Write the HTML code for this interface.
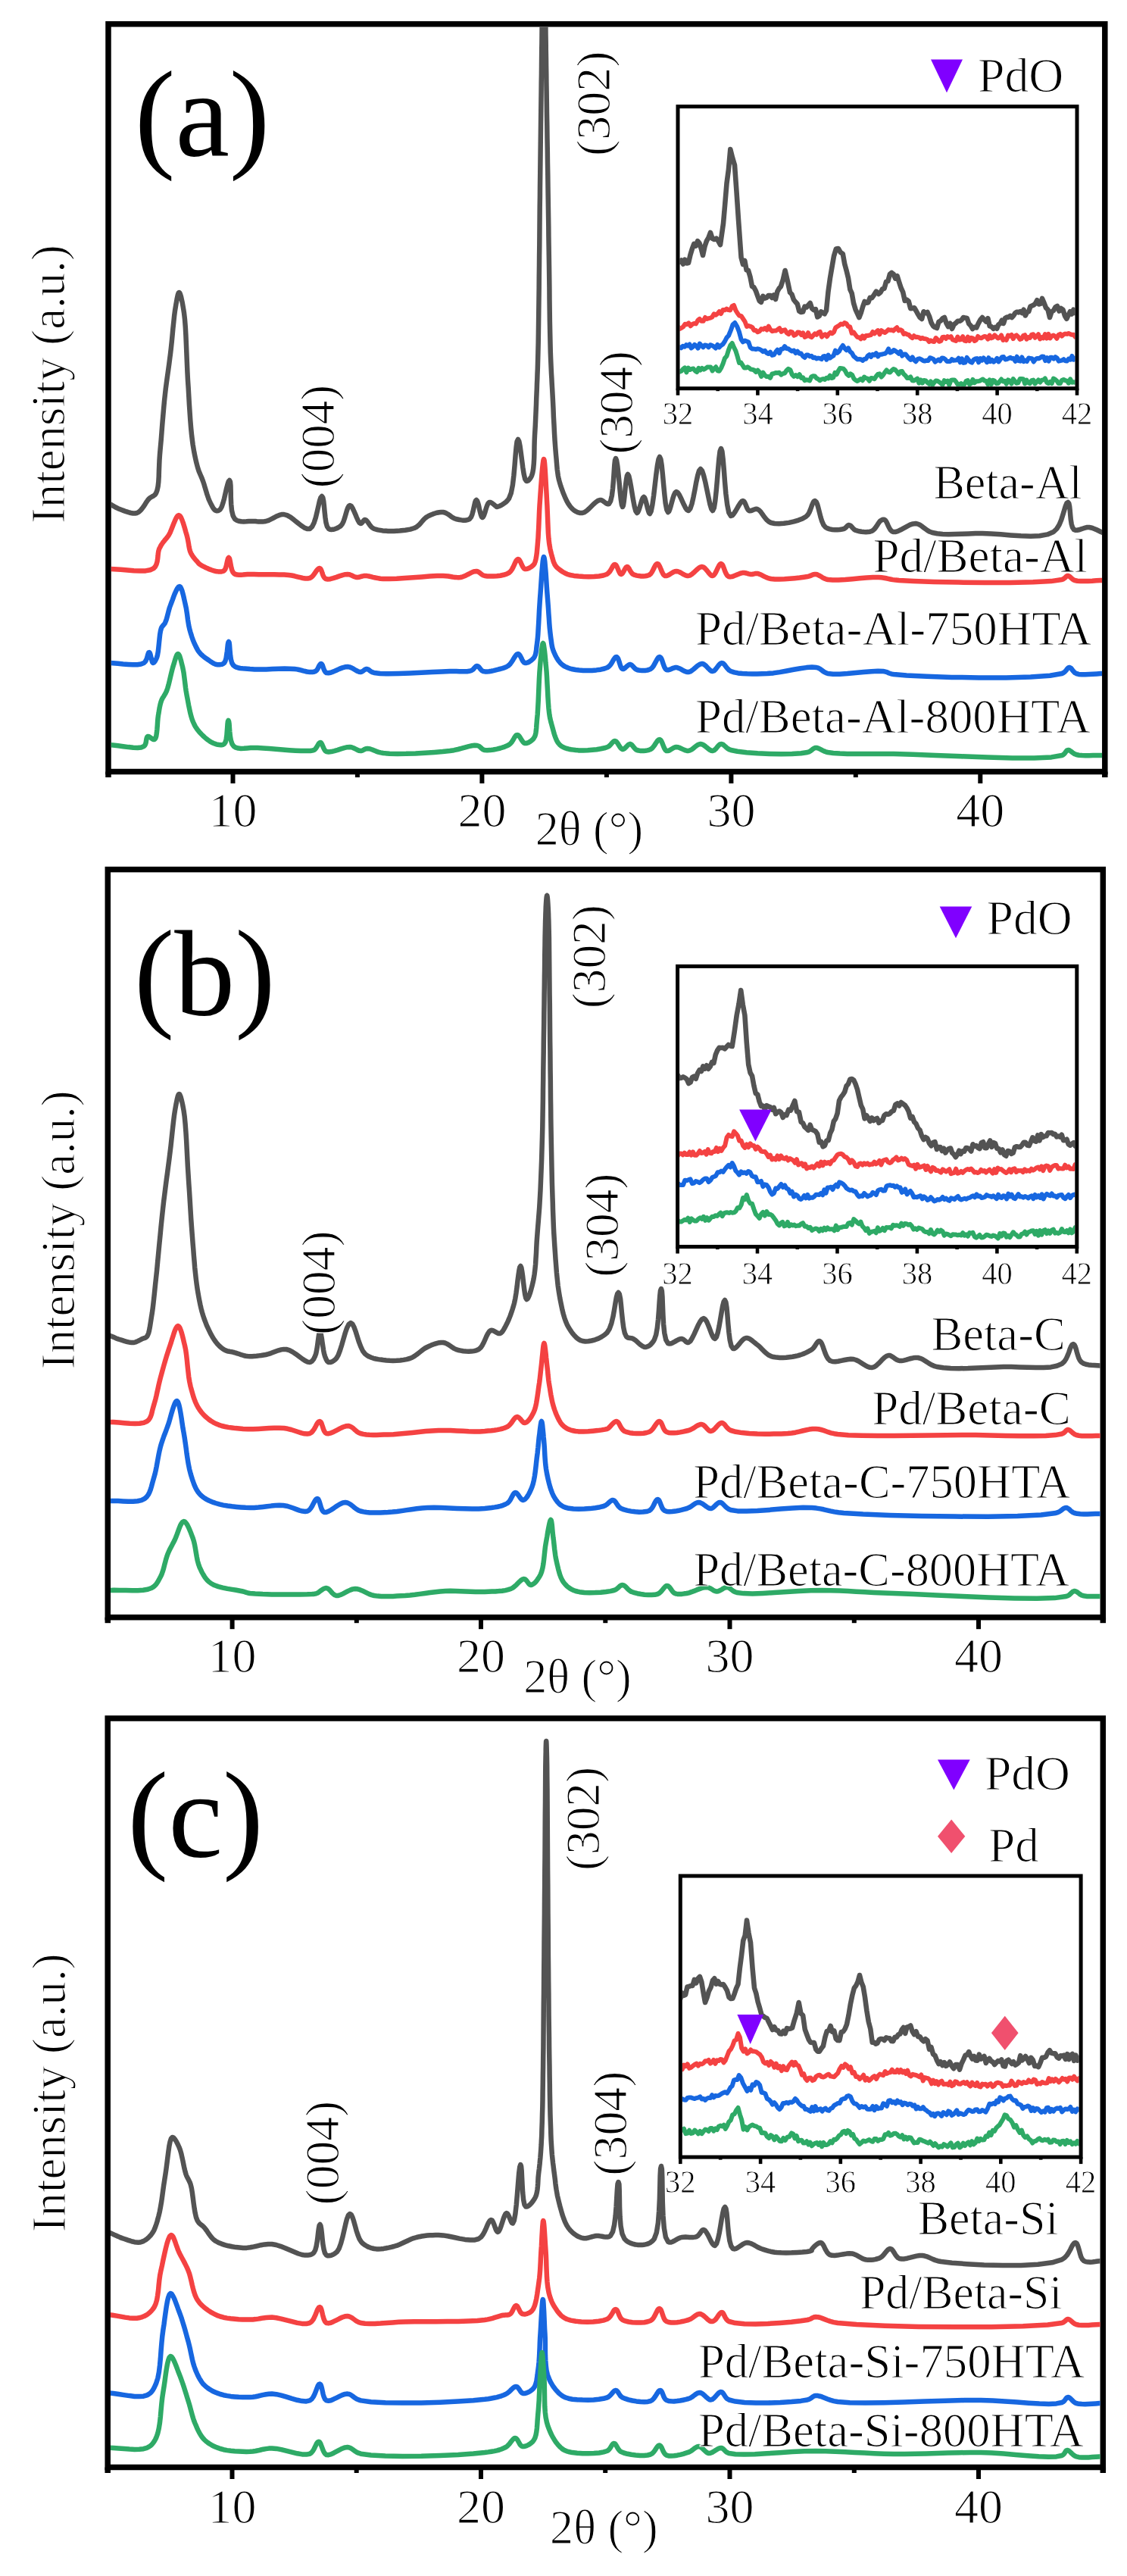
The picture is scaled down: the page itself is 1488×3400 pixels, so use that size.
<!DOCTYPE html>
<html><head><meta charset="utf-8"><style>
html,body{margin:0;padding:0;background:#fff;}
svg{display:block;}
text{font-family:"Liberation Serif",serif;}
.t{stroke:#fff;stroke-width:1.2px;}
.t2{stroke:#fff;stroke-width:0.8px;}
</style></head><body>
<svg width="1488" height="3400" viewBox="0 0 1488 3400" font-family="'Liberation Serif', serif" fill="#000">
<defs><filter id="nolcd" x="0" y="0" width="1" height="1"><feOffset dx="0" dy="0"/></filter></defs>
<rect width="1488" height="3400" fill="#fff"/>
<rect x="143" y="31.75" width="1315.8" height="986.75" fill="none" stroke="#000" stroke-width="7.5"/>
<rect x="304.5" y="1018.5" width="6" height="15.5" fill="#000"/>
<rect x="633.4" y="1018.5" width="6" height="15.5" fill="#000"/>
<rect x="962.4" y="1018.5" width="6" height="15.5" fill="#000"/>
<rect x="1291.3" y="1018.5" width="6" height="15.5" fill="#000"/>
<rect x="468.9" y="1018.5" width="6" height="7.5" fill="#000"/>
<rect x="797.9" y="1018.5" width="6" height="7.5" fill="#000"/>
<rect x="1126.8" y="1018.5" width="6" height="7.5" fill="#000"/>
<rect x="139.25" y="1018.5" width="7.5" height="7.5" fill="#000"/>
<rect x="1455.05" y="1018.5" width="7.5" height="7.5" fill="#000"/>
<text x="307.5" y="1091" font-size="64" text-anchor="middle" class="t">10</text>
<text x="636.4" y="1091" font-size="64" text-anchor="middle" class="t">20</text>
<text x="965.4" y="1091" font-size="64" text-anchor="middle" class="t">30</text>
<text x="1294.3" y="1091" font-size="64" text-anchor="middle" class="t">40</text>
<text x="706.7" y="1115.3" font-size="64" text-anchor="start" textLength="142.5" lengthAdjust="spacingAndGlyphs" class="t">2θ (°)</text>
<text x="85.2" y="691.1" font-size="64" transform="rotate(-90 85.2 691.1)" textLength="367.9" lengthAdjust="spacingAndGlyphs" class="t">Intensity (a.u.)</text>
<clipPath id="ca"><rect x="146.75" y="35.5" width="1308.3" height="979.25"/></clipPath>
<text x="177.8" y="205" font-size="161" text-anchor="start">(a)</text>
<path d="M143.0,664.0 L144.8,665.0 L146.7,666.1 L148.4,667.2 L150.2,668.2 L152.1,669.3 L154.0,670.2 L155.9,671.2 L158.0,672.0 L160.6,673.0 L163.5,674.1 L166.5,675.2 L169.6,676.2 L172.7,677.0 L175.6,677.5 L178.4,677.5 L181.0,677.0 L183.4,675.7 L185.6,673.7 L187.7,671.2 L189.7,668.4 L191.6,665.4 L193.4,662.6 L195.2,660.0 L197.0,658.0 L198.2,657.0 L199.5,656.2 L200.7,655.5 L201.9,654.9 L203.0,654.2 L204.1,653.4 L205.1,652.4 L206.0,651.0 L207.5,647.1 L208.6,642.0 L209.3,636.0 L209.7,629.3 L209.9,622.1 L210.2,614.7 L210.5,607.3 L211.0,600.0 L211.8,590.7 L212.7,580.9 L213.5,570.6 L214.3,560.1 L215.2,549.6 L216.1,539.3 L217.0,529.3 L218.0,520.0 L218.8,512.9 L219.7,506.1 L220.6,499.5 L221.5,493.1 L222.4,486.7 L223.3,480.3 L224.1,473.8 L225.0,467.0 L225.9,459.1 L226.8,450.7 L227.6,442.1 L228.4,433.4 L229.3,425.0 L230.1,417.2 L231.0,410.1 L232.0,404.0 L232.5,401.0 L233.1,397.9 L233.6,394.8 L234.2,392.0 L234.7,389.6 L235.3,387.7 L235.9,386.4 L236.5,386.0 L237.3,386.7 L238.1,388.6 L239.0,391.5 L239.8,395.1 L240.7,399.3 L241.5,403.8 L242.3,408.5 L243.0,413.0 L244.0,421.7 L244.8,431.7 L245.4,442.8 L245.9,454.5 L246.4,466.7 L246.9,478.9 L247.4,490.7 L248.0,502.0 L248.7,512.4 L249.3,523.1 L249.9,533.8 L250.6,544.3 L251.3,554.6 L252.1,564.4 L253.0,573.6 L254.0,582.0 L254.7,587.2 L255.5,592.1 L256.3,596.7 L257.2,601.2 L258.1,605.4 L259.0,609.4 L260.0,613.3 L261.0,617.0 L261.8,619.5 L262.6,621.9 L263.5,624.1 L264.4,626.2 L265.3,628.3 L266.2,630.4 L267.1,632.6 L268.0,635.0 L269.1,638.2 L270.1,641.6 L271.2,645.2 L272.3,648.9 L273.4,652.5 L274.6,656.0 L275.7,659.2 L277.0,662.0 L277.9,663.9 L278.9,665.8 L279.8,667.7 L280.8,669.5 L281.8,671.1 L282.9,672.4 L283.9,673.4 L285.0,674.0 L285.7,674.2 L286.5,674.2 L287.2,674.2 L288.0,674.0 L288.8,673.6 L289.5,673.2 L290.3,672.7 L291.0,672.0 L292.7,669.0 L294.4,664.0 L296.1,657.8 L297.6,651.1 L299.1,644.6 L300.5,639.2 L301.8,635.4 L303.0,634.0 L304.0,636.0 L304.5,641.0 L304.7,648.2 L304.8,656.7 L305.2,665.5 L306.0,673.8 L307.6,680.6 L310.0,685.0 L312.4,686.7 L315.2,687.7 L318.4,688.2 L321.8,688.4 L325.3,688.3 L328.7,688.1 L332.0,688.0 L335.0,688.0 L337.1,688.1 L339.2,688.3 L341.1,688.4 L343.1,688.5 L345.0,688.6 L346.9,688.5 L348.9,688.3 L351.0,688.0 L353.8,687.2 L356.6,685.9 L359.6,684.4 L362.5,682.8 L365.6,681.2 L368.7,679.9 L371.8,679.1 L375.0,679.0 L379.1,680.2 L383.6,682.7 L388.2,686.2 L392.8,689.9 L397.4,693.5 L401.7,696.4 L405.6,698.1 L409.0,698.0 L412.1,695.2 L414.7,689.8 L416.9,682.9 L418.8,675.1 L420.5,667.6 L422.0,661.1 L423.5,656.6 L425.0,655.0 L426.3,656.8 L427.2,661.3 L427.9,667.7 L428.6,675.1 L429.4,682.7 L430.4,689.6 L431.9,695.0 L434.0,698.0 L435.7,698.7 L437.6,698.9 L439.7,698.8 L441.9,698.3 L444.1,697.5 L446.2,696.5 L448.2,695.3 L450.0,694.0 L452.0,691.5 L453.7,687.8 L455.2,683.4 L456.5,678.8 L457.8,674.4 L459.1,670.6 L460.5,668.0 L462.0,667.0 L463.7,667.9 L465.4,670.5 L467.2,674.3 L469.1,678.6 L470.9,683.0 L472.7,686.9 L474.4,689.8 L476.0,691.0 L476.8,690.9 L477.5,690.4 L478.2,689.6 L479.0,688.6 L479.7,687.6 L480.4,686.8 L481.2,686.2 L482.0,686.0 L483.2,686.5 L484.4,687.6 L485.7,689.2 L487.0,691.1 L488.4,693.2 L490.0,695.1 L491.9,696.8 L494.0,698.0 L498.9,699.4 L505.2,700.4 L512.3,700.9 L520.0,700.9 L527.7,700.6 L535.1,699.8 L541.7,698.6 L547.0,697.0 L549.8,695.6 L552.1,693.8 L554.2,691.8 L556.1,689.6 L557.9,687.5 L559.8,685.4 L561.8,683.5 L564.0,682.0 L566.4,680.7 L569.0,679.5 L571.7,678.4 L574.4,677.5 L577.2,676.7 L579.9,676.2 L582.5,675.9 L585.0,676.0 L587.2,676.5 L589.4,677.5 L591.5,678.7 L593.6,680.2 L595.6,681.7 L597.7,683.1 L599.8,684.2 L602.0,685.0 L604.2,685.5 L606.6,686.0 L609.1,686.4 L611.5,686.7 L613.9,686.7 L616.1,686.5 L618.2,685.9 L620.0,685.0 L621.8,682.8 L623.3,679.5 L624.4,675.4 L625.4,671.1 L626.3,666.9 L627.1,663.4 L628.0,660.9 L629.0,660.0 L630.0,661.0 L631.0,663.6 L632.0,667.2 L632.9,671.5 L633.9,675.7 L634.9,679.4 L635.9,682.0 L637.0,683.0 L638.0,682.2 L639.0,680.1 L640.1,677.0 L641.1,673.5 L642.2,669.9 L643.4,666.7 L644.6,664.2 L646.0,663.0 L647.1,662.9 L648.3,663.3 L649.6,664.0 L650.9,665.0 L652.2,666.0 L653.3,666.9 L654.3,667.7 L655.0,668.3 L655.2,668.4 L655.3,668.5 L655.4,668.7 L655.5,668.8 L655.6,668.9 L655.7,668.9 L655.8,669.0 L656.0,669.0 L657.1,668.8 L658.8,668.2 L660.9,667.3 L663.2,666.0 L665.6,664.4 L668.0,662.6 L670.2,660.4 L672.0,658.0 L674.8,650.8 L676.9,640.1 L678.4,627.4 L679.6,613.9 L680.6,601.1 L681.6,590.3 L682.6,582.8 L684.0,580.0 L685.3,582.3 L686.5,588.3 L687.7,597.0 L689.0,606.9 L690.3,616.9 L691.7,625.8 L693.2,632.2 L695.0,635.0 L695.8,635.0 L696.7,634.7 L697.7,634.1 L698.6,633.2 L699.5,632.1 L700.4,630.8 L701.3,629.5 L702.0,628.0 L703.3,623.8 L704.2,618.4 L704.8,611.9 L705.2,604.8 L705.4,597.2 L705.5,589.5 L705.7,582.0 L706.0,575.0 L706.4,568.2 L706.8,561.3 L707.1,554.5 L707.4,547.6 L707.7,540.7 L708.0,533.8 L708.2,526.9 L708.5,520.0 L708.8,513.3 L709.0,506.7 L709.3,500.3 L709.5,493.8 L709.8,487.1 L710.0,480.2 L710.2,472.8 L710.4,465.0 L710.7,452.6 L710.9,439.1 L711.1,424.7 L711.3,409.7 L711.5,394.5 L711.7,379.3 L711.8,364.4 L712.0,350.0 L712.1,336.9 L712.3,324.1 L712.4,311.4 L712.5,298.8 L712.6,286.2 L712.7,273.4 L712.9,260.4 L713.0,247.0 L713.2,231.6 L713.4,215.6 L713.6,199.2 L713.8,182.7 L714.0,166.3 L714.2,150.3 L714.4,134.7 L714.6,120.0 L714.7,108.6 L714.9,97.7 L715.0,87.1 L715.1,76.7 L715.2,66.5 L715.4,56.2 L715.5,45.7 L715.6,35.0 L715.7,23.2 L715.8,11.1 L715.9,-1.2 L716.0,-13.5 L716.1,-25.7 L716.2,-37.7 L716.3,-49.1 L716.5,-60.0 L716.7,-69.0 L716.8,-78.8 L717.0,-88.8 L717.2,-98.4 L717.4,-106.9 L717.6,-113.8 L717.8,-118.3 L718.0,-120.0 L718.2,-118.3 L718.4,-113.8 L718.6,-106.9 L718.8,-98.4 L719.0,-88.8 L719.2,-78.8 L719.3,-69.0 L719.5,-60.0 L719.7,-49.1 L719.8,-37.7 L719.9,-25.7 L720.0,-13.5 L720.1,-1.2 L720.2,11.1 L720.3,23.2 L720.4,35.0 L720.5,45.7 L720.7,56.2 L720.8,66.5 L721.0,76.7 L721.1,87.1 L721.3,97.7 L721.4,108.6 L721.6,120.0 L721.8,134.7 L722.0,150.3 L722.3,166.3 L722.5,182.7 L722.8,199.2 L723.0,215.6 L723.3,231.6 L723.5,247.0 L723.7,260.4 L723.9,273.4 L724.1,286.2 L724.3,298.8 L724.4,311.4 L724.6,324.1 L724.8,336.9 L725.0,350.0 L725.2,364.4 L725.4,379.3 L725.5,394.5 L725.7,409.7 L725.9,424.7 L726.2,439.1 L726.5,452.6 L726.8,465.0 L727.1,472.8 L727.4,479.9 L727.7,486.6 L728.0,493.1 L728.4,499.5 L728.7,506.0 L729.1,512.8 L729.5,520.0 L730.0,529.5 L730.5,539.7 L730.9,550.3 L731.5,561.0 L732.0,571.6 L732.6,581.8 L733.3,591.4 L734.0,600.0 L734.5,605.3 L734.9,610.3 L735.3,615.1 L735.7,619.6 L736.3,624.0 L736.9,628.3 L737.8,632.6 L739.0,637.0 L740.4,641.6 L742.1,646.4 L743.9,651.3 L745.9,656.1 L748.0,660.6 L750.2,664.7 L752.6,668.2 L755.0,671.0 L756.6,672.4 L758.2,673.7 L759.9,674.8 L761.7,675.7 L763.4,676.4 L765.3,676.9 L767.1,677.1 L769.0,677.0 L771.7,676.1 L774.6,674.1 L777.6,671.5 L780.6,668.5 L783.6,665.5 L786.6,662.9 L789.4,660.9 L792.0,660.0 L793.7,660.1 L795.3,660.8 L796.9,661.8 L798.5,663.0 L800.0,664.1 L801.4,664.9 L802.8,665.3 L804.0,665.0 L806.2,661.3 L807.9,654.0 L809.1,644.3 L810.0,633.5 L810.7,623.0 L811.3,613.8 L812.0,607.4 L813.0,605.0 L814.1,607.8 L815.3,615.0 L816.4,625.2 L817.6,637.0 L818.7,648.7 L819.8,659.0 L820.9,666.2 L822.0,669.0 L822.9,667.2 L823.7,662.3 L824.5,655.4 L825.3,647.5 L826.1,639.7 L827.0,632.8 L827.9,627.9 L829.0,626.0 L830.3,628.1 L831.6,633.9 L833.1,642.0 L834.6,651.3 L836.2,660.7 L837.8,668.9 L839.4,674.7 L841.0,677.0 L842.1,676.2 L843.2,673.8 L844.4,670.4 L845.5,666.6 L846.7,662.7 L847.8,659.3 L848.9,656.9 L850.0,656.0 L851.1,657.0 L852.1,659.5 L853.1,663.1 L854.1,667.1 L855.1,671.2 L856.1,674.7 L857.0,677.1 L858.0,678.0 L859.7,674.7 L861.4,666.1 L863.1,654.1 L864.7,640.3 L866.3,626.6 L867.9,614.6 L869.5,606.2 L871.0,603.0 L872.4,606.1 L873.7,614.3 L874.9,626.0 L876.1,639.3 L877.4,652.7 L878.7,664.3 L880.3,672.7 L882.0,676.0 L883.2,675.0 L884.4,672.0 L885.7,667.7 L887.0,662.8 L888.4,657.8 L889.8,653.4 L891.4,650.3 L893.0,649.0 L894.8,650.0 L896.7,652.8 L898.8,656.9 L900.9,661.6 L903.1,666.3 L905.1,670.3 L907.1,673.1 L909.0,674.0 L911.3,671.4 L913.5,665.0 L915.5,656.2 L917.5,646.1 L919.3,636.2 L921.2,627.5 L923.0,621.3 L925.0,619.0 L927.0,621.4 L929.1,627.6 L931.3,636.5 L933.4,646.6 L935.5,656.7 L937.4,665.5 L939.3,671.7 L941.0,674.0 L942.8,670.4 L944.3,661.0 L945.7,647.9 L947.0,632.9 L948.2,617.9 L949.4,604.8 L950.6,595.5 L952.0,592.0 L953.4,595.7 L954.6,605.6 L955.8,619.6 L957.0,635.7 L958.4,651.9 L960.2,666.2 L962.3,676.5 L965.0,681.0 L966.7,680.5 L968.7,678.3 L970.8,675.1 L973.0,671.3 L975.2,667.5 L977.3,664.2 L979.3,661.8 L981.0,661.0 L982.1,661.6 L983.1,662.9 L984.0,664.8 L984.9,667.0 L985.8,669.2 L986.7,671.3 L987.8,673.0 L989.0,674.0 L990.2,674.3 L991.5,674.1 L992.8,673.6 L994.2,673.1 L995.7,672.5 L997.1,672.0 L998.6,671.8 L1000.0,672.0 L1002.1,673.2 L1004.1,675.2 L1006.0,677.8 L1008.0,680.7 L1010.2,683.6 L1012.5,686.3 L1015.1,688.5 L1018.0,690.0 L1022.8,691.0 L1028.6,691.2 L1034.9,690.8 L1041.6,689.9 L1048.2,688.4 L1054.3,686.6 L1059.7,684.4 L1064.0,682.0 L1066.4,679.7 L1068.3,676.6 L1069.8,673.1 L1071.1,669.6 L1072.3,666.2 L1073.5,663.5 L1074.7,661.6 L1076.0,661.0 L1077.7,662.4 L1079.2,665.8 L1080.5,670.7 L1082.0,676.5 L1083.5,682.5 L1085.3,688.2 L1087.4,692.9 L1090.0,696.0 L1092.6,697.4 L1095.6,698.4 L1098.8,699.0 L1102.3,699.3 L1105.6,699.2 L1108.8,699.0 L1111.7,698.5 L1114.0,698.0 L1115.1,697.5 L1116.1,696.8 L1117.0,696.0 L1117.8,695.1 L1118.6,694.3 L1119.3,693.6 L1120.1,693.2 L1121.0,693.0 L1122.0,693.3 L1123.1,693.9 L1124.1,694.9 L1125.1,696.0 L1126.2,697.2 L1127.3,698.3 L1128.6,699.3 L1130.0,700.0 L1132.2,700.7 L1134.7,701.3 L1137.5,701.8 L1140.4,702.1 L1143.3,702.3 L1146.1,702.1 L1148.7,701.7 L1151.0,701.0 L1152.9,699.8 L1154.6,698.1 L1156.2,696.1 L1157.7,693.9 L1159.1,691.7 L1160.4,689.7 L1161.7,688.1 L1163.0,687.0 L1163.7,686.6 L1164.3,686.3 L1164.9,686.0 L1165.5,685.8 L1166.1,685.7 L1166.7,685.7 L1167.4,685.8 L1168.0,686.0 L1169.2,687.0 L1170.4,688.8 L1171.5,691.2 L1172.7,693.9 L1174.0,696.5 L1175.4,699.0 L1177.1,700.9 L1179.0,702.0 L1181.9,702.1 L1185.4,701.1 L1189.2,699.3 L1193.2,697.1 L1197.4,694.8 L1201.5,692.7 L1205.4,691.4 L1209.0,691.0 L1211.9,691.6 L1214.5,692.8 L1216.9,694.4 L1219.4,696.3 L1221.9,698.2 L1224.6,700.1 L1227.6,701.8 L1231.0,703.0 L1237.4,704.2 L1244.6,704.9 L1252.5,705.2 L1260.9,705.1 L1269.8,704.8 L1278.8,704.5 L1287.9,704.1 L1297.0,704.0 L1308.5,704.4 L1321.2,705.3 L1334.5,706.4 L1347.9,707.3 L1360.8,707.7 L1372.6,707.2 L1382.9,705.4 L1391.0,702.0 L1395.2,698.0 L1398.6,692.5 L1401.3,686.0 L1403.4,679.3 L1405.3,673.0 L1406.9,667.8 L1408.4,664.2 L1410.0,663.0 L1411.3,664.5 L1412.1,668.2 L1412.7,673.5 L1413.2,679.6 L1413.8,685.8 L1414.7,691.6 L1416.0,696.2 L1418.0,699.0 L1419.9,699.8 L1422.2,699.8 L1424.6,699.3 L1427.3,698.4 L1430.0,697.5 L1432.8,696.6 L1435.4,696.0 L1438.0,696.0 L1440.5,696.5 L1443.0,697.2 L1445.5,698.2 L1448.0,699.3 L1450.5,700.5 L1453.0,701.7 L1455.5,702.9 L1458.0,704.0" fill="none" stroke="#535353" stroke-width="6.5" stroke-linejoin="round" stroke-linecap="round" clip-path="url(#ca)"/>
<path d="M143.0,751.0 L150.9,751.2 L159.4,751.8 L168.1,752.6 L176.7,753.3 L184.9,753.6 L192.2,753.4 L198.3,752.3 L203.0,750.0 L205.1,747.7 L206.5,744.8 L207.5,741.4 L208.1,737.8 L208.5,734.2 L208.8,730.7 L209.3,727.6 L210.0,725.0 L210.5,723.8 L211.1,722.7 L211.6,721.7 L212.1,720.7 L212.6,719.8 L213.2,718.9 L213.8,718.0 L214.5,717.0 L215.4,715.7 L216.4,714.5 L217.4,713.2 L218.5,711.9 L219.6,710.6 L220.8,709.2 L221.9,707.7 L223.0,706.0 L224.6,703.0 L226.2,699.1 L227.9,694.8 L229.6,690.4 L231.3,686.4 L232.9,683.1 L234.5,680.8 L236.0,680.0 L237.5,680.8 L238.9,682.9 L240.3,686.0 L241.7,689.8 L243.0,694.0 L244.3,698.3 L245.4,702.4 L246.5,706.0 L247.3,709.1 L248.0,712.3 L248.6,715.5 L249.1,718.6 L249.6,721.7 L250.2,724.7 L251.0,727.5 L252.0,730.0 L253.0,731.8 L254.1,733.6 L255.3,735.3 L256.5,736.9 L257.8,738.4 L259.0,739.7 L260.1,740.9 L261.0,742.0 L261.4,742.5 L261.8,742.9 L262.1,743.3 L262.3,743.6 L262.7,743.9 L263.0,744.3 L263.5,744.6 L264.0,745.0 L265.7,746.1 L268.0,747.3 L270.7,748.7 L273.7,750.1 L276.7,751.4 L279.7,752.5 L282.5,753.4 L285.0,754.0 L286.6,754.2 L288.1,754.4 L289.6,754.5 L291.0,754.5 L292.4,754.4 L293.7,754.1 L294.9,753.7 L296.0,753.0 L297.2,751.5 L298.1,749.2 L298.9,746.4 L299.5,743.5 L300.1,740.7 L300.7,738.3 L301.3,736.6 L302.0,736.0 L302.8,736.8 L303.4,738.8 L304.0,741.7 L304.6,745.1 L305.3,748.8 L306.2,752.2 L307.4,755.1 L309.0,757.0 L310.9,758.0 L313.1,758.6 L315.4,758.8 L318.1,758.7 L320.8,758.5 L323.8,758.2 L326.8,758.0 L330.0,758.0 L335.4,758.1 L341.5,758.2 L348.2,758.2 L355.1,758.2 L362.0,758.3 L368.8,758.4 L375.2,758.6 L381.0,759.0 L385.0,759.5 L388.9,760.3 L392.7,761.3 L396.4,762.2 L399.8,763.0 L403.1,763.5 L406.2,763.5 L409.0,763.0 L411.1,761.9 L413.0,760.1 L414.7,757.9 L416.3,755.6 L417.8,753.4 L419.3,751.6 L420.7,750.3 L422.0,750.0 L423.1,750.6 L424.0,752.1 L424.8,754.1 L425.5,756.4 L426.3,758.8 L427.3,761.0 L428.5,762.8 L430.0,764.0 L432.7,764.5 L436.1,764.2 L439.9,763.2 L444.0,761.9 L448.1,760.4 L452.2,759.1 L455.8,758.2 L459.0,758.0 L460.8,758.2 L462.4,758.7 L463.9,759.3 L465.4,760.0 L466.8,760.7 L468.2,761.3 L469.6,761.8 L471.0,762.0 L472.4,762.0 L473.7,761.8 L475.0,761.5 L476.3,761.1 L477.6,760.7 L479.0,760.4 L480.4,760.1 L482.0,760.0 L484.5,760.1 L487.0,760.5 L489.7,761.1 L492.5,761.8 L495.6,762.5 L498.8,763.1 L502.3,763.7 L506.0,764.0 L514.0,764.1 L523.6,763.8 L534.3,763.1 L545.6,762.3 L556.8,761.4 L567.5,760.6 L577.1,760.1 L585.0,760.0 L588.5,760.2 L591.8,760.5 L594.7,761.0 L597.5,761.5 L600.1,761.9 L602.7,762.1 L605.3,762.2 L608.0,762.0 L610.8,761.3 L613.5,760.3 L616.3,758.9 L619.1,757.5 L621.7,756.1 L624.3,754.9 L626.7,754.2 L629.0,754.0 L630.5,754.3 L631.9,754.9 L633.1,755.8 L634.3,756.8 L635.5,757.8 L636.9,758.7 L638.3,759.5 L640.0,760.0 L643.3,760.4 L647.2,760.6 L651.5,760.6 L656.1,760.3 L660.6,759.7 L664.9,758.8 L668.8,757.6 L672.0,756.0 L674.1,754.1 L675.9,751.6 L677.5,748.6 L678.9,745.6 L680.2,742.7 L681.4,740.3 L682.7,738.6 L684.0,738.0 L685.2,738.5 L686.2,739.9 L687.3,741.8 L688.3,744.1 L689.4,746.4 L690.5,748.5 L691.7,750.2 L693.0,751.0 L694.3,751.1 L695.7,750.9 L697.3,750.4 L698.8,749.7 L700.3,748.8 L701.7,747.9 L703.0,746.9 L704.0,746.0 L704.6,745.4 L705.1,744.7 L705.5,744.1 L705.8,743.4 L706.1,742.7 L706.4,741.9 L706.7,741.0 L707.0,740.0 L707.5,737.9 L708.0,735.4 L708.4,732.7 L708.8,729.7 L709.1,726.5 L709.4,723.1 L709.7,719.6 L710.0,716.0 L710.5,710.1 L710.8,703.6 L711.2,696.7 L711.5,689.4 L711.8,682.0 L712.1,674.5 L712.5,667.1 L713.0,660.0 L713.5,652.5 L714.1,643.9 L714.8,634.9 L715.4,626.2 L716.1,618.3 L716.8,611.9 L717.4,607.6 L718.0,606.0 L718.6,607.6 L719.1,611.9 L719.6,618.3 L720.1,626.2 L720.6,634.9 L721.1,643.9 L721.6,652.5 L722.0,660.0 L722.4,667.2 L722.7,674.6 L723.0,682.2 L723.3,689.8 L723.6,697.1 L723.9,704.1 L724.4,710.4 L725.0,716.0 L725.4,718.9 L725.9,721.6 L726.3,724.1 L726.8,726.5 L727.3,728.7 L727.9,730.9 L728.4,733.0 L729.0,735.0 L729.4,736.6 L729.9,738.1 L730.3,739.6 L730.7,741.0 L731.2,742.3 L731.8,743.6 L732.3,744.9 L733.0,746.0 L733.6,746.9 L734.2,747.7 L734.9,748.5 L735.6,749.2 L736.4,749.9 L737.2,750.6 L738.1,751.3 L739.0,752.0 L740.4,753.0 L741.8,754.0 L743.3,755.0 L745.0,755.9 L746.7,756.8 L748.7,757.7 L750.7,758.4 L753.0,759.0 L757.8,759.9 L763.8,760.5 L770.4,761.0 L777.4,761.2 L784.4,761.0 L790.9,760.5 L796.6,759.5 L801.0,758.0 L803.0,756.6 L804.7,754.8 L806.2,752.6 L807.5,750.4 L808.6,748.3 L809.7,746.5 L810.8,745.4 L812.0,745.0 L813.1,745.6 L814.1,747.1 L815.1,749.2 L816.1,751.5 L817.0,753.9 L818.0,755.9 L819.0,757.4 L820.0,758.0 L821.0,757.6 L822.0,756.5 L823.0,754.9 L824.0,753.1 L825.0,751.2 L826.0,749.6 L827.0,748.4 L828.0,748.0 L828.9,748.3 L829.8,749.3 L830.7,750.6 L831.5,752.3 L832.5,754.0 L833.5,755.6 L834.6,757.0 L836.0,758.0 L838.1,758.9 L840.6,759.6 L843.4,760.1 L846.3,760.4 L849.3,760.5 L852.1,760.3 L854.8,759.8 L857.0,759.0 L858.8,757.7 L860.4,755.6 L861.8,753.2 L863.1,750.5 L864.3,748.0 L865.5,745.9 L866.7,744.5 L868.0,744.0 L869.3,744.7 L870.4,746.4 L871.5,748.7 L872.7,751.5 L873.8,754.3 L875.1,756.9 L876.4,758.9 L878.0,760.0 L879.6,760.1 L881.3,759.6 L883.2,758.7 L885.1,757.5 L887.1,756.3 L889.1,755.1 L891.1,754.3 L893.0,754.0 L895.0,754.3 L897.0,755.0 L899.0,756.0 L901.0,757.2 L903.0,758.4 L905.0,759.3 L907.0,759.9 L909.0,760.0 L911.3,759.3 L913.6,757.8 L915.9,755.8 L918.2,753.6 L920.5,751.5 L922.7,749.6 L924.9,748.4 L927.0,748.0 L928.9,748.6 L930.8,750.1 L932.6,752.1 L934.4,754.3 L936.1,756.5 L937.8,758.4 L939.4,759.7 L941.0,760.0 L942.5,759.1 L944.0,757.2 L945.4,754.7 L946.8,751.7 L948.1,748.9 L949.4,746.4 L950.7,744.6 L952.0,744.0 L953.2,744.7 L954.4,746.4 L955.4,748.9 L956.5,751.8 L957.6,754.8 L958.9,757.5 L960.3,759.7 L962.0,761.0 L964.0,761.4 L966.2,761.1 L968.7,760.3 L971.3,759.3 L973.8,758.2 L976.4,757.2 L978.8,756.4 L981.0,756.0 L982.5,756.0 L984.0,756.2 L985.4,756.5 L986.8,756.9 L988.1,757.3 L989.4,757.6 L990.7,757.9 L992.0,758.0 L993.0,758.0 L994.0,757.8 L995.0,757.6 L995.9,757.4 L996.8,757.2 L997.8,757.0 L998.9,756.9 L1000.0,757.0 L1001.9,757.4 L1003.8,758.2 L1005.8,759.2 L1008.0,760.3 L1010.2,761.4 L1012.7,762.5 L1015.2,763.4 L1018.0,764.0 L1023.1,764.5 L1029.1,764.6 L1035.7,764.3 L1042.6,763.8 L1049.4,763.2 L1055.8,762.5 L1061.5,761.7 L1066.0,761.0 L1067.8,760.6 L1069.3,760.1 L1070.6,759.6 L1071.9,759.1 L1073.1,758.6 L1074.3,758.2 L1075.6,758.0 L1077.0,758.0 L1078.8,758.3 L1080.5,759.1 L1082.3,760.0 L1084.1,761.1 L1086.0,762.3 L1088.1,763.4 L1090.4,764.3 L1093.0,765.0 L1099.3,765.6 L1107.1,765.5 L1116.0,765.0 L1125.4,764.2 L1135.0,763.3 L1144.3,762.5 L1152.7,762.0 L1160.0,762.0 L1163.8,762.3 L1167.0,762.7 L1169.9,763.3 L1172.6,763.9 L1175.5,764.5 L1178.7,765.1 L1182.5,765.6 L1187.0,766.0 L1206.0,767.0 L1233.2,767.9 L1265.4,768.6 L1299.9,769.0 L1333.8,768.9 L1364.0,768.3 L1387.7,767.1 L1402.0,765.0 L1403.6,764.4 L1404.9,763.6 L1405.9,762.8 L1406.8,762.0 L1407.5,761.2 L1408.3,760.6 L1409.1,760.1 L1410.0,760.0 L1411.0,760.2 L1412.0,760.8 L1413.0,761.6 L1414.0,762.5 L1415.0,763.5 L1416.2,764.5 L1417.5,765.4 L1419.0,766.0 L1422.5,766.7 L1426.7,767.0 L1431.5,767.1 L1436.7,766.9 L1442.1,766.7 L1447.6,766.3 L1452.9,766.1 L1458.0,766.0" fill="none" stroke="#F44242" stroke-width="6.5" stroke-linejoin="round" stroke-linecap="round" clip-path="url(#ca)"/>
<path d="M143.0,875.0 L149.2,875.2 L155.8,875.7 L162.6,876.4 L169.3,876.9 L175.6,877.3 L181.4,877.2 L186.2,876.5 L190.0,875.0 L191.6,873.5 L192.8,871.5 L193.8,869.2 L194.5,866.8 L195.2,864.6 L195.7,862.7 L196.3,861.4 L197.0,861.0 L197.7,861.6 L198.3,863.2 L198.9,865.4 L199.5,867.9 L200.1,870.5 L200.7,872.7 L201.3,874.3 L202.0,875.0 L202.6,874.9 L203.2,874.5 L203.9,873.8 L204.5,872.9 L205.2,871.8 L205.8,870.6 L206.4,869.3 L207.0,868.0 L208.0,864.5 L208.8,859.8 L209.4,854.3 L210.0,848.5 L210.6,842.7 L211.2,837.2 L212.0,832.5 L213.0,829.0 L213.6,827.8 L214.2,826.9 L214.8,826.1 L215.5,825.4 L216.1,824.7 L216.8,823.9 L217.4,823.1 L218.0,822.0 L218.9,819.8 L219.8,817.3 L220.6,814.4 L221.4,811.4 L222.2,808.3 L223.0,805.1 L223.9,802.0 L225.0,799.0 L226.3,795.5 L227.8,791.6 L229.3,787.4 L230.9,783.3 L232.6,779.6 L234.2,776.6 L235.7,774.7 L237.0,774.0 L238.2,774.8 L239.3,776.8 L240.4,779.7 L241.4,783.3 L242.4,787.3 L243.3,791.4 L244.2,795.4 L245.0,799.0 L245.8,802.6 L246.4,806.4 L247.0,810.3 L247.5,814.2 L248.0,818.0 L248.6,821.8 L249.2,825.5 L250.0,829.0 L250.7,831.9 L251.5,834.7 L252.4,837.5 L253.2,840.2 L254.1,842.8 L255.0,845.3 L256.0,847.7 L257.0,850.0 L257.8,851.7 L258.6,853.4 L259.4,854.9 L260.2,856.4 L261.0,857.9 L261.9,859.3 L262.9,860.7 L264.0,862.0 L265.2,863.3 L266.5,864.5 L267.8,865.7 L269.2,866.9 L270.6,868.0 L272.1,869.0 L273.6,870.0 L275.0,871.0 L276.3,871.9 L277.7,872.9 L279.1,873.8 L280.5,874.7 L281.8,875.5 L283.2,876.2 L284.6,876.7 L286.0,877.0 L287.3,877.2 L288.6,877.3 L290.0,877.2 L291.3,877.1 L292.6,876.9 L293.8,876.4 L295.0,875.8 L296.0,875.0 L297.4,872.6 L298.5,868.9 L299.2,864.3 L299.9,859.4 L300.4,854.7 L300.8,850.8 L301.4,848.0 L302.0,847.0 L302.6,848.1 L303.0,851.0 L303.3,855.3 L303.7,860.3 L304.2,865.6 L305.0,870.7 L306.2,875.0 L308.0,878.0 L309.9,879.6 L312.2,880.7 L314.6,881.5 L317.3,882.0 L320.3,882.3 L323.4,882.5 L326.6,882.7 L330.0,883.0 L336.2,883.4 L343.5,883.5 L351.4,883.4 L359.7,883.1 L367.9,882.8 L375.8,882.6 L382.9,882.7 L389.0,883.0 L392.1,883.4 L395.0,884.0 L397.7,884.6 L400.2,885.3 L402.6,885.9 L404.9,886.5 L407.0,886.8 L409.0,887.0 L410.2,887.0 L411.3,887.0 L412.3,887.0 L413.3,886.9 L414.3,886.7 L415.2,886.5 L416.1,886.2 L417.0,885.7 L418.0,884.8 L419.0,883.4 L419.9,881.8 L420.7,880.1 L421.5,878.6 L422.4,877.2 L423.2,876.3 L424.0,876.0 L424.8,876.5 L425.6,877.7 L426.2,879.4 L426.9,881.4 L427.7,883.5 L428.6,885.5 L429.6,887.0 L431.0,888.0 L433.5,888.3 L436.7,887.7 L440.3,886.4 L444.1,884.7 L448.1,882.9 L452.0,881.4 L455.7,880.3 L459.0,880.0 L461.4,880.4 L463.7,881.3 L466.0,882.4 L468.2,883.7 L470.3,885.0 L472.3,886.0 L474.2,886.8 L476.0,887.0 L477.1,886.8 L478.2,886.3 L479.2,885.7 L480.1,885.0 L481.1,884.2 L482.0,883.6 L483.0,883.2 L484.0,883.0 L485.1,883.2 L486.1,883.6 L487.2,884.3 L488.2,885.1 L489.3,885.9 L490.6,886.7 L492.2,887.4 L494.0,888.0 L501.9,889.0 L513.1,889.3 L526.5,889.1 L541.3,888.6 L556.4,887.8 L570.9,887.1 L583.7,886.4 L594.0,886.0 L598.5,886.0 L602.6,886.1 L606.6,886.2 L610.2,886.3 L613.6,886.3 L616.7,886.2 L619.5,885.8 L622.0,885.2 L623.3,884.5 L624.5,883.6 L625.5,882.6 L626.4,881.5 L627.3,880.6 L628.2,879.7 L629.1,879.2 L630.0,879.0 L631.0,879.3 L631.9,880.0 L632.8,881.0 L633.6,882.1 L634.6,883.3 L635.6,884.5 L636.7,885.4 L638.0,886.0 L640.2,886.4 L642.8,886.4 L645.7,886.2 L648.7,885.7 L651.7,885.1 L654.7,884.4 L657.5,883.7 L660.0,883.0 L661.7,882.5 L663.3,882.1 L664.9,881.6 L666.4,881.1 L667.8,880.5 L669.2,879.8 L670.6,879.0 L672.0,878.0 L673.6,876.4 L675.2,874.2 L676.8,871.8 L678.3,869.2 L679.8,866.8 L681.2,864.8 L682.6,863.5 L684.0,863.0 L685.2,863.5 L686.3,864.8 L687.3,866.6 L688.4,868.7 L689.4,870.9 L690.5,872.8 L691.7,874.3 L693.0,875.0 L694.4,875.1 L696.0,874.7 L697.6,874.1 L699.3,873.1 L700.9,872.0 L702.5,870.7 L703.9,869.4 L705.0,868.0 L706.0,866.3 L706.8,864.5 L707.3,862.5 L707.7,860.3 L708.1,858.0 L708.3,855.5 L708.6,852.8 L709.0,850.0 L709.7,844.2 L710.3,837.4 L710.7,830.0 L711.2,822.0 L711.6,813.9 L712.0,805.6 L712.5,797.6 L713.0,790.0 L713.6,782.3 L714.2,773.5 L714.8,764.4 L715.4,755.5 L716.1,747.5 L716.7,741.0 L717.4,736.6 L718.0,735.0 L718.6,736.6 L719.3,741.1 L719.9,747.7 L720.6,755.8 L721.2,764.7 L721.8,773.9 L722.4,782.5 L723.0,790.0 L723.5,796.5 L724.0,803.2 L724.4,809.9 L724.9,816.6 L725.3,823.0 L725.8,829.2 L726.4,834.9 L727.0,840.0 L727.4,843.0 L727.8,845.7 L728.1,848.3 L728.5,850.8 L728.9,853.1 L729.5,855.4 L730.2,857.7 L731.0,860.0 L732.0,862.3 L733.1,864.7 L734.3,867.0 L735.6,869.3 L737.0,871.5 L738.6,873.5 L740.2,875.4 L742.0,877.0 L743.8,878.4 L745.8,879.6 L747.9,880.6 L750.0,881.5 L752.3,882.3 L754.7,883.0 L757.3,883.5 L760.0,884.0 L764.6,884.5 L769.9,884.9 L775.7,885.0 L781.6,884.9 L787.5,884.4 L793.1,883.7 L798.0,882.5 L802.0,881.0 L804.1,879.5 L806.0,877.5 L807.6,875.1 L809.0,872.7 L810.3,870.4 L811.6,868.6 L812.8,867.4 L814.0,867.0 L815.1,867.8 L816.2,869.5 L817.1,872.0 L817.9,874.8 L818.8,877.6 L819.7,880.1 L820.8,882.0 L822.0,883.0 L823.1,883.0 L824.3,882.4 L825.6,881.4 L826.9,880.2 L828.2,879.0 L829.5,878.0 L830.8,877.2 L832.0,877.0 L833.1,877.3 L834.2,878.0 L835.2,879.0 L836.3,880.1 L837.3,881.3 L838.4,882.4 L839.7,883.4 L841.0,884.0 L842.9,884.5 L845.1,884.8 L847.5,885.0 L849.9,885.0 L852.4,884.9 L854.8,884.5 L857.0,883.9 L859.0,883.0 L860.9,881.5 L862.6,879.3 L864.1,876.6 L865.6,873.9 L867.0,871.2 L868.4,869.0 L869.7,867.5 L871.0,867.0 L872.2,867.7 L873.3,869.5 L874.3,872.0 L875.2,874.9 L876.2,877.8 L877.3,880.6 L878.5,882.7 L880.0,884.0 L881.4,884.3 L882.9,884.2 L884.5,883.7 L886.1,883.0 L887.8,882.2 L889.6,881.6 L891.3,881.1 L893.0,881.0 L894.9,881.4 L896.9,882.2 L898.9,883.2 L900.9,884.3 L902.9,885.4 L905.0,886.3 L907.0,886.9 L909.0,887.0 L911.3,886.4 L913.5,885.0 L915.8,883.2 L918.1,881.2 L920.4,879.2 L922.7,877.6 L924.9,876.4 L927.0,876.0 L928.9,876.5 L930.7,877.7 L932.5,879.3 L934.2,881.2 L936.0,883.0 L937.7,884.6 L939.3,885.7 L941.0,886.0 L942.6,885.5 L944.1,884.2 L945.6,882.4 L947.1,880.4 L948.6,878.4 L950.0,876.7 L951.5,875.5 L953.0,875.0 L954.4,875.4 L955.7,876.4 L957.0,877.8 L958.3,879.6 L959.6,881.4 L961.2,883.2 L962.9,884.8 L965.0,886.0 L969.3,887.4 L974.4,888.4 L980.2,889.0 L986.4,889.3 L993.0,889.4 L999.7,889.4 L1006.4,889.2 L1013.0,889.0 L1021.0,888.4 L1029.7,887.1 L1038.7,885.5 L1047.8,883.8 L1056.7,882.2 L1064.8,881.1 L1072.1,880.6 L1078.0,881.0 L1080.4,881.7 L1082.3,882.6 L1083.9,883.7 L1085.4,884.9 L1086.9,886.1 L1088.6,887.2 L1090.6,888.2 L1093.0,889.0 L1099.8,889.8 L1108.6,889.7 L1118.8,889.1 L1129.6,888.1 L1140.4,887.1 L1150.5,886.2 L1159.2,885.8 L1166.0,886.0 L1168.2,886.4 L1169.9,886.8 L1171.3,887.3 L1172.6,887.9 L1174.0,888.5 L1175.5,889.0 L1177.5,889.6 L1180.0,890.0 L1197.0,891.5 L1223.6,892.8 L1256.5,893.9 L1292.5,894.4 L1328.3,894.4 L1360.7,893.5 L1386.3,891.8 L1402.0,889.0 L1404.1,888.0 L1405.7,886.8 L1407.0,885.5 L1408.1,884.2 L1409.0,882.9 L1409.9,881.9 L1410.9,881.2 L1412.0,881.0 L1413.1,881.3 L1414.1,882.0 L1415.0,883.1 L1416.0,884.4 L1417.0,885.7 L1418.1,887.0 L1419.5,888.2 L1421.0,889.0 L1424.3,889.9 L1428.3,890.3 L1432.9,890.3 L1437.8,890.1 L1442.9,889.8 L1448.1,889.4 L1453.2,889.1 L1458.0,889.0" fill="none" stroke="#1767E0" stroke-width="6.5" stroke-linejoin="round" stroke-linecap="round" clip-path="url(#ca)"/>
<path d="M143.0,983.0 L149.2,983.5 L155.9,984.3 L162.8,985.2 L169.6,986.1 L176.0,986.7 L181.7,986.9 L186.5,986.4 L190.0,985.0 L191.3,983.7 L192.1,982.0 L192.7,980.0 L193.0,977.9 L193.3,975.9 L193.7,974.1 L194.2,972.8 L195.0,972.0 L195.9,972.0 L197.0,972.4 L198.2,973.2 L199.5,974.1 L200.8,975.0 L202.0,975.8 L203.1,976.1 L204.0,976.0 L205.3,974.4 L206.3,971.4 L206.9,967.3 L207.4,962.6 L207.8,957.6 L208.1,952.6 L208.5,947.9 L209.0,944.0 L209.5,941.4 L209.9,938.8 L210.3,936.3 L210.7,933.9 L211.2,931.6 L211.7,929.3 L212.3,927.1 L213.0,925.0 L213.7,923.3 L214.5,921.7 L215.4,920.2 L216.4,918.7 L217.3,917.2 L218.2,915.7 L219.1,913.9 L220.0,912.0 L221.2,908.5 L222.4,904.4 L223.5,899.9 L224.6,895.2 L225.7,890.5 L226.8,885.9 L227.9,881.7 L229.0,878.0 L229.8,875.6 L230.5,873.1 L231.3,870.6 L232.0,868.2 L232.8,866.1 L233.5,864.5 L234.3,863.4 L235.0,863.0 L235.8,863.5 L236.6,864.7 L237.4,866.6 L238.1,868.9 L238.9,871.6 L239.6,874.5 L240.3,877.3 L241.0,880.0 L241.8,883.9 L242.6,888.2 L243.2,892.8 L243.8,897.6 L244.4,902.5 L245.0,907.5 L245.7,912.3 L246.5,917.0 L247.4,921.7 L248.3,926.5 L249.2,931.4 L250.2,936.2 L251.2,940.9 L252.4,945.3 L253.6,949.4 L255.0,953.0 L256.0,955.2 L256.9,957.1 L257.9,958.9 L259.0,960.6 L260.1,962.2 L261.3,963.8 L262.6,965.4 L264.0,967.0 L265.9,969.0 L267.9,971.0 L270.2,973.1 L272.5,975.1 L274.9,976.9 L277.3,978.6 L279.7,980.0 L282.0,981.0 L283.8,981.7 L285.7,982.3 L287.6,982.8 L289.5,983.1 L291.4,983.3 L293.1,983.2 L294.6,982.8 L296.0,982.0 L297.6,979.6 L298.7,975.5 L299.4,970.5 L299.8,965.1 L300.2,959.8 L300.5,955.3 L300.9,952.2 L301.5,951.0 L302.1,952.2 L302.6,955.5 L302.9,960.2 L303.3,965.8 L303.9,971.6 L304.9,977.2 L306.4,981.8 L308.6,985.0 L311.3,986.7 L314.5,987.6 L318.1,987.9 L322.1,987.8 L326.4,987.5 L330.8,987.1 L335.4,986.9 L340.0,987.0 L347.2,987.5 L355.4,988.1 L364.2,988.8 L373.2,989.5 L382.0,990.2 L390.2,990.7 L397.3,991.0 L403.0,991.0 L405.0,991.0 L406.8,991.0 L408.4,991.0 L409.8,991.0 L411.2,990.8 L412.5,990.6 L413.8,990.2 L415.0,989.7 L416.2,988.7 L417.3,987.4 L418.3,985.8 L419.3,984.1 L420.2,982.5 L421.1,981.2 L422.1,980.3 L423.0,980.0 L424.0,980.5 L424.8,981.7 L425.6,983.4 L426.4,985.4 L427.3,987.4 L428.3,989.4 L429.5,991.0 L431.0,992.0 L433.9,992.5 L437.4,992.1 L441.5,991.1 L445.9,989.8 L450.3,988.3 L454.6,987.1 L458.6,986.2 L462.0,986.0 L464.1,986.3 L466.0,987.0 L467.8,987.8 L469.6,988.6 L471.2,989.5 L472.9,990.3 L474.4,990.8 L476.0,991.0 L477.2,990.9 L478.3,990.6 L479.3,990.1 L480.4,989.5 L481.4,989.0 L482.5,988.5 L483.7,988.2 L485.0,988.0 L487.1,988.2 L489.3,988.7 L491.6,989.5 L494.0,990.5 L496.6,991.6 L499.5,992.6 L502.6,993.4 L506.0,994.0 L514.3,994.7 L524.6,994.9 L536.2,994.8 L548.6,994.4 L561.2,993.7 L573.3,992.9 L584.5,992.0 L594.0,991.0 L599.4,990.2 L604.7,989.0 L609.7,987.7 L614.5,986.3 L618.9,985.1 L623.0,984.3 L626.7,983.8 L630.0,984.0 L631.6,984.5 L632.9,985.2 L634.0,986.1 L635.0,987.0 L636.1,988.0 L637.2,988.9 L638.5,989.6 L640.0,990.0 L643.2,990.2 L647.1,990.1 L651.5,989.5 L656.0,988.6 L660.6,987.5 L664.9,986.2 L668.8,984.6 L672.0,983.0 L673.9,981.5 L675.5,979.6 L676.9,977.5 L678.2,975.3 L679.3,973.3 L680.5,971.6 L681.7,970.4 L683.0,970.0 L684.2,970.4 L685.5,971.6 L686.7,973.3 L687.9,975.3 L689.1,977.3 L690.3,979.0 L691.6,980.4 L693.0,981.0 L694.4,981.0 L696.0,980.7 L697.7,980.1 L699.3,979.2 L701.0,978.1 L702.5,976.8 L703.9,975.5 L705.0,974.0 L706.2,971.9 L707.0,969.5 L707.5,966.8 L707.9,963.8 L708.2,960.7 L708.4,957.3 L708.7,953.7 L709.0,950.0 L709.7,942.8 L710.2,934.4 L710.7,925.2 L711.1,915.5 L711.5,905.8 L711.9,896.4 L712.4,887.6 L713.0,880.0 L713.4,875.1 L713.9,869.9 L714.4,864.7 L714.9,859.8 L715.5,855.5 L716.0,852.1 L716.5,849.8 L717.0,849.0 L717.5,849.8 L718.0,852.1 L718.5,855.6 L719.1,860.0 L719.6,864.9 L720.1,870.1 L720.5,875.2 L721.0,880.0 L721.6,886.8 L722.1,894.6 L722.5,902.8 L723.0,911.3 L723.4,919.6 L723.9,927.4 L724.4,934.3 L725.0,940.0 L725.3,942.3 L725.6,944.4 L725.9,946.2 L726.2,947.9 L726.6,949.5 L727.0,951.2 L727.4,953.0 L728.0,955.0 L728.9,958.3 L729.9,961.9 L730.9,965.8 L732.1,969.8 L733.5,973.7 L735.0,977.3 L736.9,980.5 L739.0,983.0 L741.1,984.7 L743.3,986.0 L745.7,987.1 L748.3,988.0 L751.1,988.7 L753.9,989.2 L756.9,989.6 L760.0,990.0 L764.7,990.4 L770.2,990.4 L776.0,990.3 L782.0,989.8 L787.8,989.2 L793.3,988.3 L798.1,987.3 L802.0,986.0 L803.7,985.1 L805.2,983.9 L806.5,982.5 L807.6,981.2 L808.7,979.9 L809.8,978.9 L810.8,978.2 L812.0,978.0 L813.3,978.5 L814.5,979.8 L815.8,981.5 L817.0,983.5 L818.2,985.4 L819.4,987.2 L820.7,988.4 L822.0,989.0 L823.2,988.8 L824.5,988.0 L825.7,986.9 L827.0,985.6 L828.3,984.2 L829.5,983.1 L830.8,982.3 L832.0,982.0 L833.1,982.3 L834.2,983.1 L835.2,984.3 L836.2,985.6 L837.3,986.9 L838.4,988.2 L839.6,989.3 L841.0,990.0 L842.9,990.5 L845.1,990.9 L847.4,991.0 L849.9,991.0 L852.3,990.8 L854.7,990.4 L857.0,989.8 L859.0,989.0 L860.8,987.8 L862.5,985.9 L864.1,983.8 L865.5,981.5 L867.0,979.3 L868.3,977.5 L869.7,976.4 L871.0,976.0 L872.2,976.7 L873.3,978.3 L874.3,980.5 L875.3,983.1 L876.3,985.7 L877.4,988.1 L878.6,990.0 L880.0,991.0 L881.4,991.1 L882.9,990.8 L884.5,990.0 L886.1,989.0 L887.8,988.0 L889.5,987.0 L891.3,986.3 L893.0,986.0 L894.9,986.2 L896.9,986.8 L898.9,987.7 L900.9,988.6 L903.0,989.6 L905.0,990.4 L907.0,990.9 L909.0,991.0 L911.0,990.4 L913.1,989.4 L915.1,987.9 L917.0,986.3 L919.0,984.7 L921.0,983.3 L923.0,982.4 L925.0,982.0 L927.0,982.4 L929.1,983.5 L931.2,985.0 L933.2,986.7 L935.3,988.3 L937.3,989.8 L939.2,990.7 L941.0,991.0 L942.5,990.5 L943.9,989.5 L945.3,988.1 L946.6,986.5 L947.9,984.9 L949.2,983.5 L950.6,982.4 L952.0,982.0 L953.4,982.2 L954.8,982.8 L956.1,983.9 L957.5,985.1 L959.0,986.5 L960.7,987.9 L962.7,989.1 L965.0,990.0 L973.7,991.8 L985.8,993.2 L1000.3,994.3 L1015.9,994.9 L1031.4,995.2 L1045.7,994.9 L1057.6,994.2 L1066.0,993.0 L1068.0,992.4 L1069.6,991.5 L1071.0,990.6 L1072.1,989.6 L1073.3,988.7 L1074.4,987.9 L1075.6,987.3 L1077.0,987.0 L1078.7,987.1 L1080.4,987.6 L1082.1,988.4 L1083.9,989.3 L1085.8,990.4 L1087.9,991.4 L1090.3,992.3 L1093.0,993.0 L1100.2,994.0 L1108.9,994.6 L1118.7,994.9 L1129.6,995.0 L1141.3,995.0 L1153.8,994.9 L1166.7,994.9 L1180.0,995.0 L1204.9,995.7 L1235.5,996.9 L1269.1,998.3 L1303.6,999.6 L1336.5,1000.4 L1365.5,1000.5 L1388.1,999.4 L1402.0,997.0 L1403.7,996.2 L1405.0,995.2 L1406.0,994.0 L1406.8,992.9 L1407.5,991.9 L1408.2,991.0 L1409.0,990.3 L1410.0,990.0 L1411.2,990.1 L1412.4,990.6 L1413.6,991.4 L1414.9,992.4 L1416.2,993.4 L1417.6,994.4 L1419.2,995.3 L1421.0,996.0 L1424.5,996.7 L1428.6,997.1 L1433.2,997.2 L1438.1,997.2 L1443.1,997.1 L1448.2,997.0 L1453.2,997.0 L1458.0,997.0" fill="none" stroke="#2EAA66" stroke-width="6.5" stroke-linejoin="round" stroke-linecap="round" clip-path="url(#ca)"/>
<text x="804.7" y="206.0" font-size="64" transform="rotate(-90 804.7 206.0)" textLength="138.6" lengthAdjust="spacingAndGlyphs" class="t">(302)</text>
<text x="835" y="599.5" font-size="64" transform="rotate(-90 835 599.5)" textLength="136.5" lengthAdjust="spacingAndGlyphs" class="t">(304)</text>
<text x="441" y="644.3" font-size="64" transform="rotate(-90 441 644.3)" textLength="136.5" lengthAdjust="spacingAndGlyphs" class="t">(004)</text>
<text x="1232.4" y="657.7" font-size="64" text-anchor="start" textLength="196.4" lengthAdjust="spacingAndGlyphs" class="t">Beta-Al</text>
<text x="1152.4" y="755.3" font-size="64" text-anchor="start" textLength="283.6" lengthAdjust="spacingAndGlyphs" class="t">Pd/Beta-Al</text>
<text x="918.0" y="850.7" font-size="64" text-anchor="start" textLength="523.2" lengthAdjust="spacingAndGlyphs" class="t">Pd/Beta-Al-750HTA</text>
<text x="918.0" y="967" font-size="64" text-anchor="start" textLength="521.8" lengthAdjust="spacingAndGlyphs" class="t">Pd/Beta-Al-800HTA</text>
<path d="M1229,78.5 L1271,78.5 L1250.0,122.3 Z" fill="#8000FF"/>
<text x="1291.0" y="121.1" font-size="64" text-anchor="start" textLength="113.4" lengthAdjust="spacingAndGlyphs" class="t">PdO</text>
<rect x="895" y="140.6" width="527" height="372.1" fill="#fff" stroke="none"/>
<clipPath id="cia"><rect x="897.5" y="143.1" width="522.0" height="367.1"/></clipPath>
<path d="M895.0,347.0 L897.3,345.2 L899.7,343.5 L902.0,348.5 L904.3,342.7 L906.7,347.4 L909.0,347.0 L911.5,336.2 L914.0,328.0 L916.4,321.8 L918.8,324.6 L921.1,318.1 L923.5,321.0 L925.8,328.3 L928.0,337.0 L930.5,325.2 L933.0,317.9 L935.5,313.7 L938.0,307.0 L940.5,314.8 L943.0,316.0 L945.7,314.6 L948.3,317.9 L951.0,323.0 L955.0,295.0 L957.2,269.8 L959.5,242.0 L961.9,224.0 L964.3,197.0 L967.1,208.3 L970.0,218.0 L972.5,253.0 L975.0,290.0 L978.6,340.0 L981.0,349.0 L983.3,344.0 L985.6,356.3 L988.0,357.0 L990.5,365.4 L993.0,378.0 L995.4,379.2 L997.8,383.7 L1000.2,390.3 L1002.6,397.0 L1005.0,398.8 L1007.4,391.0 L1009.8,393.6 L1012.2,392.8 L1014.6,390.0 L1017.0,390.0 L1019.3,393.0 L1021.6,389.4 L1024.0,395.0 L1026.3,384.9 L1028.7,380.7 L1031.0,378.0 L1033.8,369.3 L1036.6,357.0 L1039.8,370.8 L1043.0,386.0 L1045.5,388.5 L1047.9,395.5 L1050.3,398.5 L1052.8,401.3 L1055.2,410.6 L1057.7,412.0 L1060.1,411.6 L1062.5,404.6 L1064.9,405.5 L1067.3,402.7 L1069.7,400.0 L1072.1,407.2 L1074.5,409.1 L1076.9,408.1 L1079.3,418.4 L1081.7,417.0 L1084.0,411.4 L1086.3,412.7 L1088.7,414.3 L1091.0,410.0 L1093.5,385.0 L1096.0,367.0 L1098.5,352.4 L1101.0,338.0 L1103.9,328.4 L1106.8,328.0 L1109.8,333.2 L1112.8,335.0 L1115.2,348.3 L1117.6,357.1 L1120.0,367.0 L1122.3,381.8 L1124.7,387.1 L1127.0,400.0 L1129.5,408.3 L1131.9,413.6 L1134.4,419.0 L1136.8,412.8 L1139.2,404.6 L1141.6,398.0 L1144.0,399.8 L1146.4,399.2 L1148.7,392.9 L1151.1,393.2 L1153.5,390.0 L1156.8,384.6 L1160.0,388.0 L1162.5,386.0 L1165.0,381.5 L1167.5,380.9 L1170.0,372.0 L1172.4,371.2 L1174.9,361.8 L1177.3,360.0 L1179.7,361.9 L1182.2,367.7 L1184.6,364.2 L1187.0,372.0 L1189.6,380.0 L1192.1,385.3 L1194.7,397.0 L1197.2,395.7 L1199.7,397.6 L1202.2,407.2 L1204.7,407.0 L1207.2,406.3 L1209.7,410.5 L1212.1,414.9 L1214.6,419.0 L1217.1,421.0 L1219.5,411.3 L1222.0,413.2 L1224.5,412.0 L1227.0,417.5 L1229.5,425.8 L1232.0,430.2 L1234.5,432.0 L1237.0,433.0 L1239.5,424.6 L1242.0,423.4 L1244.5,420.2 L1247.0,419.0 L1249.5,426.6 L1252.0,431.1 L1254.5,426.8 L1257.0,434.0 L1259.5,428.3 L1262.0,426.3 L1264.5,423.8 L1267.0,423.8 L1269.5,422.4 L1272.0,419.0 L1274.4,419.6 L1276.8,420.0 L1279.2,427.2 L1281.6,429.7 L1284.0,434.0 L1286.6,431.7 L1289.2,432.5 L1291.8,426.9 L1294.4,422.2 L1297.0,419.0 L1299.4,422.0 L1301.9,424.5 L1304.3,420.1 L1306.7,430.4 L1309.1,431.1 L1311.6,433.9 L1314.0,432.0 L1316.2,433.7 L1318.4,428.3 L1320.6,427.1 L1322.8,422.8 L1325.0,426.8 L1327.2,419.8 L1329.4,418.6 L1331.6,418.7 L1333.8,416.9 L1336.0,419.0 L1338.2,416.6 L1340.4,413.0 L1342.7,411.7 L1344.9,412.4 L1347.1,411.1 L1349.3,413.0 L1351.6,408.8 L1353.8,416.5 L1356.0,412.0 L1358.2,411.1 L1360.4,404.5 L1362.7,403.5 L1364.9,402.5 L1367.1,400.6 L1369.3,396.2 L1371.6,401.5 L1373.8,400.9 L1376.0,394.0 L1378.5,399.9 L1381.0,406.3 L1383.5,408.6 L1386.0,419.0 L1388.5,411.3 L1391.0,409.9 L1393.5,405.4 L1396.0,404.0 L1398.5,410.5 L1401.0,407.1 L1403.5,409.0 L1406.0,417.0 L1408.3,420.8 L1410.6,415.9 L1412.9,411.3 L1415.1,414.6 L1417.4,408.7 L1419.7,413.0 L1422.0,412.0" fill="none" stroke="#535353" stroke-width="6.6" stroke-linejoin="round" stroke-linecap="round" clip-path="url(#cia)"/>
<path d="M895.0,431.0 L897.4,434.1 L899.8,432.9 L902.1,431.3 L904.5,427.8 L906.9,428.2 L909.2,426.4 L911.6,430.3 L914.0,428.0 L916.4,426.9 L918.9,427.4 L921.3,422.9 L923.7,420.9 L926.1,423.8 L928.6,423.8 L931.0,419.0 L933.3,421.0 L935.7,420.1 L938.0,419.6 L940.3,418.5 L942.7,414.3 L945.0,415.8 L947.3,414.1 L949.7,411.2 L952.0,414.0 L954.4,409.0 L956.9,409.3 L959.3,407.6 L961.7,409.1 L964.1,409.4 L966.6,404.2 L969.0,403.0 L971.4,409.6 L973.8,413.5 L976.2,416.8 L978.6,417.0 L981.1,420.7 L983.5,424.3 L986.0,431.0 L988.4,430.0 L990.8,430.8 L993.2,431.9 L995.6,435.9 L998.0,436.0 L1000.4,438.3 L1002.8,437.3 L1005.2,434.1 L1007.6,434.7 L1010.0,433.0 L1012.4,435.5 L1014.8,430.6 L1017.2,435.1 L1019.6,437.2 L1022.0,436.5 L1024.4,436.6 L1026.8,434.9 L1029.2,433.1 L1031.6,437.8 L1034.0,436.0 L1036.4,435.4 L1038.8,439.4 L1041.2,441.2 L1043.6,437.7 L1046.0,438.3 L1048.4,442.8 L1050.8,441.8 L1053.2,438.4 L1055.6,438.7 L1058.0,442.0 L1060.2,439.4 L1062.5,444.8 L1064.8,444.0 L1067.0,439.2 L1069.2,444.0 L1071.5,445.1 L1073.8,442.7 L1076.0,440.4 L1078.2,441.8 L1080.5,438.7 L1082.8,437.8 L1085.0,444.6 L1087.2,442.3 L1089.5,441.3 L1091.8,444.2 L1094.0,441.0 L1096.3,438.9 L1098.7,440.3 L1101.0,438.3 L1103.3,432.3 L1105.7,430.9 L1108.0,429.5 L1110.3,427.5 L1112.7,428.3 L1115.0,426.0 L1117.4,427.0 L1119.9,430.8 L1122.3,431.5 L1124.7,439.8 L1127.1,438.5 L1129.6,442.0 L1132.0,445.0 L1134.2,445.2 L1136.5,447.2 L1138.8,443.3 L1141.0,446.5 L1143.2,443.1 L1145.5,443.0 L1147.8,442.5 L1150.0,442.0 L1152.3,438.0 L1154.6,440.4 L1156.9,438.0 L1159.1,436.1 L1161.4,441.3 L1163.7,436.2 L1166.0,437.8 L1168.3,439.0 L1170.6,437.3 L1172.9,435.0 L1175.1,435.8 L1177.4,435.5 L1179.7,436.6 L1182.0,434.0 L1184.2,432.2 L1186.5,436.4 L1188.8,435.2 L1191.0,436.4 L1193.2,441.0 L1195.5,440.1 L1197.8,441.4 L1200.0,442.0 L1202.2,444.4 L1204.5,446.1 L1206.7,443.2 L1208.9,445.0 L1211.1,444.8 L1213.4,445.4 L1215.6,447.2 L1217.8,446.0 L1220.0,447.1 L1222.3,447.3 L1224.5,448.0 L1226.7,451.1 L1228.9,449.3 L1231.2,450.5 L1233.4,451.0 L1235.6,446.0 L1237.8,448.1 L1240.0,450.8 L1242.3,450.0 L1244.5,444.9 L1246.7,444.7 L1248.9,447.0 L1251.1,444.2 L1253.3,445.4 L1255.6,444.1 L1257.8,448.4 L1260.0,449.1 L1262.2,449.9 L1264.4,444.5 L1266.7,448.5 L1268.9,448.0 L1271.1,444.2 L1273.3,449.5 L1275.5,450.1 L1277.8,444.6 L1280.0,449.9 L1282.2,445.8 L1284.4,446.4 L1286.6,450.0 L1288.9,448.8 L1291.1,443.9 L1293.3,445.8 L1295.5,446.3 L1297.7,445.0 L1299.9,443.9 L1302.2,444.7 L1304.4,447.6 L1306.6,442.5 L1308.8,446.3 L1311.0,445.4 L1313.3,442.3 L1315.5,444.5 L1317.7,446.5 L1319.9,445.7 L1322.1,442.4 L1324.4,449.0 L1326.6,447.5 L1328.8,448.8 L1331.0,442.5 L1333.2,443.6 L1335.5,441.9 L1337.7,447.1 L1339.9,443.4 L1342.1,442.4 L1344.3,444.4 L1346.6,447.9 L1348.8,447.2 L1351.0,443.1 L1353.2,442.2 L1355.4,447.7 L1357.6,445.1 L1359.9,446.0 L1362.1,441.6 L1364.3,441.3 L1366.5,445.8 L1368.7,443.8 L1371.0,441.2 L1373.2,447.4 L1375.4,445.1 L1377.6,446.3 L1379.8,441.1 L1382.1,446.6 L1384.3,440.8 L1386.5,446.5 L1388.7,443.5 L1390.9,442.6 L1393.2,444.1 L1395.4,446.7 L1397.6,441.9 L1399.8,440.9 L1402.0,443.7 L1404.2,441.6 L1406.5,440.6 L1408.7,440.9 L1410.9,440.0 L1413.1,441.1 L1415.3,441.8 L1417.6,441.7 L1419.8,444.9 L1422.0,443.0" fill="none" stroke="#F44242" stroke-width="6" stroke-linejoin="round" stroke-linecap="round" clip-path="url(#cia)"/>
<path d="M895.0,460.0 L897.2,458.2 L899.4,459.4 L901.6,456.8 L903.9,457.8 L906.1,455.1 L908.3,456.5 L910.5,454.5 L912.7,459.4 L914.9,457.8 L917.1,454.9 L919.4,456.7 L921.6,459.7 L923.8,453.5 L926.0,456.0 L928.4,458.3 L930.7,455.5 L933.1,456.0 L935.5,458.4 L937.8,455.2 L940.2,456.0 L942.5,457.4 L944.9,459.5 L947.3,454.9 L949.6,458.4 L952.0,456.0 L954.5,454.2 L957.0,450.5 L959.5,445.6 L962.0,443.0 L964.8,436.2 L967.5,428.5 L970.3,426.0 L973.1,430.7 L975.8,437.6 L978.6,448.0 L981.0,451.4 L983.5,449.5 L985.9,450.5 L988.3,451.5 L990.7,458.6 L993.1,460.4 L995.6,460.6 L998.0,461.0 L1000.4,460.3 L1002.7,460.9 L1005.1,462.1 L1007.5,464.1 L1009.9,462.8 L1012.2,465.8 L1014.6,467.0 L1017.0,464.6 L1019.4,468.9 L1021.8,468.3 L1024.2,464.5 L1026.5,461.7 L1028.9,466.2 L1031.3,460.7 L1033.7,460.4 L1036.1,457.1 L1038.5,460.0 L1040.9,460.3 L1043.3,462.2 L1045.7,463.6 L1048.1,462.6 L1050.5,466.0 L1052.9,463.6 L1055.3,466.7 L1057.7,466.6 L1060.1,470.1 L1062.5,472.0 L1064.7,468.6 L1066.9,468.4 L1069.2,470.4 L1071.4,469.8 L1073.6,472.3 L1075.8,471.8 L1078.0,473.4 L1080.2,472.6 L1082.5,473.0 L1084.7,474.1 L1086.9,470.5 L1089.1,470.0 L1091.3,474.7 L1093.6,468.6 L1095.8,472.7 L1098.0,471.0 L1100.5,469.5 L1102.9,462.7 L1105.4,465.9 L1107.9,463.8 L1110.3,459.4 L1112.8,456.0 L1115.2,459.7 L1117.6,462.2 L1120.0,459.4 L1122.4,464.2 L1124.8,466.0 L1127.2,470.4 L1129.6,472.2 L1132.0,474.4 L1134.4,474.0 L1136.6,474.2 L1138.9,476.0 L1141.1,474.0 L1143.3,473.7 L1145.5,469.9 L1147.8,468.1 L1150.0,471.0 L1152.3,467.7 L1154.6,468.6 L1156.9,466.1 L1159.2,470.6 L1161.5,468.0 L1163.8,467.8 L1166.2,467.1 L1168.5,466.8 L1170.8,464.7 L1173.1,460.5 L1175.4,465.5 L1177.7,464.5 L1180.0,462.0 L1182.2,463.2 L1184.4,464.7 L1186.7,466.8 L1188.9,463.8 L1191.1,469.8 L1193.3,467.5 L1195.6,467.5 L1197.8,470.1 L1200.0,473.0 L1202.3,474.8 L1204.6,471.3 L1206.9,475.3 L1209.2,477.2 L1211.6,473.9 L1213.9,473.3 L1216.2,474.2 L1218.5,475.8 L1220.8,476.6 L1223.1,475.7 L1225.4,476.1 L1227.8,472.2 L1230.1,472.9 L1232.4,473.9 L1234.7,477.6 L1237.0,476.0 L1239.2,474.6 L1241.4,476.4 L1243.6,472.4 L1245.8,472.7 L1248.0,474.2 L1250.2,477.0 L1252.4,477.1 L1254.6,477.0 L1256.8,474.2 L1259.0,475.8 L1261.2,475.4 L1263.4,475.3 L1265.6,472.8 L1267.8,478.3 L1270.0,473.3 L1272.2,478.9 L1274.4,478.5 L1276.6,471.9 L1278.8,475.0 L1281.0,477.6 L1283.2,478.6 L1285.5,474.9 L1287.7,473.5 L1289.9,473.1 L1292.1,478.3 L1294.3,473.0 L1296.5,475.6 L1298.7,472.4 L1300.9,475.1 L1303.1,478.2 L1305.3,472.2 L1307.5,477.2 L1309.7,474.9 L1311.9,477.6 L1314.1,476.2 L1316.3,472.8 L1318.5,477.5 L1320.7,474.5 L1322.9,471.2 L1325.1,471.0 L1327.3,474.5 L1329.5,474.1 L1331.7,473.0 L1333.9,471.8 L1336.1,473.3 L1338.3,473.0 L1340.5,476.8 L1342.7,470.7 L1344.9,476.1 L1347.1,476.7 L1349.3,471.4 L1351.5,477.2 L1353.7,475.6 L1355.9,477.0 L1358.1,472.5 L1360.3,473.1 L1362.5,473.2 L1364.7,477.5 L1366.9,474.5 L1369.1,472.9 L1371.3,473.3 L1373.5,472.2 L1375.8,470.5 L1378.0,470.8 L1380.2,476.1 L1382.4,472.1 L1384.6,476.7 L1386.8,471.8 L1389.0,471.8 L1391.2,473.6 L1393.4,471.2 L1395.6,472.5 L1397.8,476.7 L1400.0,476.1 L1402.2,475.6 L1404.4,474.2 L1406.6,476.2 L1408.8,476.4 L1411.0,473.5 L1413.2,474.7 L1415.4,469.9 L1417.6,474.7 L1419.8,472.7 L1422.0,473.0" fill="none" stroke="#1767E0" stroke-width="6" stroke-linejoin="round" stroke-linecap="round" clip-path="url(#cia)"/>
<path d="M895.0,489.0 L897.3,490.7 L899.6,489.8 L901.8,487.1 L904.1,485.3 L906.4,491.5 L908.7,485.6 L911.0,488.0 L913.2,486.9 L915.5,486.5 L917.8,489.5 L920.1,491.1 L922.4,485.8 L924.6,488.6 L926.9,485.9 L929.2,487.6 L931.5,486.3 L933.8,484.6 L936.0,484.4 L938.3,484.6 L940.6,489.5 L942.9,486.5 L945.2,484.3 L947.4,489.2 L949.7,489.7 L952.0,486.0 L954.5,480.3 L957.0,472.7 L959.5,470.0 L961.9,462.1 L964.3,455.7 L966.7,453.0 L969.0,458.4 L971.4,463.1 L973.7,470.6 L976.0,479.0 L978.2,478.5 L980.4,481.9 L982.6,485.4 L984.8,485.6 L987.0,484.4 L989.2,485.6 L991.4,487.6 L993.6,487.7 L995.8,488.6 L998.0,491.0 L1000.4,488.7 L1002.7,491.1 L1005.1,496.9 L1007.5,491.7 L1009.9,495.3 L1012.2,497.1 L1014.6,497.0 L1017.0,498.8 L1019.4,493.4 L1021.8,493.0 L1024.2,492.0 L1026.5,492.3 L1028.9,491.8 L1031.3,494.7 L1033.7,493.1 L1036.1,492.5 L1038.5,489.0 L1040.9,486.8 L1043.4,488.1 L1045.8,494.3 L1048.2,496.8 L1050.7,495.1 L1053.1,497.1 L1055.6,494.2 L1058.0,499.0 L1060.2,498.2 L1062.4,502.1 L1064.7,501.3 L1066.9,501.6 L1069.1,502.4 L1071.3,497.2 L1073.6,496.2 L1075.8,496.5 L1078.0,499.2 L1080.2,500.3 L1082.4,502.2 L1084.7,500.6 L1086.9,500.1 L1089.1,500.9 L1091.3,498.7 L1093.6,499.4 L1095.8,495.7 L1098.0,499.0 L1100.2,498.4 L1102.4,491.9 L1104.6,494.2 L1106.8,489.6 L1109.0,486.0 L1111.3,486.3 L1113.6,486.7 L1115.9,489.3 L1118.2,493.8 L1120.5,495.9 L1122.8,493.4 L1125.1,494.8 L1127.4,499.8 L1129.7,501.9 L1132.0,503.0 L1134.2,501.7 L1136.5,500.0 L1138.8,502.2 L1141.0,497.5 L1143.2,499.1 L1145.5,499.7 L1147.8,502.8 L1150.0,499.0 L1152.3,499.3 L1154.6,500.2 L1156.9,496.5 L1159.1,493.9 L1161.4,493.3 L1163.7,497.6 L1166.0,495.0 L1168.3,491.3 L1170.6,488.5 L1172.9,491.1 L1175.1,491.6 L1177.4,489.0 L1179.7,487.0 L1182.0,488.0 L1184.2,490.6 L1186.5,493.8 L1188.8,490.2 L1191.0,490.1 L1193.2,493.7 L1195.5,495.7 L1197.8,498.9 L1200.0,499.0 L1202.2,497.4 L1204.5,502.2 L1206.7,502.4 L1208.9,501.2 L1211.1,499.6 L1213.4,505.7 L1215.6,501.5 L1217.8,505.7 L1220.0,502.0 L1222.3,502.4 L1224.5,505.0 L1226.7,506.8 L1228.9,503.5 L1231.2,508.2 L1233.4,504.9 L1235.6,502.6 L1237.8,502.8 L1240.0,504.2 L1242.3,506.0 L1244.5,508.0 L1246.7,502.2 L1248.9,503.9 L1251.1,502.6 L1253.3,508.0 L1255.6,502.0 L1257.8,501.4 L1260.0,501.4 L1262.2,503.8 L1264.4,507.4 L1266.7,507.2 L1268.9,506.1 L1271.1,508.0 L1273.3,507.5 L1275.5,503.1 L1277.8,502.1 L1280.0,507.4 L1282.2,506.0 L1284.4,500.9 L1286.6,505.4 L1288.9,503.3 L1291.1,503.2 L1293.3,502.9 L1295.5,501.7 L1297.7,500.5 L1299.9,502.5 L1302.2,502.9 L1304.4,507.3 L1306.6,501.3 L1308.8,507.3 L1311.0,501.8 L1313.3,502.8 L1315.5,506.2 L1317.7,506.1 L1319.9,503.3 L1322.1,500.5 L1324.4,503.5 L1326.6,502.8 L1328.8,506.7 L1331.0,501.4 L1333.2,502.6 L1335.5,506.5 L1337.7,500.2 L1339.9,502.9 L1342.1,505.8 L1344.3,505.4 L1346.6,500.1 L1348.8,500.1 L1351.0,500.2 L1353.2,506.4 L1355.4,501.6 L1357.6,505.1 L1359.9,506.2 L1362.1,502.1 L1364.3,501.6 L1366.5,506.5 L1368.7,504.0 L1371.0,501.4 L1373.2,504.7 L1375.4,501.8 L1377.6,501.4 L1379.8,499.5 L1382.1,504.8 L1384.3,506.0 L1386.5,503.9 L1388.7,506.1 L1390.9,499.5 L1393.2,500.9 L1395.4,502.7 L1397.6,506.1 L1399.8,506.0 L1402.0,501.9 L1404.2,500.9 L1406.5,502.2 L1408.7,502.6 L1410.9,505.7 L1413.1,500.3 L1415.3,504.8 L1417.6,504.3 L1419.8,504.9 L1422.0,502.5" fill="none" stroke="#2EAA66" stroke-width="6" stroke-linejoin="round" stroke-linecap="round" clip-path="url(#cia)"/>
<rect x="895" y="140.6" width="527" height="372.1" fill="none" stroke="#000" stroke-width="5"/>
<rect x="892.7" y="512.7" width="4.6" height="9" fill="#000"/>
<rect x="945.4" y="512.7" width="4.6" height="3.5" fill="#000"/>
<rect x="998.1" y="512.7" width="4.6" height="9" fill="#000"/>
<rect x="1050.8" y="512.7" width="4.6" height="3.5" fill="#000"/>
<rect x="1103.5" y="512.7" width="4.6" height="9" fill="#000"/>
<rect x="1156.2" y="512.7" width="4.6" height="3.5" fill="#000"/>
<rect x="1208.9" y="512.7" width="4.6" height="9" fill="#000"/>
<rect x="1261.6" y="512.7" width="4.6" height="3.5" fill="#000"/>
<rect x="1314.3" y="512.7" width="4.6" height="9" fill="#000"/>
<rect x="1367.0" y="512.7" width="4.6" height="3.5" fill="#000"/>
<rect x="1419.7" y="512.7" width="4.6" height="9" fill="#000"/>
<g filter="url(#nolcd)">
<text x="895.0" y="559.6" font-size="43" text-anchor="middle" textLength="40.5" lengthAdjust="spacingAndGlyphs" class="t2">32</text>
<text x="1000.4" y="559.6" font-size="43" text-anchor="middle" textLength="40.5" lengthAdjust="spacingAndGlyphs" class="t2">34</text>
<text x="1105.8" y="559.6" font-size="43" text-anchor="middle" textLength="40.5" lengthAdjust="spacingAndGlyphs" class="t2">36</text>
<text x="1211.2" y="559.6" font-size="43" text-anchor="middle" textLength="40.5" lengthAdjust="spacingAndGlyphs" class="t2">38</text>
<text x="1316.6" y="559.6" font-size="43" text-anchor="middle" textLength="40.5" lengthAdjust="spacingAndGlyphs" class="t2">40</text>
<text x="1422.0" y="559.6" font-size="43" text-anchor="middle" textLength="40.5" lengthAdjust="spacingAndGlyphs" class="t2">42</text>
</g>
<rect x="142.3" y="1147.6" width="1314.0" height="987.0999999999999" fill="none" stroke="#000" stroke-width="7.5"/>
<rect x="303.6" y="2134.7" width="6" height="15.5" fill="#000"/>
<rect x="632.0" y="2134.7" width="6" height="15.5" fill="#000"/>
<rect x="960.5" y="2134.7" width="6" height="15.5" fill="#000"/>
<rect x="1289.0" y="2134.7" width="6" height="15.5" fill="#000"/>
<rect x="467.8" y="2134.7" width="6" height="7.5" fill="#000"/>
<rect x="796.3" y="2134.7" width="6" height="7.5" fill="#000"/>
<rect x="1124.8" y="2134.7" width="6" height="7.5" fill="#000"/>
<rect x="138.55" y="2134.7" width="7.5" height="7.5" fill="#000"/>
<rect x="1452.55" y="2134.7" width="7.5" height="7.5" fill="#000"/>
<text x="306.6" y="2207.3" font-size="64" text-anchor="middle" class="t">10</text>
<text x="635.0" y="2207.3" font-size="64" text-anchor="middle" class="t">20</text>
<text x="963.5" y="2207.3" font-size="64" text-anchor="middle" class="t">30</text>
<text x="1292.0" y="2207.3" font-size="64" text-anchor="middle" class="t">40</text>
<text x="691.3" y="2234.1" font-size="64" text-anchor="start" textLength="142.5" lengthAdjust="spacingAndGlyphs" class="t">2θ (°)</text>
<text x="97.6" y="1807.2" font-size="64" transform="rotate(-90 97.6 1807.2)" textLength="367.9" lengthAdjust="spacingAndGlyphs" class="t">Intensity (a.u.)</text>
<clipPath id="cb"><rect x="146.05" y="1151.35" width="1306.5" height="979.5999999999999"/></clipPath>
<text x="177" y="1339.3" font-size="160" text-anchor="start">(b)</text>
<path d="M143.0,1762.0 L144.9,1762.8 L146.7,1763.6 L148.5,1764.3 L150.4,1765.1 L152.2,1765.9 L154.1,1766.7 L156.0,1767.4 L158.0,1768.0 L160.2,1768.7 L162.5,1769.4 L164.8,1770.2 L167.1,1770.8 L169.5,1771.4 L171.7,1771.8 L173.9,1772.0 L176.0,1772.0 L177.7,1771.7 L179.3,1771.3 L180.9,1770.6 L182.4,1769.9 L183.9,1769.1 L185.4,1768.4 L186.7,1767.6 L188.0,1767.0 L188.9,1766.6 L189.7,1766.4 L190.5,1766.1 L191.3,1765.9 L192.0,1765.6 L192.7,1765.2 L193.4,1764.7 L194.0,1764.0 L195.1,1762.1 L196.1,1759.6 L196.9,1756.6 L197.6,1753.2 L198.2,1749.6 L198.8,1745.8 L199.4,1741.9 L200.0,1738.0 L200.9,1732.6 L201.7,1726.8 L202.4,1720.8 L203.1,1714.5 L203.8,1708.0 L204.5,1701.2 L205.2,1694.2 L206.0,1687.0 L207.1,1676.8 L208.1,1665.9 L209.2,1654.4 L210.3,1642.6 L211.5,1630.6 L212.6,1618.7 L213.8,1607.1 L215.0,1596.0 L216.1,1586.2 L217.3,1576.6 L218.5,1567.0 L219.7,1557.6 L221.0,1548.2 L222.2,1539.0 L223.4,1530.0 L224.5,1521.0 L225.5,1512.8 L226.4,1504.4 L227.3,1495.9 L228.2,1487.6 L229.1,1479.7 L230.0,1472.3 L231.0,1465.7 L232.0,1460.0 L232.5,1457.3 L233.1,1454.5 L233.6,1451.8 L234.2,1449.3 L234.7,1447.2 L235.3,1445.5 L235.9,1444.4 L236.5,1444.0 L237.2,1444.5 L238.0,1446.1 L238.8,1448.4 L239.6,1451.3 L240.4,1454.7 L241.2,1458.4 L241.9,1462.2 L242.6,1466.0 L243.7,1473.9 L244.6,1483.3 L245.4,1493.7 L246.1,1504.8 L246.7,1516.5 L247.3,1528.3 L247.9,1539.9 L248.6,1551.0 L249.3,1562.2 L250.1,1573.7 L250.8,1585.3 L251.5,1596.9 L252.2,1608.4 L253.0,1619.7 L253.8,1630.6 L254.6,1641.0 L255.3,1649.3 L255.9,1657.4 L256.6,1665.4 L257.2,1673.1 L258.0,1680.7 L258.8,1688.0 L259.7,1695.1 L260.7,1702.0 L261.6,1707.4 L262.5,1712.5 L263.5,1717.6 L264.5,1722.5 L265.6,1727.3 L266.8,1731.9 L268.2,1736.5 L269.7,1741.0 L271.3,1745.1 L272.9,1749.3 L274.8,1753.4 L276.7,1757.4 L278.6,1761.2 L280.7,1764.8 L282.7,1768.1 L284.8,1771.0 L286.2,1772.8 L287.7,1774.5 L289.2,1776.1 L290.7,1777.5 L292.2,1778.8 L293.8,1780.0 L295.4,1781.1 L297.0,1782.0 L298.4,1782.7 L299.9,1783.2 L301.3,1783.5 L302.8,1783.8 L304.3,1784.1 L305.8,1784.3 L307.4,1784.6 L309.0,1785.0 L311.1,1785.6 L313.2,1786.3 L315.4,1787.0 L317.6,1787.8 L319.9,1788.5 L322.2,1789.2 L324.6,1789.7 L327.0,1790.0 L329.8,1790.2 L332.7,1790.2 L335.7,1790.0 L338.7,1789.8 L341.8,1789.4 L344.8,1789.0 L347.9,1788.5 L351.0,1788.0 L354.3,1787.2 L357.7,1786.1 L361.0,1784.8 L364.4,1783.5 L367.8,1782.3 L371.2,1781.4 L374.6,1780.9 L378.0,1781.0 L382.0,1782.1 L386.3,1784.4 L390.6,1787.2 L394.9,1790.4 L399.1,1793.5 L402.9,1796.0 L406.2,1797.6 L409.0,1798.0 L410.2,1797.6 L411.3,1797.0 L412.2,1796.2 L413.1,1795.2 L413.9,1794.1 L414.6,1792.8 L415.3,1791.4 L416.0,1790.0 L417.2,1786.7 L418.1,1782.1 L419.0,1776.9 L419.7,1771.4 L420.4,1766.3 L421.0,1762.0 L421.7,1759.1 L422.5,1758.0 L423.3,1759.1 L424.0,1762.0 L424.8,1766.3 L425.5,1771.4 L426.3,1776.8 L427.1,1782.1 L428.0,1786.6 L429.0,1790.0 L429.5,1791.4 L430.1,1792.7 L430.6,1794.0 L431.2,1795.2 L431.8,1796.2 L432.4,1797.0 L433.2,1797.6 L434.0,1798.0 L435.0,1798.1 L436.2,1798.0 L437.4,1797.7 L438.7,1797.1 L440.1,1796.3 L441.4,1795.4 L442.8,1794.2 L444.0,1793.0 L446.5,1788.9 L448.9,1782.5 L451.3,1774.9 L453.6,1766.8 L455.9,1759.0 L458.2,1752.4 L460.6,1747.8 L463.0,1746.0 L465.2,1747.4 L467.3,1751.2 L469.4,1756.8 L471.5,1763.5 L473.7,1770.5 L476.2,1777.2 L478.9,1783.0 L482.0,1787.0 L484.6,1789.0 L487.3,1790.6 L490.2,1791.8 L493.1,1792.8 L496.2,1793.5 L499.4,1794.1 L502.7,1794.6 L506.0,1795.0 L510.1,1795.4 L514.5,1795.7 L519.0,1795.9 L523.6,1795.8 L528.3,1795.5 L532.8,1794.9 L537.0,1794.1 L541.0,1793.0 L544.2,1791.7 L547.3,1789.9 L550.1,1787.9 L552.9,1785.7 L555.7,1783.5 L558.4,1781.4 L561.1,1779.5 L564.0,1778.0 L566.6,1776.8 L569.2,1775.6 L571.9,1774.5 L574.5,1773.6 L577.2,1772.8 L579.8,1772.2 L582.4,1771.9 L585.0,1772.0 L587.5,1772.5 L590.0,1773.6 L592.4,1775.0 L594.8,1776.6 L597.2,1778.3 L599.7,1779.9 L602.3,1781.1 L605.0,1782.0 L608.2,1782.6 L611.6,1783.2 L615.2,1783.5 L618.9,1783.7 L622.5,1783.6 L625.9,1783.1 L629.1,1782.3 L632.0,1781.0 L634.6,1778.8 L636.8,1775.6 L638.8,1771.8 L640.6,1767.7 L642.3,1763.7 L644.1,1760.2 L645.9,1757.5 L648.0,1756.0 L649.5,1755.8 L651.0,1756.2 L652.6,1756.9 L654.2,1757.9 L655.8,1758.8 L657.3,1759.6 L658.7,1760.1 L660.0,1760.0 L661.2,1759.5 L662.2,1758.6 L663.2,1757.6 L664.1,1756.3 L665.0,1754.9 L665.9,1753.3 L666.8,1751.7 L667.7,1750.0 L669.2,1747.1 L670.7,1743.9 L672.2,1740.4 L673.7,1736.6 L675.1,1732.6 L676.5,1728.5 L677.8,1724.3 L679.0,1720.0 L680.3,1713.8 L681.5,1706.4 L682.6,1698.3 L683.5,1690.2 L684.5,1682.8 L685.4,1676.7 L686.3,1672.5 L687.3,1671.0 L688.3,1672.9 L689.2,1677.8 L690.2,1684.8 L691.1,1692.9 L692.1,1701.0 L693.1,1708.0 L694.2,1713.0 L695.4,1715.0 L696.5,1714.3 L697.6,1712.4 L698.9,1709.4 L700.2,1705.6 L701.4,1701.3 L702.6,1696.8 L703.7,1692.3 L704.6,1688.0 L705.6,1682.0 L706.4,1675.4 L707.1,1668.5 L707.5,1661.2 L708.0,1653.8 L708.3,1646.4 L708.7,1639.0 L709.2,1632.0 L709.7,1625.5 L710.2,1619.1 L710.7,1612.9 L711.2,1606.6 L711.7,1600.2 L712.2,1593.7 L712.6,1587.0 L713.0,1580.0 L713.5,1570.9 L713.9,1561.4 L714.3,1551.7 L714.7,1541.6 L715.1,1531.4 L715.4,1521.0 L715.7,1510.5 L716.0,1500.0 L716.3,1488.0 L716.5,1475.8 L716.7,1463.3 L716.9,1450.7 L717.0,1438.0 L717.2,1425.3 L717.3,1412.6 L717.5,1400.0 L717.7,1387.4 L717.8,1374.7 L718.0,1362.0 L718.2,1349.3 L718.3,1336.7 L718.5,1324.2 L718.6,1312.0 L718.8,1300.0 L718.9,1289.3 L719.1,1278.5 L719.2,1267.8 L719.3,1257.2 L719.5,1247.0 L719.6,1237.3 L719.8,1228.2 L720.0,1220.0 L720.1,1215.1 L720.3,1210.4 L720.4,1205.8 L720.6,1201.5 L720.7,1197.5 L720.9,1193.9 L721.1,1190.7 L721.3,1188.0 L721.4,1186.9 L721.5,1185.9 L721.6,1184.9 L721.7,1183.9 L721.9,1183.2 L722.0,1182.5 L722.1,1182.1 L722.2,1182.0 L722.3,1182.1 L722.4,1182.5 L722.5,1183.2 L722.7,1183.9 L722.8,1184.9 L722.9,1185.9 L723.0,1186.9 L723.1,1188.0 L723.3,1190.7 L723.5,1193.9 L723.7,1197.5 L723.9,1201.5 L724.1,1205.8 L724.2,1210.4 L724.4,1215.1 L724.5,1220.0 L724.7,1228.2 L724.9,1237.3 L725.0,1247.0 L725.1,1257.2 L725.2,1267.8 L725.3,1278.5 L725.4,1289.3 L725.5,1300.0 L725.6,1312.0 L725.8,1324.2 L725.9,1336.7 L726.0,1349.3 L726.1,1362.0 L726.2,1374.7 L726.4,1387.4 L726.5,1400.0 L726.6,1412.6 L726.8,1425.3 L726.9,1438.0 L727.0,1450.7 L727.2,1463.3 L727.3,1475.8 L727.5,1488.0 L727.7,1500.0 L727.9,1510.5 L728.1,1520.8 L728.3,1531.0 L728.5,1541.1 L728.7,1551.0 L728.9,1560.8 L729.2,1570.5 L729.5,1580.0 L729.8,1588.3 L730.0,1596.5 L730.3,1604.4 L730.6,1612.3 L730.9,1620.1 L731.3,1628.0 L731.8,1635.9 L732.3,1644.0 L732.9,1652.6 L733.5,1661.6 L734.2,1670.6 L734.9,1679.6 L735.8,1688.5 L736.7,1697.1 L737.9,1705.3 L739.2,1713.0 L740.3,1718.6 L741.4,1724.0 L742.5,1729.3 L743.8,1734.4 L745.2,1739.2 L746.8,1743.8 L748.6,1748.1 L750.7,1752.0 L752.6,1755.0 L754.5,1757.9 L756.6,1760.7 L758.9,1763.3 L761.2,1765.6 L763.8,1767.6 L766.4,1769.1 L769.2,1770.0 L772.8,1770.4 L776.9,1770.3 L781.2,1769.5 L785.7,1768.3 L790.2,1766.6 L794.4,1764.4 L798.2,1761.9 L801.5,1759.0 L804.8,1753.7 L807.4,1746.3 L809.5,1737.6 L811.1,1728.5 L812.5,1719.9 L813.8,1712.7 L815.1,1707.8 L816.5,1706.0 L817.9,1708.3 L819.1,1714.1 L820.0,1722.5 L820.9,1732.3 L822.0,1742.5 L823.2,1751.9 L824.8,1759.4 L826.9,1764.0 L827.9,1764.9 L828.9,1765.5 L830.0,1765.8 L831.2,1766.0 L832.3,1766.1 L833.5,1766.3 L834.8,1766.5 L836.0,1767.0 L837.8,1768.2 L839.8,1769.7 L841.9,1771.6 L843.9,1773.5 L846.0,1775.2 L848.1,1776.7 L850.1,1777.7 L852.0,1778.0 L853.6,1777.7 L855.3,1777.2 L856.9,1776.3 L858.5,1775.1 L860.0,1773.6 L861.4,1772.0 L862.8,1770.1 L864.0,1768.0 L866.2,1761.7 L867.8,1752.5 L869.0,1741.6 L869.9,1730.0 L870.6,1719.0 L871.3,1709.8 L872.0,1703.4 L873.0,1701.0 L873.9,1703.9 L874.5,1711.5 L874.9,1722.3 L875.4,1734.9 L876.1,1747.8 L877.3,1759.4 L879.2,1768.3 L882.0,1773.0 L883.9,1773.5 L886.0,1773.2 L888.4,1772.2 L890.8,1770.9 L893.3,1769.4 L895.8,1768.1 L898.0,1767.2 L900.0,1767.0 L901.3,1767.3 L902.5,1768.0 L903.6,1768.9 L904.7,1769.9 L905.7,1770.9 L906.8,1771.6 L907.9,1772.0 L909.0,1772.0 L911.4,1770.2 L913.8,1766.3 L916.4,1761.1 L919.0,1755.4 L921.6,1749.6 L924.2,1744.7 L926.6,1741.3 L929.0,1740.0 L931.0,1741.2 L933.1,1744.4 L935.0,1748.8 L937.0,1753.8 L938.8,1758.7 L940.6,1763.0 L942.4,1766.0 L944.0,1767.0 L946.0,1764.6 L947.8,1758.7 L949.5,1750.5 L951.1,1741.2 L952.7,1731.9 L954.1,1723.8 L955.6,1718.1 L957.0,1716.0 L958.4,1718.7 L959.5,1725.7 L960.4,1735.6 L961.3,1747.0 L962.4,1758.6 L963.7,1768.8 L965.5,1776.5 L968.0,1780.0 L969.8,1779.9 L971.7,1778.6 L973.8,1776.4 L976.0,1773.8 L978.3,1771.0 L980.6,1768.6 L982.8,1766.8 L985.0,1766.0 L986.9,1766.1 L988.7,1766.7 L990.6,1767.7 L992.5,1769.0 L994.3,1770.5 L996.2,1772.0 L998.1,1773.6 L1000.0,1775.0 L1002.2,1776.7 L1004.2,1778.7 L1006.3,1780.9 L1008.4,1783.1 L1010.6,1785.2 L1012.9,1787.1 L1015.3,1788.8 L1018.0,1790.0 L1021.5,1791.0 L1025.3,1791.6 L1029.4,1791.9 L1033.7,1791.9 L1038.0,1791.7 L1042.2,1791.2 L1046.3,1790.7 L1050.0,1790.0 L1053.1,1789.3 L1056.1,1788.5 L1059.1,1787.5 L1062.0,1786.4 L1064.7,1785.1 L1067.4,1783.8 L1069.8,1782.4 L1072.0,1781.0 L1073.6,1779.6 L1075.0,1777.9 L1076.2,1776.1 L1077.4,1774.2 L1078.5,1772.5 L1079.7,1771.1 L1080.8,1770.2 L1082.0,1770.0 L1083.6,1771.1 L1085.1,1773.7 L1086.6,1777.4 L1088.0,1781.7 L1089.6,1786.1 L1091.4,1790.3 L1093.5,1793.7 L1096.0,1796.0 L1099.1,1797.0 L1102.7,1797.2 L1106.6,1796.7 L1110.7,1795.9 L1115.0,1795.0 L1119.2,1794.2 L1123.2,1793.8 L1127.0,1794.0 L1130.3,1795.0 L1133.5,1796.5 L1136.6,1798.4 L1139.7,1800.4 L1142.7,1802.3 L1145.7,1803.9 L1148.6,1804.8 L1151.5,1805.0 L1154.4,1804.1 L1157.2,1802.2 L1159.9,1799.7 L1162.6,1796.9 L1165.3,1794.1 L1167.9,1791.6 L1170.5,1789.8 L1173.0,1789.0 L1174.9,1789.1 L1176.6,1789.8 L1178.4,1790.8 L1180.1,1792.0 L1181.8,1793.3 L1183.6,1794.5 L1185.5,1795.4 L1187.5,1796.0 L1190.2,1796.1 L1193.1,1795.6 L1196.2,1794.9 L1199.4,1793.9 L1202.6,1793.0 L1205.8,1792.3 L1208.9,1791.9 L1212.0,1792.0 L1215.0,1792.8 L1217.9,1794.0 L1220.7,1795.7 L1223.5,1797.5 L1226.4,1799.4 L1229.5,1801.2 L1233.0,1802.8 L1237.0,1804.0 L1245.4,1805.3 L1255.2,1806.0 L1266.2,1806.2 L1277.9,1806.0 L1290.0,1805.5 L1302.1,1805.0 L1313.9,1804.4 L1325.0,1804.0 L1335.3,1804.0 L1346.1,1804.4 L1357.1,1804.8 L1367.9,1805.1 L1378.1,1805.1 L1387.5,1804.4 L1395.5,1802.7 L1402.0,1800.0 L1405.1,1797.3 L1407.6,1793.5 L1409.6,1789.2 L1411.3,1784.8 L1412.7,1780.6 L1414.1,1777.2 L1415.5,1774.8 L1417.0,1774.0 L1418.4,1774.9 L1419.6,1777.1 L1420.7,1780.4 L1421.7,1784.2 L1422.9,1788.3 L1424.2,1792.2 L1425.9,1795.6 L1428.0,1798.0 L1430.7,1799.6 L1433.8,1800.7 L1437.3,1801.4 L1440.9,1801.8 L1444.8,1802.0 L1448.6,1802.2 L1452.4,1802.5 L1456.0,1803.0" fill="none" stroke="#535353" stroke-width="6.5" stroke-linejoin="round" stroke-linecap="round" clip-path="url(#cb)"/>
<path d="M143.0,1877.0 L149.7,1877.1 L156.8,1877.6 L164.1,1878.2 L171.3,1878.8 L178.2,1879.0 L184.4,1878.8 L189.8,1877.9 L194.0,1876.0 L196.1,1874.2 L197.7,1872.1 L198.9,1869.6 L199.9,1866.9 L200.6,1864.1 L201.3,1861.1 L202.1,1858.1 L203.0,1855.0 L204.2,1850.9 L205.4,1846.6 L206.5,1842.0 L207.5,1837.3 L208.6,1832.5 L209.6,1827.7 L210.8,1822.8 L212.0,1818.0 L213.4,1812.8 L214.9,1807.4 L216.4,1802.0 L218.0,1796.5 L219.6,1791.1 L221.3,1785.8 L222.9,1780.8 L224.5,1776.0 L225.8,1772.1 L227.1,1767.8 L228.5,1763.4 L229.8,1759.3 L231.1,1755.6 L232.5,1752.7 L233.8,1750.7 L235.0,1750.0 L236.2,1750.7 L237.4,1752.6 L238.6,1755.5 L239.8,1759.1 L240.9,1763.2 L242.0,1767.6 L243.0,1771.9 L244.0,1776.0 L245.2,1781.9 L246.1,1788.4 L246.9,1795.5 L247.6,1802.7 L248.4,1810.0 L249.2,1817.2 L250.3,1823.9 L251.6,1830.0 L252.8,1834.4 L254.0,1838.7 L255.2,1842.9 L256.6,1846.9 L258.1,1850.7 L259.7,1854.3 L261.6,1857.8 L263.7,1861.0 L265.8,1863.8 L268.1,1866.5 L270.5,1869.0 L273.1,1871.3 L275.8,1873.5 L278.6,1875.5 L281.6,1877.3 L284.8,1879.0 L288.7,1880.6 L292.8,1882.0 L297.1,1883.0 L301.6,1883.9 L306.3,1884.5 L311.1,1885.1 L316.0,1885.6 L321.0,1886.0 L327.3,1886.3 L334.0,1886.2 L341.0,1885.9 L348.1,1885.5 L355.2,1885.0 L362.1,1884.7 L368.8,1884.7 L375.0,1885.0 L379.8,1885.8 L384.5,1887.0 L389.2,1888.5 L393.7,1890.0 L398.0,1891.4 L402.0,1892.3 L405.7,1892.6 L409.0,1892.0 L411.2,1890.7 L413.2,1888.5 L415.0,1885.9 L416.6,1883.0 L418.0,1880.3 L419.4,1878.0 L420.8,1876.5 L422.2,1876.0 L423.4,1876.7 L424.4,1878.4 L425.2,1880.7 L426.1,1883.4 L427.0,1886.2 L428.0,1888.7 L429.4,1890.8 L431.0,1892.0 L433.7,1892.2 L437.1,1891.3 L440.8,1889.7 L444.9,1887.6 L449.0,1885.4 L453.0,1883.5 L456.7,1882.3 L460.0,1882.0 L462.2,1882.6 L464.2,1883.6 L466.1,1884.9 L467.8,1886.5 L469.6,1888.1 L471.5,1889.7 L473.6,1891.0 L476.0,1892.0 L479.7,1892.9 L483.6,1893.5 L487.8,1893.8 L492.3,1893.9 L497.0,1893.9 L501.8,1893.8 L506.9,1893.6 L512.0,1893.5 L519.4,1893.2 L527.4,1892.6 L535.8,1891.8 L544.4,1890.9 L553.2,1890.0 L562.0,1889.1 L570.6,1888.4 L579.0,1888.0 L586.9,1887.9 L595.0,1888.1 L603.0,1888.4 L611.0,1888.8 L618.8,1889.2 L626.3,1889.4 L633.4,1889.4 L640.0,1889.0 L644.4,1888.6 L648.6,1888.2 L652.7,1887.7 L656.6,1887.1 L660.3,1886.4 L663.8,1885.5 L667.1,1884.4 L670.0,1883.0 L672.0,1881.6 L673.8,1879.7 L675.5,1877.6 L677.0,1875.4 L678.4,1873.4 L679.8,1871.7 L681.2,1870.5 L682.7,1870.0 L684.0,1870.3 L685.3,1871.2 L686.6,1872.5 L687.9,1874.0 L689.2,1875.6 L690.5,1876.9 L691.7,1877.8 L693.0,1878.0 L694.5,1877.5 L696.1,1876.5 L697.6,1875.0 L699.2,1873.2 L700.7,1871.0 L702.1,1868.7 L703.4,1866.4 L704.6,1864.0 L706.0,1860.5 L707.2,1856.4 L708.1,1852.1 L708.9,1847.4 L709.6,1842.7 L710.3,1838.0 L710.9,1833.3 L711.5,1829.0 L712.1,1825.2 L712.6,1821.5 L713.0,1817.9 L713.4,1814.3 L713.8,1810.7 L714.2,1807.1 L714.6,1803.6 L715.0,1800.0 L715.4,1796.2 L715.8,1791.9 L716.3,1787.4 L716.7,1783.1 L717.1,1779.1 L717.5,1775.9 L718.0,1773.8 L718.4,1773.0 L718.8,1773.8 L719.3,1775.9 L719.7,1779.1 L720.2,1783.1 L720.7,1787.4 L721.1,1791.9 L721.6,1796.2 L722.0,1800.0 L722.4,1803.6 L722.8,1807.1 L723.2,1810.7 L723.5,1814.4 L723.9,1818.0 L724.3,1821.6 L724.8,1825.3 L725.4,1829.0 L726.1,1833.0 L726.7,1837.1 L727.4,1841.3 L728.2,1845.4 L729.0,1849.5 L730.0,1853.5 L731.1,1857.4 L732.3,1861.0 L733.4,1864.0 L734.6,1867.0 L735.9,1869.9 L737.2,1872.7 L738.7,1875.4 L740.2,1877.9 L741.9,1880.1 L743.8,1882.0 L745.5,1883.4 L747.2,1884.6 L749.1,1885.7 L751.0,1886.6 L753.0,1887.3 L755.2,1888.0 L757.5,1888.5 L760.0,1889.0 L764.6,1889.4 L770.2,1889.5 L776.4,1889.2 L782.8,1888.7 L789.0,1888.1 L794.4,1887.4 L798.7,1886.6 L801.5,1886.0 L801.9,1885.9 L802.2,1885.7 L802.4,1885.6 L802.6,1885.5 L802.8,1885.4 L803.0,1885.2 L803.2,1885.0 L803.5,1884.8 L804.4,1884.0 L805.6,1882.7 L806.9,1881.3 L808.3,1879.7 L809.8,1878.2 L811.3,1877.0 L812.7,1876.2 L814.0,1876.0 L815.3,1876.6 L816.5,1877.8 L817.6,1879.6 L818.7,1881.7 L819.8,1883.8 L821.2,1885.9 L822.7,1887.7 L824.5,1889.0 L827.7,1890.2 L831.6,1891.2 L835.9,1891.8 L840.5,1892.1 L845.1,1892.1 L849.6,1891.7 L853.6,1891.0 L857.0,1890.0 L859.2,1888.7 L861.2,1886.7 L863.0,1884.4 L864.7,1881.9 L866.3,1879.6 L867.8,1877.7 L869.2,1876.4 L870.7,1876.0 L871.9,1876.6 L873.0,1878.0 L873.9,1879.9 L874.9,1882.2 L875.8,1884.6 L877.0,1886.8 L878.3,1888.7 L880.0,1890.0 L882.8,1890.9 L886.1,1891.3 L889.8,1891.3 L893.8,1891.0 L897.9,1890.4 L901.9,1889.6 L905.6,1888.8 L909.0,1888.0 L911.5,1887.1 L913.9,1885.9 L916.2,1884.6 L918.4,1883.1 L920.5,1881.8 L922.6,1880.8 L924.6,1880.1 L926.6,1880.0 L928.2,1880.5 L929.8,1881.6 L931.3,1883.1 L932.7,1884.7 L934.2,1886.3 L935.6,1887.7 L937.1,1888.6 L938.6,1889.0 L940.3,1888.5 L942.1,1887.3 L944.0,1885.5 L945.8,1883.5 L947.7,1881.4 L949.5,1879.7 L951.3,1878.4 L953.0,1878.0 L954.5,1878.4 L955.8,1879.3 L957.0,1880.5 L958.2,1882.1 L959.5,1883.8 L961.1,1885.4 L962.8,1886.9 L965.0,1888.0 L971.4,1889.8 L979.7,1891.1 L989.4,1891.9 L1000.0,1892.5 L1010.9,1892.7 L1021.5,1892.6 L1031.4,1892.4 L1040.0,1892.0 L1045.3,1891.5 L1050.3,1890.7 L1055.1,1889.6 L1059.6,1888.5 L1064.1,1887.5 L1068.4,1886.6 L1072.7,1886.1 L1077.0,1886.0 L1080.6,1886.3 L1083.9,1887.0 L1087.1,1887.9 L1090.2,1889.0 L1093.5,1890.2 L1097.1,1891.3 L1101.2,1892.2 L1106.0,1893.0 L1120.2,1894.2 L1138.0,1894.8 L1158.4,1895.1 L1180.7,1895.0 L1203.9,1894.8 L1227.1,1894.5 L1249.4,1894.2 L1270.0,1894.0 L1288.3,1894.1 L1307.8,1894.5 L1327.6,1894.9 L1347.0,1895.2 L1364.9,1895.3 L1380.7,1895.0 L1393.3,1894.1 L1402.0,1892.5 L1403.6,1891.8 L1404.8,1891.0 L1405.8,1890.1 L1406.7,1889.2 L1407.4,1888.4 L1408.2,1887.7 L1409.0,1887.2 L1410.0,1887.0 L1411.2,1887.2 L1412.4,1887.9 L1413.6,1888.8 L1414.9,1889.9 L1416.2,1891.1 L1417.7,1892.3 L1419.2,1893.3 L1421.0,1894.0 L1424.4,1894.7 L1428.3,1895.2 L1432.6,1895.3 L1437.2,1895.3 L1441.9,1895.2 L1446.8,1895.1 L1451.5,1895.0 L1456.0,1895.0" fill="none" stroke="#F44242" stroke-width="6.5" stroke-linejoin="round" stroke-linecap="round" clip-path="url(#cb)"/>
<path d="M143.0,1981.0 L149.3,1980.9 L155.9,1981.1 L162.6,1981.4 L169.3,1981.7 L175.7,1981.7 L181.6,1981.2 L186.8,1980.1 L191.0,1978.0 L193.6,1975.7 L195.7,1972.9 L197.3,1969.8 L198.7,1966.3 L199.8,1962.6 L200.8,1958.8 L201.9,1954.9 L203.0,1951.0 L204.4,1946.2 L205.6,1941.0 L206.7,1935.6 L207.7,1930.0 L208.7,1924.5 L209.7,1919.1 L210.8,1913.9 L212.0,1909.0 L213.1,1905.3 L214.2,1901.9 L215.4,1898.5 L216.5,1895.3 L217.8,1892.0 L219.0,1888.8 L220.2,1885.5 L221.5,1882.0 L223.0,1877.6 L224.5,1872.4 L226.0,1866.9 L227.6,1861.5 L229.2,1856.6 L230.7,1852.6 L232.2,1849.9 L233.5,1849.0 L234.9,1850.3 L236.1,1853.6 L237.3,1858.5 L238.4,1864.5 L239.5,1871.2 L240.5,1878.2 L241.5,1884.9 L242.6,1891.0 L243.7,1897.6 L244.7,1904.5 L245.7,1911.6 L246.6,1918.8 L247.7,1925.9 L248.8,1932.7 L250.1,1939.2 L251.6,1945.0 L252.8,1949.0 L254.0,1952.8 L255.3,1956.5 L256.6,1960.1 L258.1,1963.4 L259.7,1966.5 L261.6,1969.4 L263.7,1972.0 L265.8,1974.1 L268.1,1976.0 L270.5,1977.6 L273.0,1979.1 L275.7,1980.5 L278.6,1981.7 L281.6,1982.9 L284.8,1984.0 L289.6,1985.4 L294.8,1986.6 L300.4,1987.5 L306.3,1988.3 L312.3,1988.9 L318.3,1989.4 L324.2,1989.8 L330.0,1990.0 L335.6,1990.0 L341.2,1989.6 L346.9,1989.0 L352.5,1988.3 L358.1,1987.6 L363.5,1987.1 L368.9,1986.8 L374.0,1987.0 L378.4,1987.7 L382.8,1989.0 L387.2,1990.5 L391.4,1992.1 L395.5,1993.6 L399.4,1994.6 L402.9,1995.0 L406.0,1994.5 L408.2,1993.2 L410.1,1991.0 L411.9,1988.2 L413.4,1985.3 L414.9,1982.5 L416.3,1980.1 L417.6,1978.5 L419.0,1978.0 L420.2,1978.8 L421.2,1980.7 L422.1,1983.4 L423.0,1986.5 L423.9,1989.6 L425.0,1992.5 L426.3,1994.7 L428.0,1996.0 L430.6,1996.1 L433.8,1994.8 L437.4,1992.7 L441.2,1990.2 L445.1,1987.5 L448.9,1985.2 L452.6,1983.5 L456.0,1983.0 L458.6,1983.5 L461.1,1984.6 L463.4,1986.2 L465.8,1988.0 L468.1,1989.9 L470.5,1991.8 L473.2,1993.4 L476.0,1994.5 L479.9,1995.4 L484.0,1996.0 L488.3,1996.4 L492.8,1996.5 L497.5,1996.5 L502.3,1996.4 L507.1,1996.2 L512.0,1996.0 L518.0,1995.6 L524.1,1995.0 L530.4,1994.1 L536.8,1993.1 L543.4,1992.2 L550.1,1991.3 L557.0,1990.5 L564.0,1990.0 L573.0,1989.8 L582.8,1990.0 L593.0,1990.4 L603.3,1990.9 L613.4,1991.3 L623.1,1991.6 L632.1,1991.5 L640.0,1991.0 L644.6,1990.5 L648.9,1990.0 L653.1,1989.4 L657.0,1988.7 L660.7,1987.9 L664.1,1986.8 L667.2,1985.5 L670.0,1984.0 L671.8,1982.4 L673.3,1980.4 L674.6,1978.1 L675.8,1975.8 L676.9,1973.7 L678.0,1971.8 L679.1,1970.5 L680.4,1970.0 L681.7,1970.4 L682.9,1971.5 L684.2,1973.1 L685.5,1975.0 L686.8,1976.9 L688.1,1978.5 L689.4,1979.7 L690.7,1980.0 L692.2,1979.5 L693.8,1978.2 L695.4,1976.4 L696.9,1974.1 L698.4,1971.5 L699.8,1968.7 L701.1,1965.8 L702.3,1963.0 L703.7,1958.7 L704.9,1953.7 L705.9,1948.3 L706.7,1942.7 L707.4,1936.9 L708.0,1931.3 L708.6,1925.9 L709.2,1921.0 L709.7,1917.4 L710.0,1914.0 L710.4,1910.6 L710.7,1907.4 L711.0,1904.2 L711.3,1901.1 L711.6,1898.0 L712.0,1895.0 L712.4,1892.2 L712.7,1889.1 L713.1,1886.0 L713.5,1882.9 L713.9,1880.2 L714.3,1878.0 L714.6,1876.5 L715.0,1876.0 L715.4,1876.7 L715.8,1878.5 L716.2,1881.2 L716.5,1884.6 L716.9,1888.4 L717.3,1892.4 L717.6,1896.3 L718.0,1900.0 L718.4,1904.9 L718.8,1910.2 L719.1,1915.8 L719.4,1921.6 L719.8,1927.4 L720.3,1933.2 L721.0,1938.7 L721.9,1944.0 L722.8,1948.5 L723.8,1953.1 L724.9,1957.6 L726.1,1962.0 L727.4,1966.2 L728.9,1970.2 L730.5,1973.8 L732.3,1977.0 L733.7,1979.1 L735.1,1981.1 L736.5,1982.9 L738.0,1984.5 L739.7,1986.0 L741.6,1987.3 L743.6,1988.5 L746.0,1989.5 L750.9,1990.8 L757.1,1991.5 L764.1,1991.7 L771.6,1991.6 L779.0,1991.1 L786.0,1990.2 L792.1,1989.2 L797.0,1988.0 L799.1,1987.1 L800.9,1985.9 L802.6,1984.5 L804.0,1983.1 L805.4,1981.8 L806.8,1980.8 L808.1,1980.1 L809.5,1980.0 L810.8,1980.5 L812.0,1981.6 L813.1,1983.0 L814.2,1984.7 L815.4,1986.5 L816.7,1988.3 L818.2,1989.8 L820.0,1991.0 L823.6,1992.4 L828.1,1993.6 L833.1,1994.6 L838.5,1995.3 L843.8,1995.7 L848.9,1995.6 L853.4,1995.1 L857.0,1994.0 L859.0,1992.6 L860.8,1990.5 L862.3,1988.1 L863.6,1985.5 L864.8,1983.0 L866.0,1980.9 L867.2,1979.5 L868.4,1979.0 L869.6,1979.6 L870.6,1981.1 L871.5,1983.2 L872.4,1985.6 L873.4,1988.2 L874.5,1990.6 L875.9,1992.6 L877.6,1994.0 L880.4,1994.9 L883.8,1995.2 L887.6,1995.1 L891.7,1994.6 L895.9,1993.8 L899.9,1992.9 L903.7,1991.9 L907.0,1991.0 L909.2,1990.1 L911.3,1989.0 L913.3,1987.7 L915.2,1986.3 L917.0,1985.1 L918.8,1984.0 L920.7,1983.3 L922.6,1983.0 L924.6,1983.3 L926.6,1984.3 L928.7,1985.6 L930.8,1987.1 L932.8,1988.6 L934.8,1989.9 L936.7,1990.7 L938.6,1991.0 L940.2,1990.6 L941.7,1989.6 L943.2,1988.3 L944.6,1986.9 L946.1,1985.4 L947.5,1984.2 L949.0,1983.3 L950.5,1983.0 L952.1,1983.3 L953.6,1984.3 L955.1,1985.6 L956.6,1987.2 L958.3,1988.9 L960.2,1990.5 L962.4,1991.9 L965.0,1993.0 L973.9,1994.4 L985.8,1994.6 L999.9,1994.0 L1015.3,1992.9 L1031.0,1991.6 L1046.4,1990.5 L1060.3,1989.8 L1072.0,1990.0 L1077.9,1990.6 L1083.0,1991.4 L1087.5,1992.3 L1091.9,1993.3 L1096.4,1994.4 L1101.3,1995.4 L1107.1,1996.3 L1114.0,1997.0 L1139.6,1998.6 L1175.0,2000.0 L1216.6,2001.0 L1261.0,2001.6 L1304.4,2001.7 L1343.5,2001.0 L1374.5,1999.5 L1394.0,1997.0 L1396.7,1996.1 L1398.8,1995.1 L1400.6,1993.9 L1402.1,1992.7 L1403.5,1991.6 L1404.8,1990.7 L1406.1,1990.2 L1407.6,1990.0 L1409.0,1990.3 L1410.3,1991.0 L1411.5,1991.9 L1412.7,1993.0 L1413.9,1994.2 L1415.3,1995.3 L1416.8,1996.3 L1418.6,1997.0 L1422.1,1997.8 L1426.3,1998.2 L1430.9,1998.4 L1435.8,1998.4 L1440.9,1998.2 L1446.1,1998.1 L1451.2,1998.0 L1456.0,1998.0" fill="none" stroke="#1767E0" stroke-width="6.5" stroke-linejoin="round" stroke-linecap="round" clip-path="url(#cb)"/>
<path d="M143.0,2099.0 L150.4,2098.8 L158.3,2098.9 L166.4,2099.1 L174.4,2099.3 L182.0,2099.2 L189.0,2098.8 L195.1,2097.8 L200.0,2096.0 L202.3,2094.6 L204.2,2093.1 L205.8,2091.4 L207.2,2089.6 L208.5,2087.6 L209.6,2085.5 L210.8,2083.3 L212.0,2081.0 L213.5,2077.8 L214.8,2074.2 L216.0,2070.3 L217.0,2066.2 L218.1,2062.2 L219.1,2058.2 L220.3,2054.4 L221.5,2051.0 L222.6,2048.5 L223.6,2046.2 L224.7,2044.0 L225.8,2041.9 L227.0,2039.7 L228.1,2037.6 L229.3,2035.4 L230.5,2033.0 L231.9,2029.7 L233.4,2025.9 L234.9,2021.8 L236.4,2017.7 L237.9,2013.9 L239.5,2010.9 L241.1,2008.8 L242.6,2008.0 L244.1,2008.6 L245.7,2010.2 L247.3,2012.6 L248.8,2015.7 L250.4,2019.2 L251.9,2022.9 L253.3,2026.6 L254.6,2030.0 L256.0,2034.4 L257.1,2039.2 L258.0,2044.3 L258.9,2049.6 L259.8,2054.9 L260.8,2060.0 L262.1,2064.7 L263.7,2069.0 L265.2,2072.1 L266.6,2075.2 L268.2,2078.0 L269.9,2080.8 L271.7,2083.4 L273.8,2085.8 L276.1,2088.0 L278.8,2090.0 L283.1,2092.3 L288.3,2094.1 L294.1,2095.6 L300.2,2096.9 L306.3,2097.9 L312.0,2098.8 L317.0,2099.7 L321.0,2100.5 L322.4,2100.9 L323.5,2101.3 L324.5,2101.6 L325.3,2101.9 L326.2,2102.2 L327.2,2102.5 L328.5,2102.7 L330.0,2103.0 L336.9,2103.6 L346.9,2104.1 L358.8,2104.4 L371.7,2104.5 L384.5,2104.6 L396.2,2104.5 L405.7,2104.3 L412.0,2104.0 L413.1,2103.9 L413.9,2103.9 L414.7,2103.8 L415.3,2103.7 L415.9,2103.6 L416.5,2103.5 L417.2,2103.3 L418.0,2103.0 L419.4,2102.4 L421.0,2101.4 L422.6,2100.2 L424.3,2098.9 L426.0,2097.8 L427.7,2096.8 L429.4,2096.2 L431.0,2096.0 L432.6,2096.5 L434.2,2097.6 L435.7,2099.1 L437.2,2100.8 L438.7,2102.6 L440.4,2104.1 L442.1,2105.3 L444.0,2106.0 L446.7,2105.9 L449.6,2105.0 L452.7,2103.6 L455.9,2101.9 L459.2,2100.1 L462.5,2098.6 L465.8,2097.4 L469.0,2097.0 L472.1,2097.3 L475.1,2098.2 L478.1,2099.4 L481.1,2100.9 L484.1,2102.4 L487.2,2103.9 L490.5,2105.1 L494.0,2106.0 L498.6,2106.6 L503.4,2107.0 L508.3,2107.1 L513.5,2107.1 L518.8,2106.9 L524.1,2106.6 L529.6,2106.3 L535.0,2106.0 L541.3,2105.5 L547.8,2104.8 L554.4,2103.9 L561.1,2103.0 L567.9,2102.0 L574.6,2101.2 L581.3,2100.5 L588.0,2100.0 L594.6,2099.8 L601.3,2099.9 L608.0,2100.2 L614.7,2100.5 L621.3,2100.8 L627.8,2101.0 L634.0,2101.1 L640.0,2101.0 L644.8,2100.8 L649.5,2100.6 L654.1,2100.4 L658.6,2100.1 L663.0,2099.7 L667.1,2099.1 L671.0,2098.2 L674.6,2097.0 L677.2,2095.6 L679.7,2093.7 L682.0,2091.6 L684.2,2089.3 L686.2,2087.3 L688.2,2085.5 L690.1,2084.4 L691.9,2084.0 L693.2,2084.4 L694.4,2085.3 L695.5,2086.6 L696.6,2088.1 L697.7,2089.6 L698.7,2090.8 L699.8,2091.7 L701.0,2092.0 L702.6,2091.6 L704.2,2090.6 L706.0,2089.2 L707.7,2087.4 L709.4,2085.2 L711.0,2082.9 L712.5,2080.5 L713.8,2078.0 L715.3,2074.0 L716.5,2069.3 L717.4,2064.1 L718.1,2058.6 L718.7,2053.0 L719.3,2047.4 L719.9,2042.0 L720.7,2037.0 L721.5,2032.5 L722.4,2027.5 L723.2,2022.3 L724.1,2017.3 L725.0,2012.9 L725.8,2009.3 L726.5,2006.9 L727.2,2006.0 L727.7,2006.7 L728.2,2008.6 L728.6,2011.4 L729.0,2014.9 L729.3,2018.7 L729.7,2022.7 L730.1,2026.5 L730.5,2030.0 L731.0,2033.6 L731.4,2037.3 L731.8,2041.1 L732.2,2044.9 L732.7,2048.7 L733.2,2052.5 L733.8,2056.3 L734.6,2060.0 L735.4,2063.7 L736.3,2067.5 L737.2,2071.3 L738.2,2075.0 L739.3,2078.7 L740.6,2082.1 L742.1,2085.2 L743.8,2088.0 L745.4,2090.1 L747.0,2091.9 L748.8,2093.7 L750.7,2095.2 L752.7,2096.7 L754.9,2097.9 L757.3,2099.0 L760.0,2100.0 L765.1,2101.2 L771.4,2101.9 L778.4,2102.2 L785.8,2102.1 L793.1,2101.7 L800.0,2101.0 L806.0,2100.1 L810.7,2099.0 L812.6,2098.2 L814.2,2097.2 L815.7,2096.0 L817.0,2094.8 L818.2,2093.7 L819.4,2092.8 L820.7,2092.2 L822.0,2092.0 L823.4,2092.4 L824.8,2093.2 L826.1,2094.4 L827.5,2095.8 L828.9,2097.3 L830.4,2098.7 L832.1,2100.0 L834.0,2101.0 L837.5,2102.1 L841.6,2103.2 L846.2,2104.0 L850.9,2104.7 L855.7,2105.0 L860.3,2105.1 L864.5,2104.8 L868.0,2104.0 L870.1,2103.0 L871.9,2101.5 L873.6,2099.7 L875.2,2097.7 L876.7,2095.9 L878.1,2094.4 L879.5,2093.3 L881.0,2093.0 L882.3,2093.4 L883.5,2094.4 L884.7,2095.8 L885.8,2097.4 L887.0,2099.1 L888.2,2100.7 L889.5,2102.1 L891.0,2103.0 L892.7,2103.6 L894.4,2103.9 L896.3,2104.0 L898.2,2104.0 L900.3,2103.9 L902.3,2103.6 L904.4,2103.3 L906.6,2103.0 L909.7,2102.3 L913.0,2101.2 L916.4,2099.9 L920.0,2098.4 L923.5,2097.1 L926.9,2095.9 L930.1,2095.2 L933.0,2095.0 L934.9,2095.3 L936.7,2096.0 L938.4,2096.8 L940.0,2097.8 L941.6,2098.8 L943.2,2099.7 L944.8,2100.3 L946.5,2100.5 L948.2,2100.3 L949.9,2099.6 L951.6,2098.7 L953.3,2097.7 L955.0,2096.6 L956.7,2095.8 L958.3,2095.2 L960.0,2095.0 L961.6,2095.3 L962.9,2096.0 L964.3,2096.9 L965.6,2098.0 L967.1,2099.1 L968.7,2100.3 L970.7,2101.2 L973.0,2102.0 L981.7,2103.1 L993.4,2103.4 L1007.2,2102.9 L1022.6,2102.1 L1038.8,2101.0 L1055.0,2100.0 L1070.7,2099.2 L1085.0,2099.0 L1097.0,2099.2 L1108.3,2099.6 L1119.4,2100.1 L1130.4,2100.7 L1141.7,2101.3 L1153.6,2101.9 L1166.2,2102.5 L1180.0,2103.0 L1205.8,2104.0 L1236.9,2105.4 L1271.1,2107.1 L1306.0,2108.5 L1339.4,2109.5 L1369.0,2109.8 L1392.5,2109.1 L1407.6,2107.0 L1409.8,2106.2 L1411.5,2105.2 L1412.9,2104.0 L1414.1,2102.9 L1415.2,2101.8 L1416.2,2100.9 L1417.3,2100.3 L1418.6,2100.0 L1419.9,2100.2 L1421.2,2100.7 L1422.5,2101.5 L1423.7,2102.5 L1425.0,2103.5 L1426.4,2104.5 L1427.9,2105.4 L1429.6,2106.0 L1432.3,2106.6 L1435.3,2106.9 L1438.6,2107.0 L1442.0,2107.1 L1445.6,2107.0 L1449.1,2107.0 L1452.6,2106.9 L1456.0,2107.0" fill="none" stroke="#2EAA66" stroke-width="6.5" stroke-linejoin="round" stroke-linecap="round" clip-path="url(#cb)"/>
<text x="799.2" y="1331.3" font-size="64" transform="rotate(-90 799.2 1331.3)" textLength="137.1" lengthAdjust="spacingAndGlyphs" class="t">(302)</text>
<text x="816.5" y="1685.7" font-size="64" transform="rotate(-90 816.5 1685.7)" textLength="137.1" lengthAdjust="spacingAndGlyphs" class="t">(304)</text>
<text x="442" y="1761.9" font-size="64" transform="rotate(-90 442 1761.9)" textLength="137.6" lengthAdjust="spacingAndGlyphs" class="t">(004)</text>
<text x="1229.5" y="1782.4" font-size="64" text-anchor="start" textLength="177.2" lengthAdjust="spacingAndGlyphs" class="t">Beta-C</text>
<text x="1151.2" y="1880.1" font-size="64" text-anchor="start" textLength="262.7" lengthAdjust="spacingAndGlyphs" class="t">Pd/Beta-C</text>
<text x="915.3" y="1976.5" font-size="64" text-anchor="start" textLength="498.1" lengthAdjust="spacingAndGlyphs" class="t">Pd/Beta-C-750HTA</text>
<text x="915.4" y="2093" font-size="64" text-anchor="start" textLength="496.7" lengthAdjust="spacingAndGlyphs" class="t">Pd/Beta-C-800HTA</text>
<path d="M1240.7,1196.6 L1283.3,1196.6 L1262.0,1238.2 Z" fill="#8000FF"/>
<text x="1302.6" y="1232.8" font-size="64" text-anchor="start" textLength="113.0" lengthAdjust="spacingAndGlyphs" class="t">PdO</text>
<rect x="894.6" y="1275.4" width="527.1999999999999" height="370.0999999999999" fill="#fff" stroke="none"/>
<clipPath id="cib"><rect x="897.1" y="1277.9" width="522.1999999999999" height="365.0999999999999"/></clipPath>
<path d="M894.8,1419.0 L897.2,1423.1 L899.6,1422.8 L902.0,1421.3 L904.4,1422.6 L906.8,1424.4 L909.2,1430.0 L911.6,1428.5 L914.0,1421.9 L916.4,1420.6 L918.8,1423.8 L921.2,1416.3 L923.6,1412.1 L926.0,1414.0 L928.3,1407.3 L930.7,1410.5 L933.0,1406.3 L935.3,1410.8 L937.7,1407.8 L940.0,1402.0 L942.4,1403.1 L944.8,1392.0 L947.2,1386.4 L949.6,1382.8 L952.0,1383.0 L954.5,1382.7 L956.9,1384.4 L959.4,1381.5 L961.8,1379.0 L964.2,1380.5 L966.7,1381.0 L969.7,1361.7 L972.7,1340.0 L975.5,1325.2 L978.2,1307.0 L980.8,1326.0 L983.4,1340.0 L985.8,1376.0 L988.2,1405.0 L990.6,1416.0 L993.0,1419.9 L995.4,1433.0 L997.8,1443.2 L1000.2,1444.4 L1002.6,1453.9 L1005.0,1460.0 L1007.4,1459.5 L1009.8,1463.9 L1012.2,1459.2 L1014.6,1460.5 L1017.0,1461.2 L1019.4,1464.5 L1021.8,1462.0 L1024.2,1470.2 L1026.6,1468.1 L1029.0,1466.5 L1031.3,1468.1 L1033.7,1475.0 L1036.1,1471.1 L1038.5,1472.0 L1041.2,1464.6 L1043.9,1465.6 L1046.6,1459.3 L1049.3,1453.0 L1052.1,1467.2 L1054.9,1467.7 L1057.7,1481.0 L1060.1,1482.4 L1062.5,1487.5 L1064.8,1489.4 L1067.2,1491.8 L1069.6,1484.7 L1072.0,1491.0 L1074.4,1491.9 L1076.9,1493.2 L1079.3,1496.9 L1081.7,1507.7 L1084.1,1506.8 L1086.6,1513.3 L1089.0,1512.0 L1091.3,1505.5 L1093.7,1505.2 L1096.1,1495.7 L1098.4,1491.0 L1100.8,1480.0 L1103.2,1476.6 L1105.6,1469.7 L1108.0,1452.7 L1110.4,1448.0 L1112.8,1445.0 L1115.2,1441.2 L1117.6,1433.2 L1120.0,1430.7 L1122.4,1424.4 L1124.8,1424.0 L1127.2,1425.7 L1129.6,1430.9 L1132.0,1438.0 L1134.4,1448.6 L1136.8,1458.8 L1139.2,1463.9 L1141.6,1476.5 L1144.0,1472.1 L1146.4,1475.8 L1148.7,1479.8 L1151.1,1475.4 L1153.5,1479.0 L1155.8,1477.1 L1158.1,1476.0 L1160.4,1482.0 L1162.7,1479.5 L1165.0,1479.0 L1167.5,1472.2 L1169.9,1470.2 L1172.4,1470.8 L1174.8,1469.9 L1177.3,1467.0 L1179.8,1466.0 L1182.3,1458.1 L1184.8,1456.4 L1187.3,1459.4 L1189.8,1455.0 L1192.3,1457.1 L1194.8,1458.8 L1197.2,1462.1 L1199.7,1467.0 L1202.2,1475.9 L1204.6,1473.9 L1207.1,1480.9 L1209.5,1483.2 L1212.0,1489.0 L1214.5,1491.5 L1217.0,1499.3 L1219.5,1504.0 L1222.0,1501.0 L1224.5,1502.6 L1227.0,1509.0 L1229.5,1512.3 L1232.0,1508.0 L1234.4,1507.1 L1236.9,1517.0 L1239.4,1514.0 L1241.6,1514.1 L1243.9,1519.0 L1246.1,1515.8 L1248.3,1521.5 L1250.6,1518.2 L1252.8,1516.1 L1255.1,1515.5 L1257.3,1521.8 L1259.5,1523.6 L1261.8,1527.2 L1264.0,1524.0 L1266.3,1518.8 L1268.5,1523.0 L1270.8,1519.4 L1273.1,1519.7 L1275.4,1515.0 L1277.6,1515.3 L1279.9,1516.6 L1282.2,1519.5 L1284.5,1510.3 L1286.7,1513.0 L1289.0,1512.0 L1291.3,1514.8 L1293.5,1516.1 L1295.8,1508.2 L1298.1,1507.2 L1300.4,1515.1 L1302.6,1515.1 L1304.9,1509.9 L1307.2,1505.4 L1309.5,1513.8 L1311.7,1508.2 L1314.0,1509.0 L1316.4,1516.0 L1318.8,1516.2 L1321.2,1521.2 L1323.6,1517.6 L1326.0,1524.0 L1328.3,1525.7 L1330.7,1519.0 L1333.0,1519.6 L1335.3,1522.9 L1337.7,1521.6 L1340.0,1514.0 L1342.3,1513.2 L1344.7,1513.9 L1347.0,1514.0 L1349.3,1511.5 L1351.7,1507.8 L1354.0,1507.9 L1356.3,1511.5 L1358.7,1512.1 L1361.0,1507.0 L1363.3,1501.4 L1365.6,1505.6 L1367.9,1506.6 L1370.2,1498.4 L1372.5,1505.4 L1374.8,1497.2 L1377.0,1501.0 L1379.3,1499.5 L1381.6,1499.3 L1383.9,1495.1 L1386.2,1495.2 L1388.5,1495.0 L1390.7,1497.1 L1392.9,1496.8 L1395.2,1500.4 L1397.4,1499.5 L1399.6,1500.7 L1401.8,1497.8 L1404.0,1505.1 L1406.3,1505.0 L1408.5,1503.8 L1410.7,1510.3 L1412.9,1511.7 L1415.1,1509.8 L1417.4,1508.3 L1419.6,1512.5 L1421.8,1514.0" fill="none" stroke="#535353" stroke-width="6.6" stroke-linejoin="round" stroke-linecap="round" clip-path="url(#cib)"/>
<path d="M894.8,1525.6 L897.0,1522.5 L899.3,1522.4 L901.5,1524.3 L903.7,1521.6 L905.9,1523.9 L908.2,1524.1 L910.4,1520.5 L912.6,1524.5 L914.9,1520.3 L917.1,1524.7 L919.3,1524.8 L921.5,1522.6 L923.8,1519.0 L926.0,1522.0 L928.2,1521.5 L930.4,1520.0 L932.6,1523.6 L934.8,1517.2 L937.0,1521.9 L939.2,1522.3 L941.5,1519.9 L943.7,1520.0 L945.9,1514.9 L948.1,1520.1 L950.3,1516.0 L952.5,1518.8 L954.7,1515.0 L957.1,1512.3 L959.6,1501.3 L962.0,1498.0 L964.4,1499.6 L966.8,1500.1 L969.1,1493.4 L971.5,1496.0 L973.9,1498.9 L976.2,1505.8 L978.6,1505.5 L981.0,1512.0 L983.4,1514.9 L985.8,1510.4 L988.2,1514.3 L990.6,1509.4 L993.0,1512.0 L995.4,1512.0 L997.8,1516.9 L1000.2,1513.6 L1002.6,1515.9 L1005.0,1519.5 L1007.4,1520.1 L1009.8,1519.9 L1012.2,1522.8 L1014.6,1527.0 L1017.0,1524.7 L1019.3,1530.5 L1021.7,1528.8 L1024.1,1530.5 L1026.4,1525.4 L1028.8,1530.1 L1031.2,1525.4 L1033.5,1528.6 L1035.9,1529.5 L1038.3,1527.7 L1040.6,1531.5 L1043.0,1529.0 L1045.2,1530.4 L1047.5,1531.6 L1049.7,1534.8 L1051.9,1530.2 L1054.1,1537.5 L1056.3,1535.9 L1058.6,1535.2 L1060.8,1539.1 L1063.0,1536.3 L1065.2,1542.5 L1067.5,1540.6 L1069.7,1541.0 L1072.1,1539.3 L1074.5,1541.5 L1076.9,1538.5 L1079.3,1535.9 L1081.7,1539.3 L1084.0,1533.5 L1086.4,1538.4 L1088.8,1533.6 L1091.2,1535.7 L1093.6,1534.0 L1096.0,1536.2 L1098.4,1532.1 L1100.8,1531.4 L1103.2,1527.7 L1105.6,1524.2 L1108.0,1523.1 L1110.4,1522.7 L1112.8,1524.0 L1115.2,1526.8 L1117.6,1527.5 L1120.0,1530.1 L1122.4,1534.8 L1124.8,1531.4 L1127.2,1534.0 L1129.6,1539.1 L1132.0,1540.0 L1134.2,1536.1 L1136.5,1535.5 L1138.8,1537.6 L1141.0,1535.4 L1143.2,1536.8 L1145.5,1535.4 L1147.8,1537.5 L1150.0,1536.5 L1152.2,1536.8 L1154.5,1533.6 L1156.7,1536.3 L1158.9,1534.8 L1161.2,1532.0 L1163.4,1537.4 L1165.6,1532.0 L1167.9,1531.0 L1170.1,1530.2 L1172.3,1533.7 L1174.6,1535.0 L1176.8,1534.0 L1179.1,1530.9 L1181.3,1529.6 L1183.5,1527.4 L1185.8,1531.5 L1188.0,1530.6 L1190.2,1528.7 L1192.5,1530.4 L1194.7,1529.0 L1197.2,1531.1 L1199.7,1537.1 L1202.2,1538.2 L1204.7,1539.0 L1206.9,1537.6 L1209.1,1542.7 L1211.3,1536.8 L1213.6,1540.7 L1215.8,1540.2 L1218.0,1539.4 L1220.2,1538.4 L1222.4,1544.0 L1224.6,1538.9 L1226.8,1543.1 L1229.1,1546.3 L1231.3,1540.9 L1233.5,1541.7 L1235.7,1545.0 L1237.9,1544.7 L1240.1,1546.0 L1242.4,1547.6 L1244.6,1543.4 L1246.8,1544.8 L1249.0,1546.5 L1251.2,1545.0 L1253.4,1543.2 L1255.6,1549.2 L1257.8,1548.4 L1260.0,1547.8 L1262.2,1542.7 L1264.4,1548.7 L1266.6,1547.9 L1268.9,1545.9 L1271.1,1547.8 L1273.3,1545.7 L1275.5,1544.0 L1277.7,1543.1 L1279.9,1544.0 L1282.1,1542.5 L1284.3,1544.6 L1286.5,1547.5 L1288.7,1547.1 L1290.9,1548.1 L1293.1,1547.1 L1295.3,1543.9 L1297.5,1545.9 L1299.7,1545.0 L1301.9,1547.5 L1304.1,1545.6 L1306.4,1543.7 L1308.6,1546.3 L1310.8,1548.6 L1313.0,1543.2 L1315.2,1547.9 L1317.4,1541.6 L1319.6,1543.4 L1321.8,1543.1 L1324.0,1545.0 L1326.2,1546.6 L1328.4,1548.0 L1330.7,1546.4 L1332.9,1543.3 L1335.1,1547.2 L1337.3,1543.1 L1339.6,1542.3 L1341.8,1547.0 L1344.0,1544.9 L1346.2,1545.3 L1348.5,1544.9 L1350.7,1547.1 L1352.9,1543.3 L1355.1,1545.9 L1357.3,1544.7 L1359.6,1545.8 L1361.8,1542.6 L1364.0,1544.6 L1366.2,1543.3 L1368.5,1541.3 L1370.7,1540.5 L1372.9,1543.4 L1375.1,1539.3 L1377.3,1545.2 L1379.6,1539.6 L1381.8,1538.6 L1384.0,1539.1 L1386.2,1544.9 L1388.5,1540.6 L1390.7,1539.0 L1392.9,1538.1 L1395.1,1538.1 L1397.3,1542.6 L1399.6,1542.1 L1401.8,1542.4 L1404.0,1542.6 L1406.2,1537.7 L1408.5,1541.3 L1410.7,1539.6 L1412.9,1542.7 L1415.1,1542.6 L1417.4,1543.0 L1419.6,1537.0 L1421.8,1540.0" fill="none" stroke="#F44242" stroke-width="6" stroke-linejoin="round" stroke-linecap="round" clip-path="url(#cib)"/>
<path d="M894.8,1561.5 L897.2,1563.9 L899.6,1564.0 L902.0,1563.9 L904.4,1557.7 L906.8,1558.1 L909.1,1557.2 L911.5,1556.4 L913.9,1562.0 L916.3,1561.5 L918.7,1559.0 L921.1,1559.8 L923.5,1561.1 L925.9,1559.6 L928.4,1557.0 L930.8,1555.5 L933.2,1555.4 L935.6,1560.0 L938.0,1558.0 L940.4,1554.1 L942.8,1553.1 L945.1,1552.0 L947.5,1547.3 L949.9,1547.2 L952.2,1545.6 L954.6,1546.9 L957.0,1543.5 L959.4,1540.4 L961.9,1538.0 L964.3,1540.5 L966.7,1535.0 L969.0,1539.0 L971.4,1545.4 L973.7,1547.6 L976.0,1550.7 L978.4,1546.4 L980.8,1548.2 L983.2,1547.4 L985.6,1548.9 L988.0,1546.0 L990.4,1547.2 L992.9,1552.1 L995.3,1553.3 L997.7,1553.3 L1000.2,1560.3 L1002.6,1560.0 L1005.0,1558.9 L1007.4,1566.1 L1009.8,1563.3 L1012.2,1563.9 L1014.6,1567.2 L1017.0,1573.1 L1019.4,1576.6 L1021.8,1575.0 L1024.2,1568.4 L1026.6,1568.9 L1029.0,1565.9 L1031.4,1563.0 L1033.8,1567.0 L1036.2,1564.5 L1038.6,1568.7 L1041.0,1569.5 L1043.3,1574.9 L1045.7,1572.7 L1048.1,1579.5 L1050.5,1576.6 L1052.9,1578.0 L1055.3,1582.0 L1057.5,1583.0 L1059.7,1581.2 L1061.9,1577.9 L1064.1,1581.3 L1066.3,1576.9 L1068.5,1581.6 L1070.7,1580.5 L1072.9,1580.7 L1075.1,1579.2 L1077.3,1576.8 L1079.5,1576.7 L1081.7,1577.0 L1083.9,1575.0 L1086.1,1577.3 L1088.3,1570.3 L1090.5,1574.9 L1092.7,1567.4 L1094.9,1567.5 L1097.2,1566.7 L1099.4,1570.0 L1101.6,1565.9 L1103.8,1563.8 L1106.0,1566.2 L1108.2,1560.3 L1110.4,1561.0 L1112.8,1562.5 L1115.2,1564.8 L1117.6,1568.2 L1120.0,1569.9 L1122.4,1570.9 L1124.8,1570.6 L1127.2,1572.2 L1129.6,1572.7 L1132.0,1577.0 L1134.2,1579.5 L1136.5,1578.3 L1138.8,1578.9 L1141.0,1574.9 L1143.2,1576.9 L1145.5,1579.3 L1147.8,1578.0 L1150.0,1577.5 L1152.3,1573.8 L1154.5,1575.1 L1156.8,1577.1 L1159.1,1571.4 L1161.4,1570.1 L1163.7,1569.8 L1165.9,1571.7 L1168.2,1571.6 L1170.5,1565.6 L1172.8,1564.6 L1175.0,1564.2 L1177.3,1565.0 L1179.5,1564.7 L1181.8,1567.0 L1184.0,1565.3 L1186.3,1567.4 L1188.5,1567.3 L1190.7,1573.8 L1193.0,1572.9 L1195.2,1569.3 L1197.5,1576.4 L1199.7,1574.0 L1202.0,1572.0 L1204.2,1575.0 L1206.5,1580.2 L1208.7,1579.8 L1211.0,1580.2 L1213.2,1579.0 L1215.5,1578.2 L1217.7,1582.3 L1220.0,1579.4 L1222.2,1581.0 L1224.5,1584.0 L1226.7,1583.0 L1229.0,1580.3 L1231.2,1582.8 L1233.4,1585.4 L1235.7,1584.6 L1237.9,1583.0 L1240.2,1583.8 L1242.4,1582.4 L1244.6,1579.9 L1246.9,1583.1 L1249.1,1581.5 L1251.3,1583.7 L1253.6,1584.8 L1255.8,1581.2 L1258.0,1582.0 L1260.3,1583.1 L1262.5,1580.6 L1264.8,1579.0 L1267.0,1582.4 L1269.2,1583.4 L1271.5,1582.5 L1273.7,1581.8 L1275.9,1582.7 L1278.2,1581.3 L1280.4,1580.9 L1282.7,1579.3 L1284.9,1578.2 L1287.1,1580.3 L1289.4,1576.3 L1291.6,1579.0 L1293.8,1578.4 L1296.0,1581.0 L1298.2,1580.5 L1300.4,1579.9 L1302.6,1577.2 L1304.8,1578.4 L1307.0,1578.7 L1309.3,1579.9 L1311.5,1578.3 L1313.7,1580.3 L1315.9,1582.1 L1318.1,1576.7 L1320.3,1580.1 L1322.5,1581.0 L1324.7,1578.2 L1326.9,1578.9 L1329.1,1582.4 L1331.3,1575.7 L1333.5,1579.3 L1335.7,1576.6 L1337.9,1581.0 L1340.1,1582.2 L1342.4,1579.1 L1344.6,1576.1 L1346.8,1579.5 L1349.0,1579.3 L1351.2,1580.6 L1353.4,1579.1 L1355.6,1580.0 L1357.8,1581.4 L1360.0,1579.2 L1362.2,1578.4 L1364.4,1582.2 L1366.6,1576.9 L1368.8,1580.3 L1371.0,1578.2 L1373.3,1580.9 L1375.5,1576.3 L1377.7,1582.5 L1379.9,1578.0 L1382.1,1575.8 L1384.3,1577.4 L1386.5,1578.3 L1388.7,1575.5 L1390.9,1578.4 L1393.1,1578.4 L1395.3,1580.4 L1397.5,1577.9 L1399.7,1577.3 L1401.9,1577.0 L1404.1,1580.7 L1406.4,1582.2 L1408.6,1579.2 L1410.8,1577.0 L1413.0,1581.2 L1415.2,1578.2 L1417.4,1576.9 L1419.6,1576.3 L1421.8,1579.0" fill="none" stroke="#1767E0" stroke-width="6" stroke-linejoin="round" stroke-linecap="round" clip-path="url(#cib)"/>
<path d="M894.8,1610.6 L897.1,1612.5 L899.3,1612.6 L901.6,1611.2 L903.9,1609.8 L906.2,1610.4 L908.4,1607.8 L910.7,1613.0 L913.0,1608.4 L915.3,1610.4 L917.5,1611.5 L919.8,1611.4 L922.1,1608.7 L924.4,1607.3 L926.6,1609.0 L928.9,1605.8 L931.2,1610.8 L933.5,1607.2 L935.7,1610.7 L938.0,1608.0 L940.2,1605.7 L942.5,1605.9 L944.7,1604.3 L946.9,1605.0 L949.2,1602.6 L951.4,1600.7 L953.6,1605.2 L955.9,1601.4 L958.1,1600.5 L960.3,1600.3 L962.6,1601.0 L964.8,1600.0 L967.0,1600.8 L969.3,1600.4 L971.5,1598.6 L973.9,1594.0 L976.3,1594.5 L978.6,1590.4 L981.0,1581.0 L983.4,1583.0 L985.8,1577.0 L988.2,1584.7 L990.6,1588.5 L993.0,1588.7 L995.4,1596.0 L997.8,1602.4 L1000.2,1605.0 L1002.6,1608.0 L1005.0,1602.3 L1007.4,1600.0 L1009.8,1604.5 L1012.2,1599.0 L1014.6,1602.9 L1017.0,1602.7 L1019.4,1604.3 L1021.8,1607.4 L1024.2,1610.7 L1026.6,1615.4 L1028.8,1617.4 L1031.0,1614.3 L1033.3,1612.9 L1035.5,1618.3 L1037.7,1617.5 L1039.9,1613.0 L1042.2,1618.2 L1044.4,1616.2 L1046.6,1617.4 L1048.8,1616.6 L1051.0,1618.2 L1053.3,1617.5 L1055.5,1617.8 L1057.7,1615.4 L1060.1,1614.2 L1062.5,1618.7 L1064.9,1618.5 L1067.3,1621.0 L1069.7,1619.8 L1072.1,1623.9 L1074.5,1622.5 L1076.9,1621.4 L1079.3,1622.1 L1081.7,1625.0 L1083.9,1622.0 L1086.1,1624.2 L1088.3,1620.7 L1090.5,1623.2 L1092.7,1620.5 L1094.9,1622.6 L1097.2,1622.3 L1099.4,1622.2 L1101.6,1624.2 L1103.8,1617.6 L1106.0,1623.2 L1108.2,1620.2 L1110.4,1620.0 L1112.8,1619.3 L1115.2,1618.9 L1117.6,1619.1 L1120.0,1614.6 L1122.4,1613.8 L1124.8,1616.6 L1127.2,1609.1 L1129.6,1611.0 L1131.9,1613.7 L1134.1,1615.3 L1136.4,1612.6 L1138.7,1618.5 L1140.9,1620.6 L1143.2,1624.1 L1145.5,1621.4 L1147.7,1627.8 L1150.0,1626.0 L1152.2,1625.5 L1154.5,1624.8 L1156.7,1627.2 L1158.9,1620.4 L1161.2,1624.8 L1163.4,1623.6 L1165.6,1621.0 L1167.9,1624.2 L1170.1,1620.1 L1172.3,1620.3 L1174.6,1620.1 L1176.8,1621.3 L1179.1,1616.8 L1181.3,1617.8 L1183.5,1617.2 L1185.8,1617.6 L1188.0,1619.0 L1190.2,1614.6 L1192.5,1617.9 L1194.7,1615.0 L1197.0,1615.2 L1199.3,1616.7 L1201.6,1615.9 L1203.9,1618.4 L1206.2,1622.7 L1208.5,1621.2 L1210.7,1623.0 L1213.0,1620.6 L1215.3,1621.3 L1217.6,1622.0 L1219.9,1624.9 L1222.2,1626.1 L1224.5,1626.0 L1226.7,1628.2 L1228.9,1623.0 L1231.2,1628.1 L1233.4,1629.4 L1235.6,1627.1 L1237.8,1623.7 L1240.1,1625.7 L1242.3,1623.7 L1244.5,1625.2 L1246.7,1630.6 L1249.0,1628.5 L1251.2,1629.0 L1253.4,1630.1 L1255.6,1631.2 L1257.9,1629.2 L1260.1,1629.4 L1262.3,1629.6 L1264.5,1630.3 L1266.8,1629.7 L1269.0,1630.5 L1271.2,1627.2 L1273.4,1630.7 L1275.6,1629.3 L1277.9,1631.7 L1280.1,1627.1 L1282.3,1627.8 L1284.5,1626.9 L1286.8,1632.4 L1289.0,1633.6 L1291.2,1631.9 L1293.4,1630.0 L1295.7,1633.4 L1297.9,1633.3 L1300.1,1631.8 L1302.3,1629.8 L1304.6,1630.3 L1306.8,1631.3 L1309.0,1632.0 L1311.2,1630.5 L1313.4,1631.2 L1315.6,1632.5 L1317.8,1634.5 L1320.1,1628.0 L1322.3,1631.5 L1324.5,1627.5 L1326.7,1627.9 L1328.9,1632.7 L1331.1,1630.9 L1333.3,1633.2 L1335.5,1629.6 L1337.8,1626.3 L1340.0,1628.9 L1342.2,1630.2 L1344.4,1632.5 L1346.6,1632.6 L1348.8,1628.8 L1351.0,1628.2 L1353.2,1625.8 L1355.4,1629.5 L1357.7,1626.3 L1359.9,1625.7 L1362.1,1624.5 L1364.3,1624.3 L1366.5,1629.0 L1368.7,1624.8 L1370.9,1630.7 L1373.1,1624.2 L1375.4,1629.7 L1377.6,1624.2 L1379.8,1623.2 L1382.0,1628.1 L1384.2,1624.5 L1386.4,1627.8 L1388.6,1623.7 L1390.8,1622.6 L1393.0,1627.6 L1395.3,1627.0 L1397.5,1627.9 L1399.7,1626.8 L1401.9,1622.0 L1404.1,1625.8 L1406.3,1626.2 L1408.5,1624.2 L1410.7,1627.4 L1413.0,1622.4 L1415.2,1627.3 L1417.4,1625.4 L1419.6,1620.1 L1421.8,1623.5" fill="none" stroke="#2EAA66" stroke-width="6" stroke-linejoin="round" stroke-linecap="round" clip-path="url(#cib)"/>
<rect x="894.6" y="1275.4" width="527.1999999999999" height="370.0999999999999" fill="none" stroke="#000" stroke-width="5"/>
<rect x="892.3" y="1645.5" width="4.6" height="9" fill="#000"/>
<rect x="945.0" y="1645.5" width="4.6" height="3.5" fill="#000"/>
<rect x="997.7" y="1645.5" width="4.6" height="9" fill="#000"/>
<rect x="1050.5" y="1645.5" width="4.6" height="3.5" fill="#000"/>
<rect x="1103.2" y="1645.5" width="4.6" height="9" fill="#000"/>
<rect x="1155.9" y="1645.5" width="4.6" height="3.5" fill="#000"/>
<rect x="1208.6" y="1645.5" width="4.6" height="9" fill="#000"/>
<rect x="1261.3" y="1645.5" width="4.6" height="3.5" fill="#000"/>
<rect x="1314.1" y="1645.5" width="4.6" height="9" fill="#000"/>
<rect x="1366.8" y="1645.5" width="4.6" height="3.5" fill="#000"/>
<rect x="1419.5" y="1645.5" width="4.6" height="9" fill="#000"/>
<g filter="url(#nolcd)">
<text x="894.6" y="1694.5" font-size="43" text-anchor="middle" textLength="40.5" lengthAdjust="spacingAndGlyphs" class="t2">32</text>
<text x="1000.0" y="1694.5" font-size="43" text-anchor="middle" textLength="40.5" lengthAdjust="spacingAndGlyphs" class="t2">34</text>
<text x="1105.5" y="1694.5" font-size="43" text-anchor="middle" textLength="40.5" lengthAdjust="spacingAndGlyphs" class="t2">36</text>
<text x="1210.9" y="1694.5" font-size="43" text-anchor="middle" textLength="40.5" lengthAdjust="spacingAndGlyphs" class="t2">38</text>
<text x="1316.4" y="1694.5" font-size="43" text-anchor="middle" textLength="40.5" lengthAdjust="spacingAndGlyphs" class="t2">40</text>
<text x="1421.8" y="1694.5" font-size="43" text-anchor="middle" textLength="40.5" lengthAdjust="spacingAndGlyphs" class="t2">42</text>
</g>
<path d="M976.1,1464.5 L1018.7,1464.5 L997.4000000000001,1506.5 Z" fill="#8000FF"/>
<rect x="142.2" y="2268" width="1314.1" height="988.5" fill="none" stroke="#000" stroke-width="7.5"/>
<rect x="303.5" y="3256.5" width="6" height="15.5" fill="#000"/>
<rect x="632.0" y="3256.5" width="6" height="15.5" fill="#000"/>
<rect x="960.5" y="3256.5" width="6" height="15.5" fill="#000"/>
<rect x="1289.0" y="3256.5" width="6" height="15.5" fill="#000"/>
<rect x="467.7" y="3256.5" width="6" height="7.5" fill="#000"/>
<rect x="796.2" y="3256.5" width="6" height="7.5" fill="#000"/>
<rect x="1124.8" y="3256.5" width="6" height="7.5" fill="#000"/>
<rect x="138.45" y="3256.5" width="7.5" height="7.5" fill="#000"/>
<rect x="1452.55" y="3256.5" width="7.5" height="7.5" fill="#000"/>
<text x="306.5" y="3329.5" font-size="64" text-anchor="middle" class="t">10</text>
<text x="635.0" y="3329.5" font-size="64" text-anchor="middle" class="t">20</text>
<text x="963.5" y="3329.5" font-size="64" text-anchor="middle" class="t">30</text>
<text x="1292.0" y="3329.5" font-size="64" text-anchor="middle" class="t">40</text>
<text x="726.1" y="3357.1" font-size="64" text-anchor="start" textLength="142.5" lengthAdjust="spacingAndGlyphs" class="t">2θ (°)</text>
<text x="86.1" y="2946.3" font-size="64" transform="rotate(-90 86.1 2946.3)" textLength="367.9" lengthAdjust="spacingAndGlyphs" class="t">Intensity (a.u.)</text>
<clipPath id="cc"><rect x="145.95" y="2271.75" width="1306.6" height="981.0"/></clipPath>
<text x="168.2" y="2450.3" font-size="162" text-anchor="start">(c)</text>
<path d="M143.0,2946.0 L145.6,2947.2 L148.2,2948.4 L150.8,2949.6 L153.5,2950.8 L156.1,2951.9 L158.7,2953.1 L161.3,2954.1 L164.0,2955.0 L166.6,2955.9 L169.3,2956.8 L172.0,2957.7 L174.8,2958.5 L177.5,2959.2 L180.1,2959.6 L182.6,2959.8 L185.0,2959.5 L187.1,2958.9 L189.2,2958.1 L191.2,2957.0 L193.2,2955.7 L195.0,2954.2 L196.8,2952.6 L198.5,2950.8 L200.0,2949.0 L201.6,2946.7 L203.1,2944.1 L204.3,2941.4 L205.4,2938.5 L206.5,2935.3 L207.5,2932.1 L208.4,2928.6 L209.4,2925.0 L210.8,2919.2 L212.0,2912.8 L213.2,2905.9 L214.2,2898.8 L215.2,2891.4 L216.2,2884.1 L217.3,2876.9 L218.4,2870.0 L219.4,2863.1 L220.4,2855.4 L221.4,2847.4 L222.4,2839.6 L223.4,2832.5 L224.6,2826.7 L225.9,2822.7 L227.5,2821.0 L228.5,2821.2 L229.6,2822.0 L230.8,2823.4 L232.0,2825.2 L233.2,2827.2 L234.4,2829.5 L235.5,2831.8 L236.5,2834.0 L237.9,2837.7 L239.2,2842.1 L240.3,2846.9 L241.4,2851.9 L242.4,2857.0 L243.4,2861.9 L244.5,2866.3 L245.6,2870.0 L246.3,2871.9 L247.1,2873.5 L247.9,2875.0 L248.6,2876.4 L249.4,2877.8 L250.1,2879.3 L250.9,2881.0 L251.6,2883.0 L252.8,2887.8 L253.8,2893.8 L254.7,2900.5 L255.6,2907.6 L256.6,2914.6 L257.7,2921.1 L259.0,2926.7 L260.7,2931.0 L261.7,2932.6 L262.7,2933.9 L263.8,2935.0 L264.9,2935.9 L266.1,2936.8 L267.3,2937.7 L268.5,2938.8 L269.7,2940.0 L271.3,2942.0 L273.0,2944.3 L274.6,2946.7 L276.3,2949.2 L278.1,2951.7 L280.1,2954.0 L282.3,2956.2 L284.8,2958.0 L288.4,2959.9 L292.5,2961.6 L296.9,2963.1 L301.6,2964.3 L306.5,2965.3 L311.4,2966.1 L316.3,2966.6 L321.0,2967.0 L325.7,2966.9 L330.4,2966.3 L335.1,2965.4 L339.8,2964.3 L344.6,2963.2 L349.3,2962.4 L354.1,2961.9 L359.0,2962.0 L364.6,2963.0 L370.5,2964.8 L376.6,2967.2 L382.6,2969.8 L388.5,2972.3 L393.9,2974.5 L398.8,2976.0 L403.0,2976.6 L404.8,2976.6 L406.5,2976.5 L408.1,2976.3 L409.5,2976.0 L410.9,2975.6 L412.2,2975.0 L413.4,2974.1 L414.5,2973.0 L416.3,2969.7 L417.6,2964.8 L418.7,2958.7 L419.5,2952.3 L420.2,2946.2 L420.9,2941.0 L421.6,2937.3 L422.5,2936.0 L423.4,2937.6 L424.2,2941.9 L424.9,2947.9 L425.6,2955.0 L426.4,2962.2 L427.6,2968.8 L429.0,2973.9 L431.0,2976.6 L432.5,2977.2 L434.1,2977.3 L435.9,2977.1 L437.8,2976.6 L439.7,2975.8 L441.6,2974.7 L443.4,2973.4 L445.0,2972.0 L447.7,2967.7 L450.1,2961.0 L452.3,2952.9 L454.3,2944.2 L456.2,2935.9 L458.0,2928.8 L459.9,2923.9 L462.0,2922.0 L463.8,2923.2 L465.5,2926.7 L467.1,2931.6 L468.8,2937.6 L470.5,2943.9 L472.5,2950.0 L474.6,2955.2 L477.0,2959.0 L478.8,2960.9 L480.8,2962.5 L482.8,2963.8 L484.9,2965.0 L487.0,2966.0 L489.3,2966.8 L491.6,2967.5 L494.0,2968.0 L496.9,2968.4 L500.0,2968.4 L503.2,2968.3 L506.5,2967.9 L509.9,2967.3 L513.3,2966.6 L516.7,2965.8 L520.0,2965.0 L523.7,2963.9 L527.4,2962.4 L531.1,2960.8 L534.9,2959.0 L538.7,2957.2 L542.4,2955.6 L546.2,2954.1 L550.0,2953.0 L553.5,2952.2 L557.0,2951.5 L560.5,2951.0 L563.9,2950.6 L567.5,2950.3 L571.1,2950.2 L575.0,2950.0 L579.0,2950.0 L585.1,2950.4 L592.0,2951.5 L599.3,2953.0 L606.7,2954.6 L614.0,2955.9 L620.9,2956.6 L627.0,2956.4 L632.0,2955.0 L635.1,2952.7 L637.7,2949.3 L639.9,2945.2 L641.9,2940.8 L643.6,2936.7 L645.3,2933.2 L646.9,2930.8 L648.5,2930.0 L649.8,2930.7 L650.9,2932.6 L652.0,2935.2 L653.1,2938.1 L654.1,2941.0 L655.1,2943.6 L656.2,2945.3 L657.3,2946.0 L658.7,2944.9 L660.1,2942.1 L661.6,2938.1 L663.1,2933.5 L664.5,2929.0 L666.0,2925.0 L667.4,2922.1 L668.8,2921.0 L669.9,2921.6 L670.9,2923.1 L672.0,2925.3 L673.1,2927.9 L674.1,2930.4 L675.1,2932.6 L676.1,2934.1 L677.0,2934.5 L678.8,2930.9 L680.4,2921.9 L681.8,2909.5 L683.0,2895.3 L684.1,2881.2 L685.1,2868.9 L686.2,2860.3 L687.3,2857.0 L688.1,2859.3 L688.7,2865.4 L689.1,2874.1 L689.6,2884.1 L690.2,2894.2 L691.1,2903.1 L692.4,2909.7 L694.2,2912.6 L695.5,2912.6 L697.1,2911.9 L698.9,2910.6 L700.7,2908.9 L702.5,2906.8 L704.2,2904.5 L705.7,2902.2 L706.9,2900.0 L708.1,2897.0 L708.9,2893.6 L709.5,2889.9 L709.9,2886.0 L710.2,2881.9 L710.4,2877.9 L710.6,2873.9 L711.0,2870.0 L711.4,2866.3 L711.9,2862.6 L712.3,2858.9 L712.7,2855.3 L713.0,2851.6 L713.4,2847.8 L713.7,2844.0 L714.0,2840.0 L714.3,2835.4 L714.6,2830.8 L714.8,2826.1 L715.1,2821.3 L715.3,2816.3 L715.4,2811.2 L715.6,2805.7 L715.8,2800.0 L716.0,2791.1 L716.3,2781.5 L716.5,2771.4 L716.6,2760.8 L716.8,2749.8 L716.9,2738.7 L717.1,2727.4 L717.2,2716.0 L717.4,2702.5 L717.5,2688.7 L717.6,2674.5 L717.7,2660.1 L717.8,2645.4 L718.0,2630.5 L718.1,2615.3 L718.2,2600.0 L718.4,2582.1 L718.5,2563.6 L718.7,2544.7 L718.9,2525.5 L719.0,2506.3 L719.2,2487.2 L719.3,2468.4 L719.5,2450.0 L719.6,2432.6 L719.7,2414.3 L719.8,2395.8 L720.0,2377.6 L720.1,2360.4 L720.2,2344.7 L720.3,2331.0 L720.5,2320.0 L720.6,2316.1 L720.7,2312.2 L720.7,2308.5 L720.8,2305.1 L720.9,2302.2 L721.0,2300.0 L721.1,2298.5 L721.2,2298.0 L721.3,2298.5 L721.4,2300.0 L721.5,2302.2 L721.6,2305.1 L721.7,2308.5 L721.8,2312.2 L721.9,2316.1 L722.0,2320.0 L722.2,2331.0 L722.3,2344.7 L722.5,2360.4 L722.6,2377.6 L722.7,2395.8 L722.8,2414.3 L722.9,2432.6 L723.0,2450.0 L723.1,2468.4 L723.3,2487.2 L723.4,2506.3 L723.5,2525.5 L723.7,2544.7 L723.8,2563.6 L723.9,2582.1 L724.1,2600.0 L724.2,2615.3 L724.4,2630.5 L724.5,2645.4 L724.6,2660.1 L724.8,2674.5 L725.0,2688.7 L725.1,2702.5 L725.3,2716.0 L725.5,2727.4 L725.6,2738.7 L725.8,2749.8 L725.9,2760.8 L726.1,2771.4 L726.3,2781.5 L726.5,2791.1 L726.8,2800.0 L727.0,2805.7 L727.2,2811.2 L727.3,2816.3 L727.5,2821.3 L727.7,2826.1 L728.0,2830.8 L728.3,2835.4 L728.6,2840.0 L728.9,2844.0 L729.3,2847.8 L729.7,2851.5 L730.1,2855.2 L730.6,2858.9 L731.0,2862.5 L731.5,2866.2 L732.0,2870.0 L732.5,2873.9 L733.0,2877.9 L733.4,2881.8 L733.9,2885.8 L734.5,2889.8 L735.2,2893.8 L735.9,2897.9 L736.9,2902.0 L738.1,2906.9 L739.4,2912.1 L740.9,2917.5 L742.4,2922.9 L744.2,2928.0 L746.1,2932.9 L748.3,2937.3 L750.7,2941.0 L752.7,2943.4 L754.8,2945.6 L757.0,2947.6 L759.4,2949.4 L761.8,2951.0 L764.3,2952.3 L766.8,2953.3 L769.2,2954.0 L771.4,2954.3 L773.7,2954.2 L776.0,2953.8 L778.3,2953.2 L780.6,2952.5 L783.0,2951.9 L785.3,2951.3 L787.6,2951.0 L790.0,2951.0 L792.4,2951.4 L794.9,2951.8 L797.3,2952.3 L799.7,2952.6 L802.0,2952.6 L804.1,2952.1 L806.0,2951.0 L809.0,2945.7 L811.1,2936.5 L812.6,2925.0 L813.6,2912.5 L814.3,2900.3 L814.9,2889.9 L815.5,2882.7 L816.5,2880.0 L817.4,2882.7 L817.7,2890.1 L817.9,2900.6 L818.1,2913.0 L818.6,2926.0 L819.6,2938.2 L821.5,2948.3 L824.5,2955.0 L826.8,2957.3 L829.4,2959.2 L832.4,2960.7 L835.5,2961.7 L838.7,2962.5 L841.8,2962.9 L844.8,2963.1 L847.6,2963.0 L849.8,2962.8 L852.1,2962.4 L854.2,2961.9 L856.4,2961.1 L858.4,2960.1 L860.3,2958.7 L862.2,2957.1 L863.8,2955.0 L866.8,2946.9 L868.9,2934.1 L870.1,2918.5 L870.9,2901.8 L871.3,2885.7 L871.6,2872.0 L872.1,2862.6 L873.0,2859.0 L873.9,2863.0 L874.3,2873.7 L874.5,2888.8 L874.8,2906.4 L875.5,2924.4 L876.8,2940.5 L878.9,2952.7 L882.2,2959.0 L884.0,2959.6 L886.0,2959.5 L888.2,2958.7 L890.5,2957.5 L892.8,2956.2 L895.2,2954.8 L897.6,2953.7 L900.0,2953.0 L902.5,2952.7 L905.1,2952.6 L907.8,2952.7 L910.4,2952.9 L913.0,2953.0 L915.5,2952.9 L917.8,2952.6 L919.9,2952.0 L921.3,2951.1 L922.6,2949.8 L923.8,2948.3 L924.9,2946.7 L925.9,2945.2 L926.9,2944.0 L928.0,2943.2 L929.2,2943.0 L931.0,2944.1 L932.8,2946.6 L934.8,2950.0 L936.7,2953.9 L938.6,2957.8 L940.5,2961.1 L942.3,2963.3 L943.9,2964.0 L946.0,2961.5 L947.9,2955.6 L949.7,2947.4 L951.3,2938.1 L952.8,2928.8 L954.3,2920.8 L955.7,2915.1 L957.2,2913.0 L958.5,2915.2 L959.5,2921.1 L960.3,2929.4 L961.1,2939.0 L962.1,2948.8 L963.4,2957.7 L965.3,2964.5 L967.8,2968.0 L969.7,2968.4 L971.8,2967.8 L974.1,2966.6 L976.6,2964.9 L979.1,2963.2 L981.6,2961.6 L984.1,2960.4 L986.5,2960.0 L988.8,2960.3 L991.1,2961.0 L993.4,2962.0 L995.6,2963.2 L997.9,2964.5 L1000.3,2965.8 L1002.6,2967.0 L1005.0,2968.0 L1007.5,2968.8 L1009.9,2969.6 L1012.4,2970.4 L1014.9,2971.1 L1017.4,2971.7 L1020.1,2972.2 L1023.0,2972.7 L1026.0,2973.0 L1031.4,2973.3 L1038.0,2973.4 L1045.2,2973.3 L1052.6,2973.0 L1059.4,2972.6 L1065.3,2972.0 L1069.5,2971.3 L1071.6,2970.5 L1071.7,2970.4 L1071.7,2970.2 L1071.7,2970.1 L1071.6,2969.9 L1071.6,2969.8 L1071.5,2969.6 L1071.5,2969.4 L1071.6,2969.2 L1072.2,2968.3 L1073.3,2967.0 L1074.8,2965.4 L1076.5,2963.7 L1078.4,2962.2 L1080.3,2961.0 L1082.0,2960.2 L1083.6,2960.0 L1085.1,2960.7 L1086.5,2962.4 L1087.8,2964.6 L1089.0,2967.2 L1090.4,2969.9 L1091.9,2972.4 L1093.6,2974.6 L1095.6,2976.0 L1098.5,2976.8 L1102.0,2977.0 L1105.8,2976.6 L1109.8,2975.9 L1113.8,2975.2 L1117.8,2974.6 L1121.6,2974.3 L1125.0,2974.5 L1127.6,2975.2 L1130.0,2976.2 L1132.3,2977.4 L1134.5,2978.7 L1136.7,2979.9 L1138.9,2981.1 L1141.2,2982.0 L1143.5,2982.5 L1145.8,2982.7 L1148.2,2982.8 L1150.6,2982.7 L1153.0,2982.5 L1155.4,2982.1 L1157.7,2981.5 L1159.9,2980.9 L1162.0,2980.0 L1163.9,2978.8 L1165.7,2977.1 L1167.4,2975.1 L1169.1,2973.0 L1170.7,2971.1 L1172.2,2969.5 L1173.8,2968.4 L1175.4,2968.0 L1176.9,2968.5 L1178.3,2969.8 L1179.6,2971.7 L1180.9,2973.8 L1182.3,2976.1 L1183.8,2978.1 L1185.5,2979.9 L1187.5,2981.0 L1190.5,2981.6 L1194.0,2981.4 L1197.8,2980.7 L1201.9,2979.7 L1206.0,2978.6 L1210.1,2977.6 L1214.1,2977.0 L1217.8,2977.0 L1220.9,2977.5 L1223.7,2978.3 L1226.3,2979.4 L1228.9,2980.6 L1231.7,2981.9 L1234.8,2983.1 L1238.3,2984.2 L1242.5,2985.0 L1256.9,2986.7 L1276.4,2988.2 L1299.3,2989.5 L1323.8,2990.1 L1348.1,2989.9 L1370.4,2988.8 L1389.0,2986.3 L1402.0,2982.4 L1405.7,2979.9 L1408.7,2976.6 L1411.2,2972.8 L1413.3,2969.0 L1415.0,2965.4 L1416.7,2962.5 L1418.3,2960.6 L1420.0,2960.0 L1421.6,2961.0 L1422.8,2963.4 L1423.9,2966.8 L1425.0,2970.7 L1426.1,2974.8 L1427.3,2978.7 L1429.0,2981.9 L1431.0,2984.0 L1433.5,2985.1 L1436.3,2985.6 L1439.3,2985.7 L1442.6,2985.4 L1446.0,2985.0 L1449.4,2984.5 L1452.8,2984.2 L1456.0,2984.0" fill="none" stroke="#535353" stroke-width="6.5" stroke-linejoin="round" stroke-linecap="round" clip-path="url(#cc)"/>
<path d="M143.0,3055.0 L148.4,3055.7 L154.0,3056.6 L159.6,3057.6 L165.2,3058.6 L170.7,3059.4 L175.9,3059.8 L180.7,3059.7 L185.0,3059.0 L187.9,3058.1 L190.6,3057.0 L193.1,3055.7 L195.5,3054.1 L197.7,3052.3 L199.7,3050.3 L201.6,3048.0 L203.4,3045.5 L205.5,3041.1 L207.1,3035.7 L208.1,3029.8 L209.0,3023.3 L209.6,3016.6 L210.3,3009.8 L211.2,3003.2 L212.4,2997.0 L213.9,2990.4 L215.4,2983.0 L217.1,2975.2 L218.8,2967.7 L220.6,2960.8 L222.4,2955.3 L224.2,2951.5 L226.0,2950.0 L227.3,2950.6 L228.6,2952.4 L229.8,2955.1 L231.1,2958.5 L232.4,2962.3 L233.8,2966.1 L235.1,2969.8 L236.5,2973.0 L238.0,2975.9 L239.5,2978.8 L241.1,2981.7 L242.6,2984.6 L244.2,2987.6 L245.7,2990.6 L247.2,2993.7 L248.6,2997.0 L250.1,3001.2 L251.4,3005.9 L252.6,3010.8 L253.7,3015.8 L254.9,3020.6 L256.2,3025.3 L257.6,3029.4 L259.2,3033.0 L260.3,3035.0 L261.5,3036.8 L262.7,3038.4 L263.9,3040.0 L265.2,3041.4 L266.6,3042.8 L268.1,3044.1 L269.7,3045.5 L271.8,3047.2 L274.1,3048.9 L276.6,3050.6 L279.1,3052.2 L281.9,3053.7 L284.7,3055.1 L287.7,3056.4 L290.8,3057.5 L295.1,3058.7 L299.8,3059.6 L304.7,3060.3 L309.9,3060.8 L315.1,3061.2 L320.3,3061.4 L325.3,3061.6 L330.0,3061.6 L333.8,3061.5 L337.4,3061.1 L340.9,3060.6 L344.3,3060.0 L347.7,3059.4 L351.3,3059.0 L355.0,3058.7 L359.0,3058.6 L364.9,3059.2 L371.4,3060.6 L378.4,3062.4 L385.5,3064.2 L392.3,3065.9 L398.8,3066.9 L404.4,3067.1 L409.0,3066.0 L411.5,3064.1 L413.7,3061.2 L415.4,3057.8 L417.0,3054.1 L418.3,3050.6 L419.6,3047.7 L420.9,3045.7 L422.2,3045.0 L423.4,3045.9 L424.3,3048.1 L425.1,3051.1 L425.9,3054.7 L426.8,3058.3 L427.9,3061.7 L429.2,3064.4 L431.0,3066.0 L433.6,3066.4 L436.8,3065.7 L440.3,3064.2 L444.2,3062.3 L448.1,3060.3 L451.9,3058.5 L455.5,3057.3 L458.8,3057.0 L461.1,3057.5 L463.3,3058.4 L465.2,3059.6 L467.1,3061.0 L469.1,3062.5 L471.3,3063.9 L473.7,3065.1 L476.4,3066.0 L481.9,3066.8 L488.1,3067.1 L495.0,3067.0 L502.4,3066.6 L510.2,3066.0 L518.3,3065.4 L526.6,3064.8 L535.0,3064.5 L547.2,3064.3 L560.9,3064.2 L575.5,3064.2 L590.4,3064.1 L604.9,3064.0 L618.4,3063.6 L630.3,3063.0 L640.0,3062.0 L643.8,3061.4 L647.2,3060.6 L650.3,3059.8 L653.1,3058.9 L655.8,3058.1 L658.3,3057.3 L660.7,3056.6 L663.0,3056.0 L664.5,3055.8 L665.9,3055.7 L667.3,3055.6 L668.6,3055.6 L669.9,3055.5 L671.1,3055.3 L672.3,3055.0 L673.4,3054.4 L674.6,3053.3 L675.7,3051.8 L676.7,3049.9 L677.7,3047.9 L678.6,3046.1 L679.6,3044.5 L680.5,3043.4 L681.5,3043.0 L682.5,3043.4 L683.4,3044.5 L684.3,3046.2 L685.2,3048.1 L686.2,3050.0 L687.2,3051.8 L688.4,3053.2 L689.6,3054.0 L691.0,3054.3 L692.6,3054.4 L694.3,3054.2 L696.0,3053.8 L697.7,3053.1 L699.4,3052.3 L700.9,3051.2 L702.3,3050.0 L704.3,3047.1 L705.9,3043.3 L707.2,3038.7 L708.3,3033.6 L709.2,3028.2 L710.0,3022.6 L710.8,3017.1 L711.5,3012.0 L712.2,3006.9 L712.7,3001.6 L713.1,2996.4 L713.4,2991.1 L713.7,2985.8 L713.9,2980.5 L714.2,2975.2 L714.5,2970.0 L714.9,2964.5 L715.2,2958.3 L715.5,2951.8 L715.9,2945.5 L716.2,2939.9 L716.6,2935.2 L716.9,2932.1 L717.3,2931.0 L717.7,2932.1 L718.1,2935.1 L718.5,2939.6 L718.9,2945.2 L719.3,2951.5 L719.7,2958.0 L720.1,2964.3 L720.5,2970.0 L720.9,2976.5 L721.2,2983.5 L721.4,2990.8 L721.7,2998.1 L722.0,3005.3 L722.5,3012.1 L723.2,3018.4 L724.2,3024.0 L724.9,3027.2 L725.7,3030.1 L726.6,3032.9 L727.5,3035.5 L728.5,3038.0 L729.6,3040.4 L730.9,3042.7 L732.3,3045.0 L733.8,3047.3 L735.4,3049.7 L737.1,3051.9 L738.9,3054.1 L740.9,3056.2 L743.2,3058.0 L745.6,3059.6 L748.4,3061.0 L753.7,3062.6 L760.2,3063.8 L767.6,3064.4 L775.4,3064.7 L783.1,3064.4 L790.4,3063.7 L796.6,3062.6 L801.5,3061.0 L803.6,3059.6 L805.4,3057.8 L806.9,3055.6 L808.3,3053.4 L809.5,3051.3 L810.6,3049.5 L811.8,3048.4 L813.0,3048.0 L814.1,3048.6 L815.1,3049.9 L816.0,3051.8 L816.8,3054.0 L817.8,3056.4 L818.9,3058.6 L820.3,3060.6 L822.0,3062.0 L825.4,3063.4 L829.8,3064.5 L834.9,3065.3 L840.3,3065.6 L845.7,3065.6 L850.8,3065.2 L855.3,3064.3 L859.0,3063.0 L861.1,3061.4 L862.9,3059.2 L864.4,3056.6 L865.8,3053.8 L867.1,3051.2 L868.2,3049.0 L869.4,3047.5 L870.7,3047.0 L871.9,3047.7 L872.9,3049.3 L873.8,3051.7 L874.7,3054.5 L875.7,3057.4 L876.8,3060.2 L878.2,3062.5 L880.0,3064.0 L882.8,3065.0 L886.1,3065.5 L889.9,3065.5 L894.0,3065.2 L898.1,3064.6 L902.0,3063.8 L905.8,3062.9 L909.0,3062.0 L911.2,3061.1 L913.2,3060.0 L915.1,3058.6 L916.9,3057.2 L918.7,3056.0 L920.4,3054.9 L922.2,3054.2 L924.0,3054.0 L925.9,3054.5 L927.9,3055.6 L929.8,3057.1 L931.8,3058.9 L933.7,3060.7 L935.5,3062.2 L937.1,3063.4 L938.6,3064.0 L939.3,3064.1 L940.0,3064.1 L940.6,3064.0 L941.1,3063.8 L941.7,3063.6 L942.3,3063.3 L942.9,3062.9 L943.5,3062.6 L944.6,3061.6 L945.8,3060.1 L947.0,3058.4 L948.2,3056.6 L949.4,3054.8 L950.6,3053.4 L951.8,3052.4 L953.0,3052.0 L954.1,3052.4 L955.0,3053.5 L955.8,3055.1 L956.7,3057.0 L957.7,3059.0 L959.0,3061.0 L960.5,3062.7 L962.5,3064.0 L970.7,3066.1 L982.9,3067.2 L997.6,3067.4 L1013.8,3066.9 L1029.9,3065.9 L1044.9,3064.7 L1057.4,3063.3 L1066.0,3062.0 L1067.9,3061.5 L1069.5,3061.0 L1070.8,3060.3 L1071.9,3059.7 L1073.0,3059.1 L1074.1,3058.6 L1075.4,3058.2 L1077.0,3058.0 L1079.7,3058.2 L1082.5,3058.8 L1085.5,3059.9 L1088.7,3061.1 L1092.2,3062.5 L1096.2,3063.9 L1100.8,3065.1 L1106.0,3066.0 L1131.0,3068.1 L1168.1,3069.8 L1213.0,3070.9 L1261.2,3071.3 L1308.6,3071.2 L1350.7,3070.2 L1383.3,3068.5 L1402.0,3066.0 L1403.6,3065.4 L1404.9,3064.6 L1405.9,3063.8 L1406.8,3063.0 L1407.5,3062.2 L1408.2,3061.6 L1409.0,3061.2 L1410.0,3061.0 L1411.2,3061.2 L1412.4,3061.9 L1413.7,3062.8 L1414.9,3064.0 L1416.2,3065.2 L1417.7,3066.3 L1419.2,3067.3 L1421.0,3068.0 L1424.4,3068.7 L1428.3,3069.0 L1432.6,3069.0 L1437.2,3068.9 L1441.9,3068.6 L1446.8,3068.3 L1451.5,3068.1 L1456.0,3068.0" fill="none" stroke="#F44242" stroke-width="6.5" stroke-linejoin="round" stroke-linecap="round" clip-path="url(#cc)"/>
<path d="M143.0,3158.4 L149.6,3159.0 L156.7,3160.0 L163.8,3161.1 L170.9,3162.1 L177.7,3162.9 L184.0,3163.1 L189.5,3162.7 L194.0,3161.4 L196.3,3160.1 L198.3,3158.7 L200.0,3156.9 L201.5,3155.0 L202.8,3152.9 L204.0,3150.5 L205.2,3147.9 L206.4,3145.0 L208.4,3138.6 L209.9,3130.8 L211.0,3121.9 L211.9,3112.4 L212.6,3102.5 L213.4,3092.8 L214.3,3083.5 L215.4,3075.0 L216.5,3067.9 L217.5,3060.2 L218.6,3052.2 L219.7,3044.6 L220.9,3037.8 L222.2,3032.3 L223.6,3028.5 L225.1,3027.0 L226.4,3027.5 L227.7,3029.3 L229.2,3032.0 L230.7,3035.4 L232.2,3039.3 L233.7,3043.3 L235.1,3047.3 L236.5,3051.0 L238.1,3055.4 L239.8,3060.2 L241.3,3065.1 L242.9,3070.2 L244.4,3075.3 L245.8,3080.5 L247.2,3085.6 L248.6,3090.5 L249.8,3095.2 L250.9,3100.0 L251.9,3104.8 L252.9,3109.5 L253.9,3114.2 L255.0,3118.7 L256.3,3123.0 L257.7,3127.0 L258.9,3130.0 L260.2,3133.0 L261.5,3135.8 L262.9,3138.5 L264.4,3141.1 L266.0,3143.6 L267.7,3145.9 L269.7,3148.0 L271.8,3150.0 L274.1,3151.8 L276.6,3153.5 L279.2,3155.1 L281.9,3156.5 L284.7,3157.8 L287.7,3158.9 L290.8,3160.0 L295.1,3161.2 L299.8,3162.1 L304.8,3162.9 L309.9,3163.4 L315.1,3163.8 L320.3,3164.0 L325.3,3164.1 L330.0,3164.0 L333.8,3163.7 L337.4,3163.2 L340.9,3162.5 L344.3,3161.7 L347.8,3160.9 L351.3,3160.2 L355.0,3159.7 L359.0,3159.6 L364.9,3160.2 L371.4,3161.7 L378.4,3163.7 L385.5,3165.9 L392.3,3167.8 L398.8,3169.1 L404.4,3169.4 L409.0,3168.4 L411.6,3166.5 L413.7,3163.5 L415.5,3159.9 L417.0,3156.1 L418.4,3152.4 L419.6,3149.3 L420.9,3147.2 L422.2,3146.5 L423.4,3147.4 L424.3,3149.7 L425.1,3152.9 L425.9,3156.6 L426.7,3160.4 L427.8,3163.9 L429.2,3166.7 L431.0,3168.4 L433.6,3168.8 L436.8,3168.2 L440.3,3166.7 L444.2,3164.8 L448.1,3162.9 L451.9,3161.1 L455.5,3159.9 L458.8,3159.6 L461.1,3160.0 L463.1,3160.9 L464.9,3162.1 L466.6,3163.4 L468.5,3164.8 L470.7,3166.2 L473.3,3167.4 L476.4,3168.4 L489.8,3170.3 L508.7,3171.3 L531.5,3171.6 L556.3,3171.4 L581.3,3170.7 L604.8,3169.6 L625.0,3168.3 L640.0,3166.8 L644.7,3166.2 L648.9,3165.5 L652.6,3164.8 L656.0,3164.1 L659.2,3163.2 L662.1,3162.3 L664.9,3161.2 L667.7,3160.0 L669.8,3158.8 L671.7,3157.3 L673.5,3155.6 L675.2,3153.9 L676.9,3152.3 L678.4,3151.1 L680.0,3150.2 L681.5,3150.0 L682.8,3150.4 L683.9,3151.4 L685.0,3152.8 L686.1,3154.4 L687.1,3156.0 L688.2,3157.4 L689.4,3158.5 L690.7,3159.0 L692.3,3159.0 L694.1,3158.7 L696.0,3158.1 L697.9,3157.3 L699.8,3156.2 L701.6,3154.9 L703.2,3153.5 L704.6,3152.0 L706.0,3149.9 L707.0,3147.4 L707.9,3144.6 L708.5,3141.6 L709.0,3138.4 L709.5,3135.0 L709.9,3131.5 L710.4,3128.0 L711.1,3122.8 L711.6,3117.2 L712.0,3111.2 L712.3,3105.0 L712.6,3098.6 L712.8,3092.3 L713.1,3086.0 L713.5,3080.0 L713.9,3073.7 L714.3,3066.5 L714.7,3059.1 L715.2,3051.8 L715.6,3045.2 L716.0,3039.9 L716.4,3036.3 L716.8,3035.0 L717.2,3036.3 L717.5,3039.8 L717.8,3045.1 L718.2,3051.6 L718.5,3058.9 L718.8,3066.3 L719.1,3073.6 L719.5,3080.0 L719.8,3086.7 L719.9,3093.9 L719.9,3101.2 L720.0,3108.5 L720.3,3115.7 L720.8,3122.5 L721.6,3128.9 L723.0,3134.5 L724.3,3138.1 L725.7,3141.5 L727.3,3144.7 L729.1,3147.7 L730.9,3150.5 L732.9,3153.1 L734.9,3155.5 L736.9,3157.6 L738.4,3159.1 L739.9,3160.4 L741.4,3161.5 L743.0,3162.6 L744.6,3163.5 L746.4,3164.3 L748.5,3165.0 L750.7,3165.7 L755.7,3166.7 L761.9,3167.3 L769.0,3167.6 L776.4,3167.7 L783.8,3167.4 L790.7,3166.8 L796.8,3165.8 L801.5,3164.5 L803.5,3163.5 L805.2,3162.1 L806.7,3160.5 L808.1,3158.9 L809.3,3157.4 L810.5,3156.1 L811.7,3155.3 L813.0,3155.0 L814.1,3155.4 L815.1,3156.2 L816.1,3157.5 L817.0,3159.0 L818.0,3160.5 L819.1,3162.1 L820.4,3163.4 L822.0,3164.5 L825.5,3165.9 L829.8,3167.3 L834.8,3168.5 L840.2,3169.4 L845.6,3170.0 L850.7,3170.2 L855.3,3169.9 L859.0,3169.0 L861.2,3167.7 L863.1,3165.8 L864.8,3163.5 L866.4,3161.0 L867.8,3158.7 L869.1,3156.7 L870.5,3155.4 L871.8,3155.0 L872.9,3155.5 L873.8,3156.8 L874.6,3158.6 L875.4,3160.7 L876.3,3163.0 L877.3,3165.0 L878.5,3166.8 L880.0,3168.0 L882.7,3168.9 L886.1,3169.3 L889.8,3169.4 L893.9,3169.0 L898.0,3168.5 L902.0,3167.7 L905.7,3166.9 L909.0,3166.0 L911.2,3165.2 L913.2,3164.0 L915.1,3162.7 L916.9,3161.3 L918.7,3160.0 L920.4,3158.9 L922.2,3158.2 L924.0,3158.0 L925.9,3158.5 L927.7,3159.6 L929.6,3161.2 L931.4,3162.9 L933.2,3164.6 L935.0,3166.1 L936.8,3167.2 L938.6,3167.5 L940.3,3167.0 L942.1,3165.7 L943.8,3164.0 L945.5,3162.1 L947.2,3160.2 L948.8,3158.5 L950.4,3157.4 L952.0,3157.0 L953.3,3157.4 L954.4,3158.4 L955.4,3159.8 L956.4,3161.4 L957.5,3163.1 L958.8,3164.8 L960.4,3166.3 L962.5,3167.5 L970.9,3169.6 L983.1,3170.9 L997.9,3171.5 L1014.0,3171.5 L1030.2,3171.0 L1045.0,3170.1 L1057.4,3168.9 L1066.0,3167.5 L1067.9,3166.9 L1069.5,3166.1 L1070.8,3165.3 L1071.9,3164.4 L1073.0,3163.6 L1074.1,3162.9 L1075.4,3162.3 L1077.0,3162.0 L1079.8,3162.1 L1082.6,3162.7 L1085.7,3163.7 L1088.9,3165.0 L1092.6,3166.5 L1096.6,3167.9 L1101.0,3169.1 L1106.0,3170.0 L1122.0,3171.2 L1142.8,3171.6 L1167.0,3171.3 L1193.4,3170.5 L1220.7,3169.6 L1247.6,3168.8 L1272.8,3168.1 L1295.0,3168.0 L1310.7,3168.5 L1326.8,3169.4 L1342.8,3170.5 L1358.1,3171.7 L1372.3,3172.5 L1384.7,3172.9 L1394.8,3172.4 L1402.0,3171.0 L1403.6,3170.2 L1404.8,3169.2 L1405.8,3168.1 L1406.7,3166.9 L1407.4,3165.8 L1408.2,3164.9 L1409.0,3164.3 L1410.0,3164.0 L1411.2,3164.2 L1412.4,3165.0 L1413.6,3166.0 L1414.9,3167.3 L1416.2,3168.7 L1417.6,3170.0 L1419.2,3171.2 L1421.0,3172.0 L1424.4,3172.8 L1428.2,3173.1 L1432.6,3173.2 L1437.2,3173.0 L1441.9,3172.7 L1446.7,3172.4 L1451.5,3172.1 L1456.0,3172.0" fill="none" stroke="#1767E0" stroke-width="6.5" stroke-linejoin="round" stroke-linecap="round" clip-path="url(#cc)"/>
<path d="M143.0,3230.8 L149.6,3231.0 L156.6,3231.5 L163.8,3232.1 L170.9,3232.6 L177.7,3232.9 L183.9,3232.8 L189.4,3232.2 L194.0,3230.8 L196.2,3229.7 L198.2,3228.4 L199.9,3227.0 L201.4,3225.4 L202.7,3223.6 L204.0,3221.7 L205.2,3219.5 L206.4,3217.0 L208.3,3211.6 L209.8,3205.0 L211.0,3197.5 L211.9,3189.3 L212.6,3180.9 L213.4,3172.5 L214.3,3164.4 L215.4,3157.0 L216.5,3150.2 L217.6,3142.7 L218.6,3135.0 L219.7,3127.5 L220.9,3120.7 L222.2,3115.2 L223.6,3111.5 L225.1,3110.0 L226.4,3110.5 L227.7,3112.2 L229.2,3114.8 L230.7,3118.1 L232.2,3121.8 L233.7,3125.7 L235.1,3129.5 L236.5,3133.0 L238.1,3137.1 L239.7,3141.5 L241.3,3146.0 L242.8,3150.6 L244.3,3155.3 L245.8,3160.0 L247.2,3164.6 L248.6,3169.0 L249.8,3172.9 L250.9,3176.8 L251.9,3180.7 L253.0,3184.6 L254.0,3188.3 L255.1,3192.0 L256.3,3195.6 L257.7,3199.0 L259.0,3201.9 L260.2,3204.8 L261.5,3207.6 L262.9,3210.4 L264.4,3213.0 L266.0,3215.5 L267.7,3217.8 L269.7,3220.0 L271.8,3222.0 L274.1,3223.8 L276.6,3225.5 L279.2,3227.1 L281.9,3228.5 L284.7,3229.8 L287.7,3230.9 L290.8,3232.0 L295.1,3233.2 L299.8,3234.1 L304.8,3234.8 L309.9,3235.3 L315.1,3235.6 L320.3,3235.8 L325.3,3235.9 L330.0,3235.8 L333.8,3235.5 L337.4,3235.0 L340.9,3234.3 L344.3,3233.5 L347.7,3232.7 L351.3,3232.1 L355.0,3231.6 L359.0,3231.4 L364.9,3231.9 L371.4,3233.1 L378.4,3234.8 L385.5,3236.6 L392.5,3238.3 L398.9,3239.4 L404.5,3239.6 L409.0,3238.7 L411.2,3237.2 L413.0,3235.0 L414.6,3232.4 L415.9,3229.6 L417.2,3227.0 L418.3,3224.7 L419.5,3223.2 L420.8,3222.7 L422.1,3223.4 L423.2,3225.2 L424.2,3227.8 L425.3,3230.7 L426.4,3233.7 L427.7,3236.5 L429.2,3238.7 L431.0,3240.0 L433.7,3240.2 L436.9,3239.4 L440.5,3237.7 L444.3,3235.7 L448.1,3233.6 L451.9,3231.7 L455.5,3230.4 L458.8,3230.0 L461.1,3230.4 L463.0,3231.2 L464.8,3232.4 L466.6,3233.7 L468.5,3235.1 L470.7,3236.5 L473.3,3237.7 L476.4,3238.7 L489.8,3240.5 L508.7,3241.6 L531.5,3241.9 L556.3,3241.7 L581.3,3240.9 L604.8,3239.9 L625.0,3238.5 L640.0,3237.0 L644.7,3236.4 L648.9,3235.7 L652.7,3235.1 L656.2,3234.3 L659.3,3233.5 L662.2,3232.5 L665.0,3231.3 L667.7,3230.0 L669.7,3228.6 L671.5,3226.8 L673.2,3224.8 L674.7,3222.8 L676.2,3220.9 L677.6,3219.4 L679.0,3218.3 L680.4,3218.0 L681.6,3218.5 L682.8,3219.7 L683.8,3221.4 L684.9,3223.3 L685.9,3225.2 L687.0,3227.0 L688.3,3228.3 L689.6,3229.0 L691.3,3229.1 L693.2,3228.8 L695.2,3228.1 L697.3,3227.1 L699.4,3225.9 L701.4,3224.4 L703.1,3222.8 L704.6,3221.0 L706.3,3217.9 L707.5,3214.1 L708.3,3209.8 L708.9,3205.1 L709.3,3200.1 L709.6,3195.0 L710.0,3189.9 L710.4,3185.0 L710.9,3179.6 L711.3,3174.0 L711.7,3168.3 L711.9,3162.5 L712.2,3156.7 L712.4,3151.0 L712.7,3145.4 L713.0,3140.0 L713.3,3134.9 L713.6,3129.3 L714.0,3123.5 L714.3,3117.8 L714.7,3112.8 L715.0,3108.7 L715.4,3106.0 L715.7,3105.0 L716.0,3106.0 L716.4,3108.6 L716.7,3112.6 L717.1,3117.6 L717.5,3123.2 L717.8,3129.0 L718.2,3134.7 L718.5,3140.0 L718.8,3146.6 L718.9,3153.7 L719.0,3161.2 L719.1,3168.9 L719.3,3176.5 L719.8,3183.8 L720.6,3190.7 L721.9,3197.0 L723.2,3201.5 L724.8,3205.8 L726.5,3210.0 L728.4,3214.0 L730.4,3217.7 L732.5,3221.2 L734.7,3224.3 L736.9,3227.0 L738.4,3228.6 L739.9,3230.1 L741.4,3231.4 L742.9,3232.6 L744.6,3233.6 L746.4,3234.5 L748.4,3235.3 L750.7,3236.0 L755.7,3237.1 L762.0,3237.8 L769.2,3238.3 L776.7,3238.3 L784.1,3238.1 L791.1,3237.5 L797.0,3236.4 L801.5,3235.0 L803.2,3233.9 L804.6,3232.5 L805.8,3230.8 L806.8,3229.1 L807.8,3227.5 L808.7,3226.2 L809.6,3225.3 L810.7,3225.0 L811.8,3225.4 L812.8,3226.4 L813.7,3227.8 L814.7,3229.6 L815.7,3231.4 L816.9,3233.2 L818.3,3234.8 L820.0,3236.0 L823.6,3237.5 L828.3,3238.8 L833.6,3239.8 L839.3,3240.5 L845.0,3240.9 L850.4,3240.9 L855.1,3240.5 L859.0,3239.5 L861.0,3238.4 L862.7,3236.7 L864.3,3234.7 L865.7,3232.6 L867.0,3230.6 L868.2,3229.0 L869.4,3227.8 L870.7,3227.5 L871.9,3228.1 L872.9,3229.4 L873.9,3231.2 L874.8,3233.4 L875.8,3235.6 L877.0,3237.7 L878.4,3239.4 L880.0,3240.6 L882.8,3241.4 L886.2,3241.5 L890.0,3241.3 L894.1,3240.7 L898.2,3239.8 L902.2,3238.8 L905.8,3237.7 L909.0,3236.7 L911.0,3235.8 L912.9,3234.7 L914.6,3233.4 L916.2,3232.1 L917.8,3230.9 L919.4,3229.9 L921.0,3229.2 L922.6,3229.0 L924.3,3229.4 L925.9,3230.4 L927.6,3231.8 L929.2,3233.4 L930.9,3235.0 L932.5,3236.4 L934.2,3237.5 L936.0,3238.0 L937.9,3237.8 L939.9,3237.0 L942.0,3235.9 L944.1,3234.5 L946.2,3233.2 L948.2,3232.0 L950.2,3231.2 L952.0,3231.0 L953.4,3231.3 L954.5,3232.0 L955.5,3232.9 L956.6,3234.0 L957.7,3235.1 L959.0,3236.3 L960.6,3237.2 L962.5,3238.0 L970.9,3239.3 L982.5,3239.6 L996.6,3239.2 L1012.4,3238.3 L1029.0,3237.2 L1045.9,3236.1 L1062.1,3235.3 L1077.0,3235.0 L1090.1,3235.2 L1103.0,3235.7 L1115.8,3236.3 L1128.5,3236.9 L1141.2,3237.6 L1154.0,3238.2 L1166.9,3238.7 L1180.0,3239.0 L1194.1,3239.0 L1208.4,3238.8 L1222.8,3238.4 L1237.4,3238.0 L1251.9,3237.6 L1266.4,3237.2 L1280.8,3237.0 L1295.0,3237.0 L1309.4,3237.5 L1325.0,3238.6 L1341.1,3239.9 L1356.8,3241.2 L1371.5,3242.3 L1384.4,3242.8 L1394.8,3242.4 L1402.0,3241.0 L1403.4,3240.2 L1404.5,3239.2 L1405.4,3238.1 L1406.1,3237.0 L1406.7,3235.9 L1407.3,3235.0 L1408.1,3234.3 L1409.0,3234.0 L1410.3,3234.2 L1411.5,3234.9 L1412.9,3236.1 L1414.2,3237.5 L1415.7,3238.9 L1417.3,3240.3 L1419.1,3241.5 L1421.0,3242.4 L1424.4,3243.2 L1428.3,3243.5 L1432.7,3243.6 L1437.3,3243.4 L1442.0,3243.1 L1446.8,3242.8 L1451.5,3242.5 L1456.0,3242.4" fill="none" stroke="#2EAA66" stroke-width="6.5" stroke-linejoin="round" stroke-linecap="round" clip-path="url(#cc)"/>
<text x="791.1" y="2469.0" font-size="64" transform="rotate(-90 791.1 2469.0)" textLength="137.1" lengthAdjust="spacingAndGlyphs" class="t">(302)</text>
<text x="826.9" y="2871.8" font-size="64" transform="rotate(-90 826.9 2871.8)" textLength="138.3" lengthAdjust="spacingAndGlyphs" class="t">(304)</text>
<text x="447.3" y="2910.4" font-size="64" transform="rotate(-90 447.3 2910.4)" textLength="137.6" lengthAdjust="spacingAndGlyphs" class="t">(004)</text>
<text x="1211.7" y="2949.4" font-size="64" text-anchor="start" textLength="185.9" lengthAdjust="spacingAndGlyphs" class="t">Beta-Si</text>
<text x="1135.0" y="3047.4" font-size="64" text-anchor="start" textLength="267.5" lengthAdjust="spacingAndGlyphs" class="t">Pd/Beta-Si</text>
<text x="921.9" y="3138" font-size="64" text-anchor="start" textLength="510.5" lengthAdjust="spacingAndGlyphs" class="t">Pd/Beta-Si-750HTA</text>
<text x="921.9" y="3228.6" font-size="64" text-anchor="start" textLength="509.1" lengthAdjust="spacingAndGlyphs" class="t">Pd/Beta-Si-800HTA</text>
<path d="M1238,2322.6 L1280.7,2322.6 L1259.35,2362.5 Z" fill="#8000FF"/>
<text x="1300.0" y="2361.5" font-size="64" text-anchor="start" textLength="112.9" lengthAdjust="spacingAndGlyphs" class="t">PdO</text>
<path d="M1256.15,2401.4 L1274.3,2423.75 L1256.15,2446.1 L1238,2423.75 Z" fill="#F0506E"/>
<text x="1305.3" y="2457.3" font-size="64" text-anchor="start" textLength="66.4" lengthAdjust="spacingAndGlyphs" class="t">Pd</text>
<rect x="898.3" y="2476" width="528.8" height="371.0999999999999" fill="#fff" stroke="none"/>
<clipPath id="cic"><rect x="900.8" y="2478.5" width="523.8" height="366.0999999999999"/></clipPath>
<path d="M898.3,2638.0 L900.6,2630.3 L902.9,2633.8 L905.1,2632.7 L907.4,2622.5 L909.7,2621.9 L912.0,2621.0 L914.4,2620.9 L916.8,2612.9 L919.2,2617.4 L921.6,2611.3 L924.0,2609.0 L926.3,2615.9 L928.7,2630.3 L931.0,2643.0 L933.5,2636.5 L936.0,2627.9 L938.5,2623.0 L941.0,2614.0 L943.3,2611.3 L945.7,2618.6 L948.0,2615.1 L950.3,2618.8 L952.7,2619.5 L955.0,2619.0 L957.5,2622.9 L960.0,2627.4 L962.5,2636.1 L965.0,2638.0 L967.4,2637.7 L969.8,2631.3 L972.1,2624.4 L974.5,2619.0 L976.8,2597.9 L979.0,2581.0 L981.3,2561.1 L983.7,2554.7 L986.0,2534.5 L988.5,2551.3 L991.0,2564.0 L993.5,2597.3 L996.0,2624.0 L998.3,2631.0 L1000.7,2642.4 L1003.0,2650.0 L1005.4,2658.8 L1007.9,2661.3 L1010.3,2663.0 L1012.7,2664.1 L1015.2,2669.3 L1017.6,2674.0 L1020.0,2679.1 L1022.4,2675.3 L1024.8,2679.6 L1027.2,2680.0 L1029.5,2684.2 L1031.9,2684.6 L1034.3,2680.6 L1036.7,2684.0 L1039.0,2677.1 L1041.3,2677.9 L1043.7,2677.6 L1046.0,2676.5 L1048.9,2666.2 L1051.8,2657.3 L1054.7,2643.0 L1057.4,2657.6 L1060.1,2659.9 L1062.8,2678.6 L1065.5,2686.0 L1067.9,2692.2 L1070.2,2695.8 L1072.6,2696.0 L1074.9,2696.1 L1077.3,2704.9 L1079.6,2707.6 L1082.0,2707.6 L1084.4,2703.8 L1086.9,2700.5 L1089.3,2689.3 L1091.7,2681.1 L1094.2,2680.1 L1096.6,2674.0 L1098.9,2681.7 L1101.3,2680.5 L1103.7,2690.8 L1106.0,2693.0 L1108.4,2693.1 L1110.8,2681.9 L1113.2,2681.5 L1115.6,2678.0 L1118.0,2672.0 L1120.5,2659.7 L1122.9,2645.1 L1125.3,2633.5 L1127.8,2624.0 L1130.2,2620.8 L1132.6,2615.6 L1135.0,2607.0 L1137.3,2616.3 L1139.7,2622.2 L1142.0,2636.0 L1144.4,2654.0 L1146.8,2668.5 L1149.3,2678.0 L1151.7,2695.6 L1154.0,2695.5 L1156.2,2697.7 L1158.5,2696.7 L1160.7,2692.1 L1163.0,2691.0 L1165.3,2691.3 L1167.7,2692.9 L1170.0,2689.4 L1172.3,2689.9 L1174.7,2690.3 L1177.0,2694.0 L1179.3,2694.1 L1181.5,2688.8 L1183.8,2688.9 L1186.1,2685.4 L1188.3,2684.7 L1190.6,2679.1 L1192.9,2676.1 L1195.2,2683.8 L1197.4,2675.6 L1199.7,2675.0 L1202.2,2673.5 L1204.6,2681.2 L1207.1,2685.2 L1209.6,2681.3 L1212.1,2688.1 L1214.5,2688.0 L1217.0,2692.0 L1219.5,2694.2 L1222.0,2691.2 L1224.5,2693.3 L1227.0,2704.9 L1229.5,2702.0 L1232.0,2711.2 L1234.5,2712.9 L1236.9,2719.2 L1239.4,2724.0 L1241.8,2721.2 L1244.3,2726.0 L1246.7,2722.1 L1249.1,2726.9 L1251.6,2724.7 L1254.0,2721.6 L1256.6,2726.8 L1259.2,2730.2 L1261.8,2725.1 L1264.4,2725.0 L1267.0,2731.6 L1269.5,2723.7 L1272.0,2718.6 L1274.5,2712.7 L1277.0,2712.0 L1279.2,2708.1 L1281.5,2713.7 L1283.8,2717.5 L1286.0,2713.9 L1288.2,2719.4 L1290.5,2719.6 L1292.8,2711.7 L1295.0,2717.6 L1297.2,2716.2 L1299.5,2714.0 L1301.8,2723.0 L1304.0,2719.0 L1306.3,2716.9 L1308.6,2720.4 L1310.9,2721.5 L1313.1,2725.0 L1315.4,2722.5 L1317.7,2720.1 L1320.0,2721.0 L1322.3,2718.5 L1324.6,2726.9 L1326.9,2727.5 L1329.1,2720.1 L1331.4,2718.7 L1333.7,2721.2 L1336.0,2724.0 L1338.2,2721.3 L1340.5,2725.5 L1342.8,2724.3 L1345.0,2722.4 L1347.2,2713.2 L1349.5,2719.4 L1351.8,2717.3 L1354.0,2714.0 L1356.4,2717.6 L1358.9,2723.1 L1361.3,2715.9 L1363.7,2718.8 L1366.2,2727.0 L1368.6,2726.6 L1371.1,2728.1 L1373.6,2722.5 L1376.0,2715.8 L1378.5,2715.8 L1381.0,2714.5 L1383.5,2709.0 L1385.9,2706.3 L1388.3,2709.8 L1390.8,2710.4 L1393.2,2710.3 L1395.6,2715.1 L1398.0,2716.6 L1400.2,2713.2 L1402.5,2713.7 L1404.7,2712.7 L1406.9,2717.9 L1409.2,2711.1 L1411.4,2718.0 L1413.6,2712.7 L1415.8,2711.0 L1418.1,2719.8 L1420.3,2712.6 L1422.5,2719.6 L1424.8,2718.8 L1427.0,2715.0" fill="none" stroke="#535353" stroke-width="6.6" stroke-linejoin="round" stroke-linecap="round" clip-path="url(#cic)"/>
<path d="M898.3,2729.0 L900.7,2731.3 L903.0,2725.5 L905.4,2727.2 L907.7,2724.3 L910.1,2729.8 L912.5,2728.7 L914.8,2726.7 L917.2,2725.0 L919.6,2723.7 L921.9,2726.7 L924.3,2723.8 L926.6,2724.4 L929.0,2723.0 L931.2,2720.2 L933.4,2720.5 L935.6,2719.0 L937.8,2723.5 L940.0,2722.1 L942.2,2718.9 L944.5,2723.8 L946.7,2719.2 L948.9,2720.0 L951.1,2717.9 L953.3,2718.5 L955.5,2722.3 L957.7,2719.6 L960.1,2713.5 L962.5,2707.4 L964.9,2704.8 L967.3,2700.0 L969.7,2693.4 L972.1,2692.2 L974.5,2684.0 L976.9,2689.1 L979.2,2703.2 L981.6,2707.6 L984.0,2704.4 L986.4,2710.4 L988.8,2708.8 L991.2,2705.5 L993.6,2707.4 L996.0,2707.6 L998.4,2708.1 L1000.8,2710.0 L1003.2,2711.6 L1005.6,2714.9 L1008.0,2721.4 L1010.4,2723.5 L1012.8,2722.0 L1015.2,2726.0 L1017.6,2721.0 L1020.0,2723.4 L1022.4,2728.7 L1024.8,2723.6 L1027.1,2729.4 L1029.5,2727.2 L1031.9,2733.1 L1034.3,2727.2 L1036.7,2731.6 L1038.9,2732.2 L1041.1,2727.3 L1043.3,2724.2 L1045.6,2721.6 L1047.8,2726.0 L1050.0,2722.0 L1052.2,2725.6 L1054.4,2726.6 L1056.6,2731.8 L1058.9,2738.7 L1061.1,2737.1 L1063.3,2743.1 L1065.5,2746.0 L1067.9,2742.8 L1070.3,2742.4 L1072.7,2746.1 L1075.1,2745.0 L1077.5,2740.7 L1079.9,2739.2 L1082.3,2738.7 L1084.7,2741.0 L1087.1,2741.5 L1089.5,2740.4 L1091.9,2738.5 L1094.2,2737.7 L1096.6,2740.4 L1099.0,2740.8 L1101.4,2741.2 L1103.8,2738.7 L1106.2,2736.4 L1108.6,2730.8 L1111.0,2727.0 L1113.4,2728.9 L1115.8,2724.4 L1118.2,2726.1 L1120.6,2730.7 L1123.0,2728.3 L1125.4,2736.1 L1127.8,2735.1 L1130.2,2741.1 L1132.6,2741.0 L1135.1,2744.1 L1137.6,2741.8 L1140.1,2738.8 L1142.5,2745.7 L1145.0,2743.0 L1147.5,2746.2 L1150.0,2744.0 L1152.3,2741.5 L1154.6,2740.1 L1157.0,2744.0 L1159.3,2739.8 L1161.6,2737.6 L1163.9,2738.3 L1166.2,2739.1 L1168.6,2734.0 L1170.9,2736.9 L1173.2,2735.6 L1175.5,2735.3 L1177.8,2731.7 L1180.2,2735.1 L1182.5,2735.1 L1184.8,2732.0 L1187.1,2735.3 L1189.3,2732.0 L1191.6,2735.4 L1193.8,2733.7 L1196.1,2737.0 L1198.3,2732.7 L1200.6,2739.1 L1202.8,2740.4 L1205.1,2737.7 L1207.3,2738.5 L1209.6,2739.0 L1211.9,2740.2 L1214.1,2741.3 L1216.4,2738.5 L1218.7,2746.4 L1220.9,2742.0 L1223.2,2742.7 L1225.4,2743.1 L1227.7,2745.2 L1230.0,2750.3 L1232.2,2745.6 L1234.5,2750.0 L1236.7,2747.1 L1238.9,2751.5 L1241.2,2747.9 L1243.4,2746.7 L1245.6,2751.0 L1247.8,2750.8 L1250.1,2750.5 L1252.3,2751.8 L1254.5,2747.6 L1256.7,2753.1 L1259.0,2752.1 L1261.2,2747.3 L1263.4,2747.9 L1265.6,2750.6 L1267.9,2750.7 L1270.1,2749.2 L1272.3,2748.1 L1274.5,2750.2 L1276.8,2748.3 L1279.0,2751.6 L1281.2,2753.6 L1283.4,2748.5 L1285.7,2751.6 L1287.9,2752.9 L1290.1,2748.8 L1292.3,2753.6 L1294.6,2754.5 L1296.8,2750.6 L1299.0,2751.4 L1301.3,2750.7 L1303.6,2753.6 L1305.8,2751.3 L1308.1,2750.2 L1310.4,2754.1 L1312.7,2752.8 L1315.0,2749.5 L1317.2,2748.7 L1319.5,2749.3 L1321.8,2749.9 L1324.1,2753.8 L1326.3,2752.4 L1328.6,2753.1 L1330.9,2752.3 L1333.2,2752.4 L1335.5,2746.6 L1337.7,2749.8 L1340.0,2752.9 L1342.3,2752.6 L1344.6,2747.6 L1346.9,2748.7 L1349.1,2750.2 L1351.4,2748.1 L1353.7,2749.0 L1355.9,2749.0 L1358.1,2745.5 L1360.4,2747.9 L1362.6,2748.3 L1364.8,2744.6 L1367.0,2745.3 L1369.2,2751.0 L1371.5,2749.5 L1373.7,2750.4 L1375.9,2748.1 L1378.1,2749.1 L1380.4,2749.5 L1382.6,2749.3 L1384.8,2743.0 L1387.0,2747.2 L1389.2,2744.3 L1391.5,2747.0 L1393.7,2743.9 L1395.9,2745.7 L1398.1,2748.2 L1400.3,2745.9 L1402.6,2743.0 L1404.8,2744.8 L1407.0,2743.9 L1409.2,2747.5 L1411.5,2742.5 L1413.7,2742.4 L1415.9,2744.7 L1418.1,2740.7 L1420.3,2744.0 L1422.6,2746.4 L1424.8,2743.0 L1427.0,2742.7" fill="none" stroke="#F44242" stroke-width="6" stroke-linejoin="round" stroke-linecap="round" clip-path="url(#cic)"/>
<path d="M898.3,2772.0 L900.7,2770.2 L903.0,2771.5 L905.4,2771.8 L907.7,2768.9 L910.1,2768.5 L912.5,2768.4 L914.8,2769.4 L917.2,2770.1 L919.6,2769.1 L921.9,2768.6 L924.3,2767.3 L926.6,2770.5 L929.0,2770.0 L931.2,2771.9 L933.4,2769.7 L935.6,2768.9 L937.9,2769.0 L940.1,2765.2 L942.3,2768.4 L944.5,2766.1 L946.7,2766.2 L948.9,2766.1 L951.1,2764.6 L953.4,2762.9 L955.6,2761.9 L957.8,2761.2 L960.0,2762.7 L962.2,2759.4 L964.5,2755.1 L966.7,2753.2 L969.0,2745.6 L971.2,2744.7 L973.5,2745.0 L975.7,2739.0 L978.4,2742.4 L981.0,2749.9 L983.7,2754.7 L986.4,2760.0 L988.8,2756.1 L991.2,2758.7 L993.6,2751.3 L996.0,2752.4 L998.4,2748.0 L1000.8,2749.2 L1003.2,2752.2 L1005.6,2761.7 L1008.0,2762.2 L1010.4,2763.2 L1012.8,2770.0 L1015.2,2771.2 L1017.5,2773.6 L1019.9,2777.7 L1022.3,2775.2 L1024.6,2778.0 L1027.0,2782.0 L1029.3,2784.1 L1031.6,2781.3 L1033.9,2775.9 L1036.2,2776.0 L1038.5,2774.9 L1040.8,2776.1 L1043.1,2774.4 L1045.4,2774.9 L1047.7,2773.5 L1050.0,2770.0 L1052.2,2772.1 L1054.4,2775.7 L1056.6,2777.8 L1058.9,2779.9 L1061.1,2779.8 L1063.3,2784.1 L1065.5,2784.0 L1067.7,2785.4 L1069.9,2786.8 L1072.2,2781.1 L1074.4,2786.4 L1076.6,2780.1 L1078.8,2785.5 L1081.0,2784.1 L1083.3,2783.4 L1085.5,2786.7 L1087.7,2783.8 L1089.9,2782.6 L1092.2,2785.2 L1094.4,2785.8 L1096.6,2783.0 L1099.0,2782.1 L1101.4,2778.7 L1103.8,2777.6 L1106.2,2775.9 L1108.6,2776.1 L1111.0,2771.3 L1113.4,2770.3 L1115.8,2769.8 L1118.2,2766.9 L1120.6,2766.0 L1123.0,2767.4 L1125.4,2773.4 L1127.8,2776.5 L1130.2,2776.7 L1132.6,2778.9 L1135.0,2782.0 L1137.5,2780.0 L1140.0,2781.2 L1142.5,2780.3 L1145.0,2783.7 L1147.5,2784.0 L1150.0,2783.7 L1152.3,2780.0 L1154.6,2785.2 L1157.0,2780.2 L1159.3,2783.2 L1161.6,2782.4 L1163.9,2782.5 L1166.2,2776.3 L1168.6,2777.2 L1170.9,2779.9 L1173.2,2772.7 L1175.5,2772.2 L1177.8,2775.2 L1180.2,2774.0 L1182.5,2776.3 L1184.8,2772.5 L1187.1,2775.2 L1189.3,2774.2 L1191.6,2778.2 L1193.9,2775.5 L1196.1,2776.2 L1198.4,2778.1 L1200.7,2776.7 L1202.9,2777.1 L1205.2,2779.6 L1207.5,2778.5 L1209.7,2783.5 L1212.0,2781.0 L1214.2,2783.3 L1216.4,2783.2 L1218.7,2781.1 L1220.9,2784.1 L1223.1,2785.3 L1225.3,2787.4 L1227.6,2788.5 L1229.8,2791.7 L1232.0,2790.0 L1234.2,2793.2 L1236.5,2789.6 L1238.7,2789.2 L1240.9,2790.4 L1243.2,2792.9 L1245.4,2788.1 L1247.6,2789.3 L1249.9,2791.2 L1252.1,2786.4 L1254.3,2787.4 L1256.6,2792.0 L1258.8,2790.7 L1261.0,2788.4 L1263.3,2785.3 L1265.5,2790.8 L1267.7,2789.2 L1270.0,2790.0 L1272.2,2791.1 L1274.4,2790.3 L1276.7,2786.8 L1278.9,2784.7 L1281.1,2785.6 L1283.4,2787.0 L1285.6,2786.8 L1287.8,2784.4 L1290.1,2784.2 L1292.3,2787.3 L1294.5,2787.0 L1296.8,2785.1 L1299.0,2786.0 L1301.5,2787.6 L1304.0,2783.0 L1306.5,2776.7 L1309.0,2777.4 L1311.5,2776.0 L1313.7,2777.1 L1315.9,2772.6 L1318.1,2774.4 L1320.3,2768.4 L1322.6,2769.6 L1324.8,2772.5 L1327.0,2769.6 L1329.2,2769.2 L1331.4,2767.0 L1333.8,2766.6 L1336.3,2770.5 L1338.7,2772.6 L1341.1,2772.3 L1343.6,2776.8 L1346.0,2777.5 L1348.2,2778.7 L1350.4,2783.0 L1352.7,2780.9 L1354.9,2780.6 L1357.1,2779.5 L1359.3,2780.7 L1361.6,2786.0 L1363.8,2782.2 L1366.0,2786.0 L1368.3,2783.0 L1370.5,2783.5 L1372.8,2785.9 L1375.0,2788.0 L1377.3,2786.4 L1379.6,2787.7 L1381.8,2782.3 L1384.1,2781.8 L1386.3,2787.2 L1388.6,2783.9 L1390.9,2786.6 L1393.1,2783.9 L1395.4,2782.5 L1397.6,2783.1 L1399.9,2781.8 L1402.1,2787.5 L1404.4,2785.1 L1406.7,2783.4 L1408.9,2784.0 L1411.2,2783.5 L1413.4,2781.0 L1415.7,2786.9 L1418.0,2784.6 L1420.2,2787.3 L1422.5,2783.4 L1424.7,2784.7 L1427.0,2783.7" fill="none" stroke="#1767E0" stroke-width="6" stroke-linejoin="round" stroke-linecap="round" clip-path="url(#cic)"/>
<path d="M898.3,2813.0 L900.7,2811.2 L903.0,2809.7 L905.4,2816.1 L907.7,2815.6 L910.1,2811.7 L912.5,2815.9 L914.8,2815.3 L917.2,2811.6 L919.6,2813.7 L921.9,2816.3 L924.3,2813.0 L926.6,2816.2 L929.0,2813.0 L931.2,2810.6 L933.4,2811.2 L935.6,2813.1 L937.9,2809.0 L940.1,2809.1 L942.3,2812.7 L944.5,2809.4 L946.7,2811.1 L948.9,2806.7 L951.1,2805.6 L953.4,2806.5 L955.6,2804.7 L957.8,2809.9 L960.0,2806.0 L962.4,2800.5 L964.8,2798.4 L967.2,2791.2 L969.7,2790.2 L972.1,2785.2 L974.5,2782.0 L976.9,2790.8 L979.2,2797.9 L981.6,2810.6 L984.0,2807.1 L986.4,2811.4 L988.8,2807.2 L991.2,2805.7 L993.6,2804.5 L996.0,2806.0 L998.4,2806.4 L1000.8,2808.1 L1003.2,2808.7 L1005.6,2815.2 L1008.0,2814.9 L1010.4,2815.5 L1012.8,2820.0 L1015.2,2822.0 L1017.6,2818.1 L1020.0,2819.8 L1022.4,2824.4 L1024.8,2819.8 L1027.1,2822.6 L1029.5,2825.9 L1031.9,2826.2 L1034.3,2822.0 L1036.7,2825.0 L1039.5,2820.7 L1042.2,2820.2 L1045.0,2815.4 L1047.2,2816.4 L1049.5,2822.5 L1051.7,2819.0 L1054.0,2826.2 L1056.2,2824.9 L1058.5,2824.8 L1060.7,2828.6 L1062.9,2828.4 L1065.1,2826.3 L1067.4,2830.6 L1069.6,2827.6 L1071.8,2832.3 L1074.0,2830.3 L1076.2,2828.8 L1078.5,2828.1 L1080.7,2830.9 L1082.9,2828.2 L1085.1,2833.2 L1087.4,2827.9 L1089.6,2830.9 L1091.8,2831.0 L1094.1,2829.7 L1096.4,2826.2 L1098.7,2828.2 L1101.0,2823.8 L1103.3,2824.2 L1105.6,2822.0 L1107.9,2818.6 L1110.2,2817.5 L1112.5,2813.8 L1114.8,2812.8 L1117.1,2816.1 L1119.4,2812.0 L1121.6,2813.3 L1123.9,2818.3 L1126.1,2816.9 L1128.3,2822.7 L1130.5,2823.9 L1132.8,2827.4 L1135.0,2830.0 L1137.5,2827.9 L1140.0,2825.5 L1142.5,2826.6 L1145.0,2825.4 L1147.5,2824.0 L1150.0,2826.0 L1152.3,2826.8 L1154.6,2822.9 L1156.9,2823.0 L1159.2,2825.9 L1161.5,2824.1 L1163.8,2824.1 L1166.2,2823.2 L1168.5,2817.2 L1170.8,2817.5 L1173.1,2814.9 L1175.4,2818.8 L1177.7,2817.9 L1180.0,2816.0 L1182.2,2815.7 L1184.5,2817.0 L1186.7,2819.6 L1189.0,2820.7 L1191.2,2818.3 L1193.5,2823.4 L1195.7,2820.7 L1198.0,2823.5 L1200.2,2821.1 L1202.5,2821.4 L1204.7,2825.0 L1207.0,2828.5 L1209.3,2827.7 L1211.6,2828.0 L1213.9,2823.7 L1216.2,2824.2 L1218.5,2825.6 L1220.8,2826.3 L1223.2,2827.6 L1225.5,2828.6 L1227.8,2826.7 L1230.1,2829.1 L1232.4,2832.0 L1234.7,2829.2 L1237.0,2832.0 L1239.3,2834.4 L1241.6,2832.5 L1243.9,2833.6 L1246.2,2830.2 L1248.6,2831.5 L1250.9,2833.3 L1253.2,2830.9 L1255.5,2828.4 L1257.8,2834.4 L1260.1,2834.0 L1262.4,2830.5 L1264.8,2828.7 L1267.1,2834.5 L1269.4,2832.8 L1271.7,2828.7 L1274.0,2832.0 L1276.3,2829.2 L1278.6,2827.4 L1280.9,2831.3 L1283.2,2826.2 L1285.5,2830.4 L1287.8,2828.3 L1290.2,2822.6 L1292.5,2826.0 L1294.8,2822.9 L1297.1,2824.6 L1299.4,2824.2 L1301.7,2819.3 L1304.0,2820.0 L1306.3,2814.5 L1308.5,2818.1 L1310.8,2811.8 L1313.1,2812.9 L1315.3,2808.7 L1317.6,2806.4 L1319.8,2804.6 L1322.1,2800.6 L1324.4,2796.8 L1326.6,2791.3 L1328.9,2792.0 L1331.4,2796.6 L1333.9,2797.8 L1336.5,2801.6 L1339.0,2807.7 L1341.5,2805.2 L1344.0,2811.0 L1346.4,2814.9 L1348.9,2811.7 L1351.3,2818.5 L1353.7,2821.2 L1356.1,2819.3 L1358.6,2823.3 L1361.0,2825.0 L1363.3,2828.5 L1365.6,2826.2 L1367.8,2825.7 L1370.1,2823.7 L1372.4,2822.4 L1374.7,2824.7 L1376.9,2825.2 L1379.2,2823.8 L1381.5,2824.7 L1383.8,2823.6 L1386.0,2827.8 L1388.3,2827.6 L1390.6,2824.6 L1392.9,2824.8 L1395.1,2826.9 L1397.4,2826.5 L1399.7,2830.1 L1402.0,2826.0 L1404.2,2825.8 L1406.5,2830.1 L1408.8,2824.9 L1411.1,2828.0 L1413.3,2826.5 L1415.6,2830.1 L1417.9,2828.3 L1420.2,2829.9 L1422.4,2825.8 L1424.7,2829.5 L1427.0,2828.4" fill="none" stroke="#2EAA66" stroke-width="6" stroke-linejoin="round" stroke-linecap="round" clip-path="url(#cic)"/>
<rect x="898.3" y="2476" width="528.8" height="371.0999999999999" fill="none" stroke="#000" stroke-width="5"/>
<rect x="896.0" y="2847.1" width="4.6" height="9" fill="#000"/>
<rect x="948.9" y="2847.1" width="4.6" height="3.5" fill="#000"/>
<rect x="1001.8" y="2847.1" width="4.6" height="9" fill="#000"/>
<rect x="1054.6" y="2847.1" width="4.6" height="3.5" fill="#000"/>
<rect x="1107.5" y="2847.1" width="4.6" height="9" fill="#000"/>
<rect x="1160.4" y="2847.1" width="4.6" height="3.5" fill="#000"/>
<rect x="1213.3" y="2847.1" width="4.6" height="9" fill="#000"/>
<rect x="1266.2" y="2847.1" width="4.6" height="3.5" fill="#000"/>
<rect x="1319.0" y="2847.1" width="4.6" height="9" fill="#000"/>
<rect x="1371.9" y="2847.1" width="4.6" height="3.5" fill="#000"/>
<rect x="1424.8" y="2847.1" width="4.6" height="9" fill="#000"/>
<g filter="url(#nolcd)">
<text x="898.3" y="2894" font-size="43" text-anchor="middle" textLength="40.5" lengthAdjust="spacingAndGlyphs" class="t2">32</text>
<text x="1004.1" y="2894" font-size="43" text-anchor="middle" textLength="40.5" lengthAdjust="spacingAndGlyphs" class="t2">34</text>
<text x="1109.8" y="2894" font-size="43" text-anchor="middle" textLength="40.5" lengthAdjust="spacingAndGlyphs" class="t2">36</text>
<text x="1215.6" y="2894" font-size="43" text-anchor="middle" textLength="40.5" lengthAdjust="spacingAndGlyphs" class="t2">38</text>
<text x="1321.3" y="2894" font-size="43" text-anchor="middle" textLength="40.5" lengthAdjust="spacingAndGlyphs" class="t2">40</text>
<text x="1427.1" y="2894" font-size="43" text-anchor="middle" textLength="40.5" lengthAdjust="spacingAndGlyphs" class="t2">42</text>
</g>
<path d="M973.4,2659 L1008,2659 L990.7,2698 Z" fill="#8000FF"/>
<path d="M1326.75,2660.7 L1344.6,2683.35 L1326.75,2706 L1308.9,2683.35 Z" fill="#F0506E"/>
</svg>
</body></html>
